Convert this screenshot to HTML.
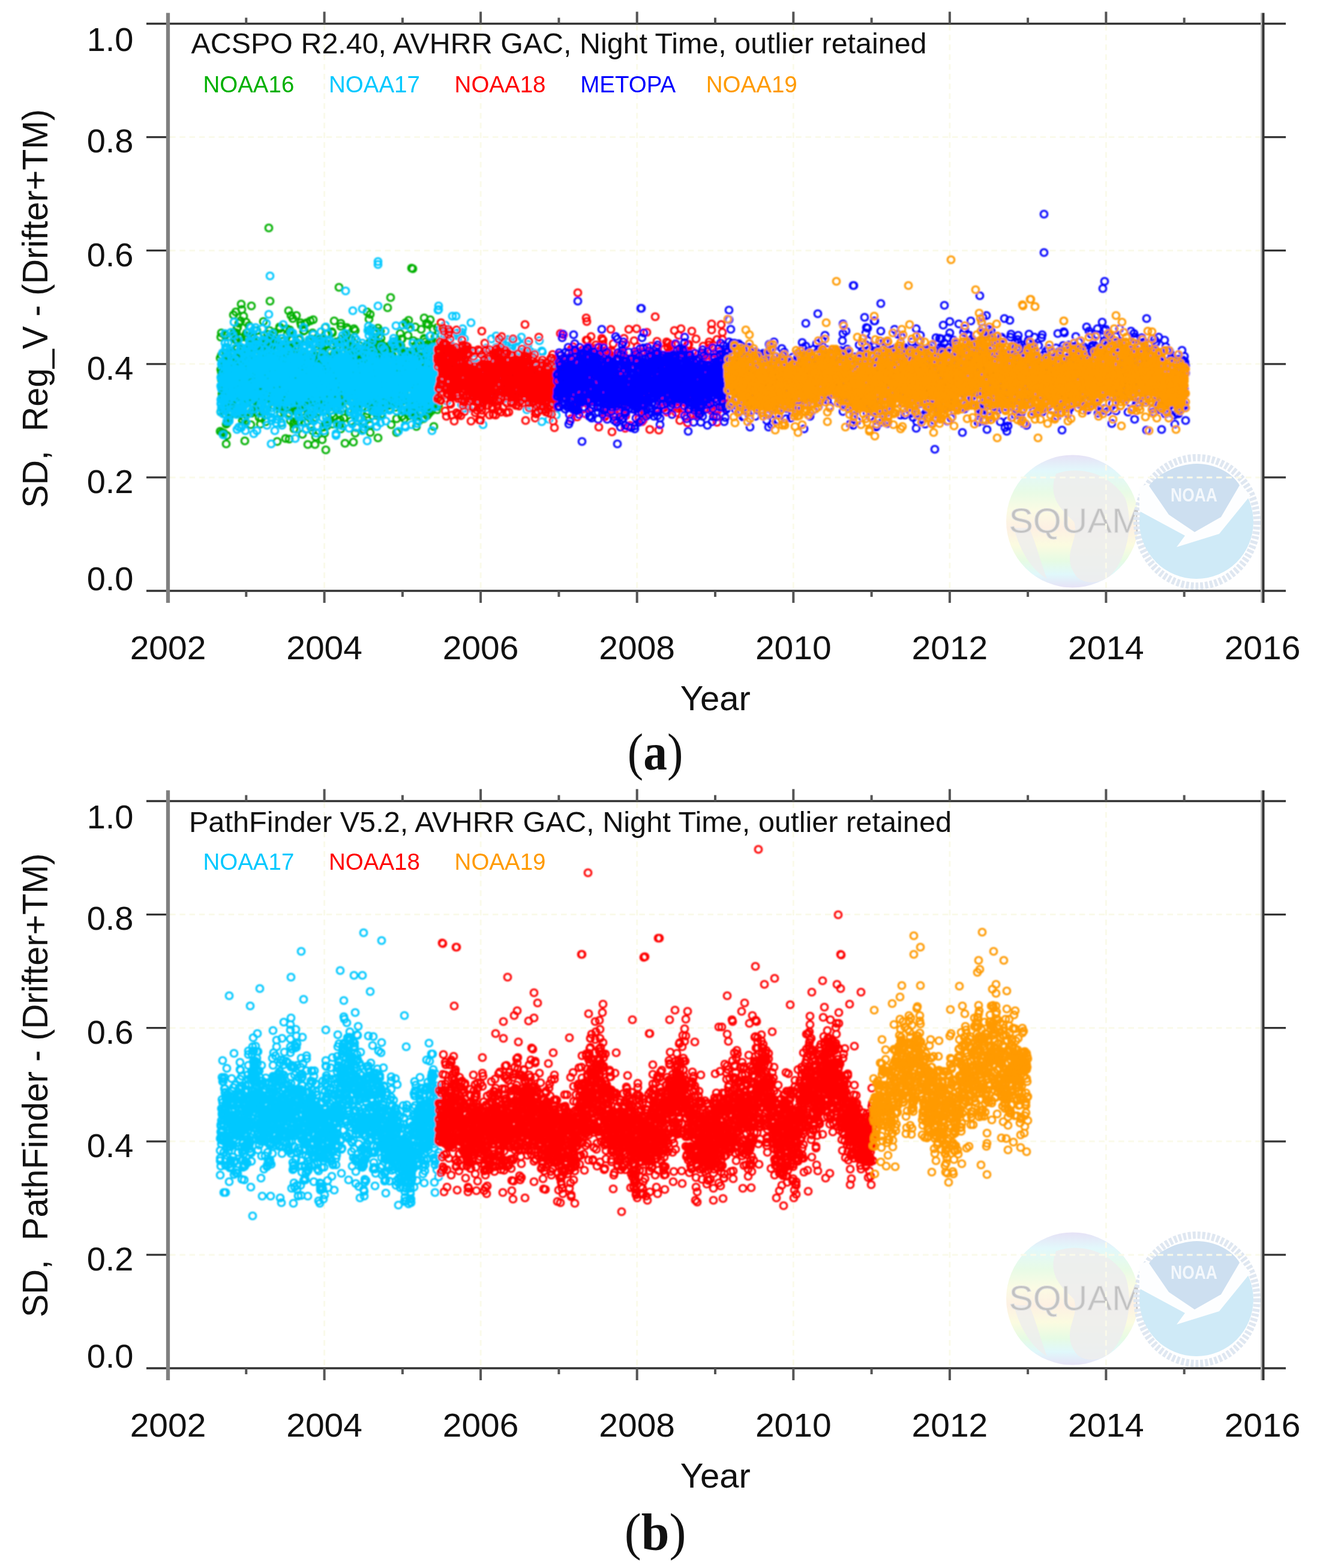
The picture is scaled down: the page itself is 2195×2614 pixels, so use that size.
<!DOCTYPE html>
<html><head><meta charset="utf-8"><style>
html,body{margin:0;padding:0;background:#fff;}
svg{display:block;}
</style></head><body>
<svg width="2195" height="2614" viewBox="0 0 2195 2614" font-family='"Liberation Sans", Arial, Helvetica, sans-serif' fill="#111">
<defs><filter id="gb" x="0" y="0" width="100%" height="100%" filterUnits="userSpaceOnUse"><feGaussianBlur stdDeviation="0"/></filter></defs>
<rect width="2195" height="2614" fill="#fff"/>
<g>
<defs><linearGradient id="globe" x1="0" y1="0" x2="0" y2="1"><stop offset="0" stop-color="#e6e2f6"/><stop offset="0.12" stop-color="#e2f8fb"/><stop offset="0.28" stop-color="#e8fbe6"/><stop offset="0.42" stop-color="#fbfbe4"/><stop offset="0.55" stop-color="#fdf0e3"/><stop offset="0.68" stop-color="#fbfbe0"/><stop offset="0.8" stop-color="#e6fbe4"/><stop offset="0.9" stop-color="#e0f8fb"/><stop offset="1" stop-color="#e6e2f6"/></linearGradient></defs>
<g transform="translate(0 0)">
<circle cx="1787.5" cy="869" r="110.5" fill="url(#globe)"/>
<path d="M1760 790 C1800 775 1850 790 1875 830 C1890 870 1880 930 1850 960 C1830 975 1800 975 1790 955 C1770 920 1800 900 1790 870 C1770 850 1745 830 1760 790Z" fill="#ededed" opacity="0.9"/>
<path d="M1690 880 C1700 920 1720 950 1745 965 C1735 940 1725 900 1715 880Z" fill="#ededed" opacity="0.8"/>
<text x="1681.4" y="887.5" font-size="58" fill="#c2c2c2" stroke="#e2e2e2" stroke-width="1.2" textLength="222" lengthAdjust="spacingAndGlyphs">SQUAM</text>
<ellipse cx="1995" cy="870" rx="100" ry="107" fill="#fff" stroke="#dfe7f1" stroke-width="12" stroke-dasharray="5 3"/>
<circle cx="1994" cy="870" r="95" fill="#cfeaf7"/>
<path d="M1899 812 L1915 806 L1991 884 L2066 805 L2084 826 L2032 890 L1961 912 L1975 893 L1899 852Z" fill="#fdfeff"/>
<path d="M1915 810 C1930 790 1960 774 1995 773 C2030 774 2055 790 2066 809 L2035 862 L1991 887 L1948 858Z" fill="#cddff0"/>
<text x="1990" y="836" text-anchor="middle" font-size="32" font-weight="bold" fill="#f4f8fc" textLength="78" lengthAdjust="spacingAndGlyphs">NOAA</text>
</g>
<g transform="translate(0 1296)">
<circle cx="1787.5" cy="869" r="110.5" fill="url(#globe)"/>
<path d="M1760 790 C1800 775 1850 790 1875 830 C1890 870 1880 930 1850 960 C1830 975 1800 975 1790 955 C1770 920 1800 900 1790 870 C1770 850 1745 830 1760 790Z" fill="#ededed" opacity="0.9"/>
<path d="M1690 880 C1700 920 1720 950 1745 965 C1735 940 1725 900 1715 880Z" fill="#ededed" opacity="0.8"/>
<text x="1681.4" y="887.5" font-size="58" fill="#c2c2c2" stroke="#e2e2e2" stroke-width="1.2" textLength="222" lengthAdjust="spacingAndGlyphs">SQUAM</text>
<ellipse cx="1995" cy="870" rx="100" ry="107" fill="#fff" stroke="#dfe7f1" stroke-width="12" stroke-dasharray="5 3"/>
<circle cx="1994" cy="870" r="95" fill="#cfeaf7"/>
<path d="M1899 812 L1915 806 L1991 884 L2066 805 L2084 826 L2032 890 L1961 912 L1975 893 L1899 852Z" fill="#fdfeff"/>
<path d="M1915 810 C1930 790 1960 774 1995 773 C2030 774 2055 790 2066 809 L2035 862 L1991 887 L1948 858Z" fill="#cddff0"/>
<text x="1990" y="836" text-anchor="middle" font-size="32" font-weight="bold" fill="#f4f8fc" textLength="78" lengthAdjust="spacingAndGlyphs">NOAA</text>
</g>
<path d="M540.6 41.5V983.0M801.1 41.5V983.0M1061.7 41.5V983.0M1322.3 41.5V983.0M1582.9 41.5V983.0M1843.4 41.5V983.0M283.0 795.9H2101.0M283.0 606.8H2101.0M283.0 417.7H2101.0M283.0 228.6H2101.0" stroke="#fafaea" stroke-width="3" stroke-dasharray="9.5 6.8" fill="none"/>
<path d="M244 39.5H2143M244 985.0H2143" stroke="#333" stroke-width="3.3" fill="none"/>
<path d="M244 795.9H280.0M2104.0 795.9H2143M244 606.8H280.0M2104.0 606.8H2143M244 417.7H280.0M2104.0 417.7H2143M244 228.6H280.0M2104.0 228.6H2143" stroke="#333" stroke-width="3.2" fill="none"/>
<path d="M410.3 29.5V39.5M410.3 985.0V995.0M540.6 19.5V39.5M540.6 985.0V1005.0M670.9 29.5V39.5M670.9 985.0V995.0M801.1 19.5V39.5M801.1 985.0V1005.0M931.4 29.5V39.5M931.4 985.0V995.0M1061.7 19.5V39.5M1061.7 985.0V1005.0M1192.0 29.5V39.5M1192.0 985.0V995.0M1322.3 19.5V39.5M1322.3 985.0V1005.0M1452.6 29.5V39.5M1452.6 985.0V995.0M1582.9 19.5V39.5M1582.9 985.0V1005.0M1713.1 29.5V39.5M1713.1 985.0V995.0M1843.4 19.5V39.5M1843.4 985.0V1005.0M1973.7 29.5V39.5M1973.7 985.0V995.0" stroke="#555" stroke-width="4" fill="none"/>
<path d="M280.0 21.5V1005.0" stroke="#808080" stroke-width="6.3" fill="none"/>
<path d="M2102.5 21.5V1005.0" stroke="#bbb" stroke-width="3" fill="none"/>
<path d="M2105.5 21.5V1005.0" stroke="#333" stroke-width="4" fill="none"/>
<path d="M540.6 1337.5V2279.0M801.1 1337.5V2279.0M1061.7 1337.5V2279.0M1322.3 1337.5V2279.0M1582.9 1337.5V2279.0M1843.4 1337.5V2279.0M283.0 2091.9H2101.0M283.0 1902.8H2101.0M283.0 1713.7H2101.0M283.0 1524.6H2101.0" stroke="#fafaea" stroke-width="3" stroke-dasharray="9.5 6.8" fill="none"/>
<path d="M244 1335.5H2143M244 2281.0H2143" stroke="#333" stroke-width="3.3" fill="none"/>
<path d="M244 2091.9H280.0M2104.0 2091.9H2143M244 1902.8H280.0M2104.0 1902.8H2143M244 1713.7H280.0M2104.0 1713.7H2143M244 1524.6H280.0M2104.0 1524.6H2143" stroke="#333" stroke-width="3.2" fill="none"/>
<path d="M410.3 1325.5V1335.5M410.3 2281.0V2291.0M540.6 1315.5V1335.5M540.6 2281.0V2301.0M670.9 1325.5V1335.5M670.9 2281.0V2291.0M801.1 1315.5V1335.5M801.1 2281.0V2301.0M931.4 1325.5V1335.5M931.4 2281.0V2291.0M1061.7 1315.5V1335.5M1061.7 2281.0V2301.0M1192.0 1325.5V1335.5M1192.0 2281.0V2291.0M1322.3 1315.5V1335.5M1322.3 2281.0V2301.0M1452.6 1325.5V1335.5M1452.6 2281.0V2291.0M1582.9 1315.5V1335.5M1582.9 2281.0V2301.0M1713.1 1325.5V1335.5M1713.1 2281.0V2291.0M1843.4 1315.5V1335.5M1843.4 2281.0V2301.0M1973.7 1325.5V1335.5M1973.7 2281.0V2291.0" stroke="#555" stroke-width="4" fill="none"/>
<path d="M280.0 1317.5V2301.0" stroke="#808080" stroke-width="6.3" fill="none"/>
<path d="M2102.5 1317.5V2301.0" stroke="#bbb" stroke-width="3" fill="none"/>
<path d="M2105.5 1317.5V2301.0" stroke="#333" stroke-width="4" fill="none"/>
<defs><filter id="bl" x="-2%" y="-2%" width="104%" height="104%"><feGaussianBlur stdDeviation="0.9"/></filter><marker id="mg" markerWidth="20" markerHeight="20" refX="10" refY="10" markerUnits="userSpaceOnUse"><circle cx="10" cy="10" r="5.8" fill="none" stroke="#00b000" stroke-width="3.1"/></marker><marker id="mc" markerWidth="20" markerHeight="20" refX="10" refY="10" markerUnits="userSpaceOnUse"><circle cx="10" cy="10" r="5.8" fill="none" stroke="#00c8ff" stroke-width="3.1"/></marker><marker id="mr" markerWidth="20" markerHeight="20" refX="10" refY="10" markerUnits="userSpaceOnUse"><circle cx="10" cy="10" r="5.8" fill="none" stroke="#ff0000" stroke-width="3.1"/></marker><marker id="mb" markerWidth="20" markerHeight="20" refX="10" refY="10" markerUnits="userSpaceOnUse"><circle cx="10" cy="10" r="5.8" fill="none" stroke="#0000ff" stroke-width="3.1"/></marker><marker id="mo" markerWidth="20" markerHeight="20" refX="10" refY="10" markerUnits="userSpaceOnUse"><circle cx="10" cy="10" r="5.8" fill="none" stroke="#ff9a00" stroke-width="3.1"/></marker></defs>
<g filter="url(#bl)">
<polyline points="367,597 368,687 368,686 368,616 368,562 369,621 369,592 369,633 369,555 370,661 370,721 370,656 370,641 371,628 371,661 371,631 371,663 372,624 372,685 372,651 372,619 373,647 373,654 373,722 373,647 374,661 374,604 374,670 374,627 375,559 375,690 375,649 375,675 376,612 376,667 376,601 376,663 377,740 377,607 377,588 377,707 378,649 378,579 378,645 378,726 378,660 379,593 379,705 379,681 380,635 380,593 380,667 380,667 381,625 381,669 381,668 381,626 382,604 382,607 382,697 382,596 382,679 383,561 383,622 383,655 383,654 384,652 384,632 384,662 385,618 385,660 385,600 385,589 385,656 386,624 386,635 386,632 387,651 387,655 387,635 387,656 388,630 388,659 388,643 388,659 389,525 389,605 389,654 389,654 389,611 390,554 390,609 390,588 391,554 391,666 391,629 391,646 391,665 392,643 392,656 392,566 392,689 393,682 393,520 393,612 394,566 394,673 394,555 394,596 394,628 395,582 395,547 395,689 395,671 396,646 396,546 396,608 396,639 397,609 397,621 397,607 397,658 398,663 398,588 398,634 398,539 399,656 399,616 399,563 399,620 400,616 400,632 400,642 400,614 401,625 401,643 401,535 401,641 402,643 402,621 402,507 402,616 403,658 403,613 403,516 403,644 404,709 404,701 404,640 404,651 405,623 405,606 405,680 405,604 406,651 406,601 406,573 406,695 407,675 407,638 407,592 407,619 408,608 408,616 408,610 408,669 408,697 409,623 409,589 409,559 410,631 410,604 410,646 410,537 411,586 411,615 411,555 411,666 412,603 412,582 412,638 412,650 413,603 413,671 413,662 413,609 413,562 414,612 414,585 414,606 414,626 415,543 415,645 415,641 416,682 416,621 416,625 416,652 416,614 417,578 417,591 417,638 417,575 418,599 418,612 418,708 419,597 419,654 419,689 419,667 420,644 420,632 420,685 420,650 421,628 421,658 421,622 421,632 422,643 422,644 422,573 422,564 422,634 423,663 423,676 423,569 423,630 424,601 424,578 424,581 424,629 425,589 425,603 425,578 425,682 426,669 426,652 426,628 426,650 427,687 427,666 427,633 427,657 428,637 428,612 428,639 428,551 429,635 429,674 429,620 429,651 430,579 430,653 430,608 430,639 431,663 431,618 431,616 431,562 432,672 432,696 432,600 432,584 433,622 433,657 433,627 433,657 434,600 434,628 434,707 434,620 435,678 435,667 435,587 435,603 436,697 436,649 436,642 436,582 436,655 437,665 437,614 437,620 438,662 438,570 438,612 438,670 439,582 439,596 439,536 439,594 440,662 440,620 440,643 440,605 441,648 441,642 441,628 441,632 442,593 442,612 442,627 442,636 443,579 443,597 443,565 443,703 444,587 444,622 444,569 444,627 445,656 445,632 445,682 445,657 445,591 446,568 446,601 446,557 447,606 447,648 447,644 447,626 447,637 448,638 448,603 448,672 448,608 449,646 449,573 449,551 450,600 450,660 450,585 450,571 450,667 451,598 451,619 451,636 451,606 452,612 452,627 452,590 452,613 453,565 453,611 453,588 453,670 454,565 454,633 454,572 454,643 455,667 455,640 455,645 456,608 456,655 456,676 456,622 457,653 457,554 457,661 457,561 457,583 458,611 458,624 458,595 458,594 459,575 459,616 459,614 459,618 460,631 460,604 460,603 460,650 461,657 461,636 461,573 461,638 462,736 462,587 462,639 462,671 463,630 463,602 463,595 463,604 463,602 464,677 464,646 464,597 465,647 465,629 465,632 465,612 466,548 466,672 466,545 466,665 466,676 467,633 467,644 467,688 468,650 468,657 468,649 468,630 469,705 469,658 469,627 469,638 470,627 470,606 470,641 470,628 471,640 471,644 471,677 471,569 471,584 472,659 472,678 472,598 473,606 473,686 473,626 473,599 474,671 474,629 474,610 474,676 475,650 475,619 475,605 475,625 476,628 476,731 476,672 476,641 477,586 477,637 477,641 477,581 477,602 478,629 478,630 478,677 478,548 479,659 479,557 479,661 479,615 480,663 480,648 480,588 480,632 481,622 481,592 481,667 482,628 482,578 482,689 482,598 482,732 483,620 483,554 483,550 483,627 484,580 484,638 484,701 484,575 485,627 485,526 485,661 485,678 486,597 486,634 486,581 486,612 487,685 487,642 487,655 487,567 488,574 488,604 488,641 488,531 489,707 489,586 489,657 489,650 490,587 490,677 490,703 490,668 491,637 491,622 491,594 491,608 492,607 492,578 492,639 492,654 493,609 493,618 493,589 493,646 494,642 494,640 494,629 494,672 495,685 495,663 495,625 495,627 496,609 496,683 496,650 496,703 497,661 497,592 497,622 497,617 498,566 498,666 498,656 498,607 499,603 499,611 499,622 499,640 499,597 500,600 500,595 500,624 500,566 501,670 501,538 501,676 502,687 502,677 502,592 502,673 502,647 503,661 503,665 503,614 503,602 504,627 504,595 504,643 504,616 505,676 505,641 505,631 505,636 506,577 506,552 506,611 507,551 507,609 507,643 507,646 507,619 508,664 508,690 508,540 508,654 509,705 509,659 509,662 510,652 510,638 510,636 510,628 510,629 511,596 511,590 511,538 511,637 512,614 512,655 512,663 512,642 513,597 513,645 513,702 513,741 514,664 514,612 514,687 514,605 515,570 515,607 515,657 515,665 516,619 516,629 516,615 516,650 517,683 517,535 517,673 517,617 518,632 518,654 518,712 518,669 519,642 519,614 519,600 519,565 520,634 520,605 520,621 520,631 521,636 521,718 521,555 521,626 522,648 522,660 522,533 522,669 523,671 523,632 523,639 523,691 524,659 524,636 524,654 524,660 525,741 525,614 525,595 525,638 526,728 526,696 526,672 526,638 527,609 527,593 527,613 527,664 528,589 528,688 528,641 528,610 529,637 529,584 529,630 529,602 530,615 530,588 530,668 530,643 531,566 531,596 531,675 531,588 531,645 532,633 532,643 532,571 532,614 533,654 533,647 533,633 533,662 534,622 534,680 534,674 534,612 535,660 535,642 535,643 536,628 536,601 536,576 536,664 536,609 537,639 537,608 537,628 538,662 538,596 538,667 538,675 538,563 539,712 539,631 539,610 539,670 540,644 540,606 540,673 541,577 541,594 541,722 541,592 541,677 542,631 542,546 542,707 542,591 543,652 543,575 543,557 543,750 544,628 544,556 544,630 544,696 545,573 545,710 545,655 545,657 546,645 546,608 546,653 546,620 547,668 547,644 547,636 547,597 548,647 548,661 548,667 548,601 549,662 549,603 549,626 549,608 550,640 550,700 550,630 550,634 550,633 551,613 551,654 551,675 551,650 552,597 552,638 552,630 553,656 553,690 553,617 553,553 553,636 554,555 554,660 554,668 554,576 555,625 555,707 555,666 556,694 556,619 556,606 556,603 556,603 557,590 557,633 557,607 557,535 558,595 558,619 558,623 559,641 559,651 559,629 559,652 560,596 560,600 560,570 560,664 560,605 561,581 561,591 561,680 561,599 562,678 562,595 562,599 563,668 563,683 563,616 563,666 564,611 564,674 564,632 564,626 565,591 565,703 565,602 565,652 566,708 566,655 566,596 566,623 567,629 567,626 567,617 567,606 567,700 568,539 568,544 568,659 568,715 569,565 569,638 569,674 569,625 570,665 570,601 570,601 571,612 571,664 571,660 571,618 572,602 572,622 572,625 572,681 572,622 573,697 573,649 573,664 573,654 574,624 574,617 574,668 574,621 575,623 575,739 575,621 575,605 576,564 576,560 576,609 576,623 577,618 577,621 577,618 577,622 578,636 578,576 578,603 578,546 579,655 579,613 579,601 579,573 580,586 580,549 580,608 580,638 581,593 581,615 581,687 581,600 581,605 582,563 582,614 582,649 583,650 583,611 583,612 583,591 584,653 584,670 584,651 584,612 585,580 585,653 585,601 585,702 586,566 586,653 586,649 586,594 586,609 587,609 587,631 587,647 588,615 588,614 588,641 588,645 588,671 589,605 589,593 589,676 589,737 590,651 590,689 590,548 591,584 591,680 591,638 591,611 591,634 592,574 592,626 592,551 592,636 593,618 593,610 593,627 593,611 594,642 594,713 594,634 595,669 595,639 595,675 595,621 595,605 596,617 596,623 596,606 596,664 597,587 597,580 597,600 597,697 598,664 598,595 598,626 598,594 599,617 599,598 599,615 599,576 600,631 600,671 600,625 600,674 601,697 601,647 601,600 601,647 602,587 602,639 602,640 603,623 603,594 603,679 603,656 603,655 604,599 604,603 604,659 604,602 605,636 605,632 605,642 605,659 606,716 606,638 606,631 606,632 607,655 607,642 607,704 607,649 608,660 608,646 608,613 608,582 609,646 609,637 609,631 609,578 610,610 610,611 610,632 610,644 611,610 611,650 611,585 611,654 612,639 612,690 612,670 612,520 612,627 613,668 613,685 613,615 614,671 614,635 614,649 614,614 615,593 615,595 615,532 615,574 615,667 616,603 616,571 616,550 616,596 617,709 617,603 617,721 618,614 618,607 618,590 618,635 618,677 619,580 619,642 619,623 620,591 620,622 620,625 620,646 620,604 621,693 621,611 621,658 621,573 622,673 622,618 622,662 623,567 623,674 623,680 623,676 623,622 624,627 624,605 624,631 625,565 625,676 625,551 625,680 625,665 626,613 626,658 626,651 626,687 627,553 627,689 627,618 627,655 628,677 628,592 628,626 628,648 629,693 629,645 629,607 629,600 630,663 630,730 630,577 630,547 631,595 631,597 631,666 631,573 632,608 632,604 632,676 633,631 633,679 633,642 633,580 633,570 634,677 634,624 634,609 634,552 635,564 635,613 635,606 635,691 636,584 636,594 636,663 636,676 637,667 637,580 637,655 637,639 638,576 638,623 638,642 638,636 639,591 639,629 639,594 639,675 640,621 640,679 640,647 640,672 641,615 641,654 641,626 641,624 642,639 642,629 642,591 642,635 643,592 643,604 643,659 643,666 644,671 644,636 644,585 644,610 645,615 645,620 645,639 645,643 646,626 646,598 646,663 646,643 647,638 647,579 647,597 647,630 648,658 648,635 648,676 648,616 649,663 649,681 649,649 649,674 650,634 650,617 650,576 650,672 651,618 651,673 651,496 651,631 651,639 652,708 652,584 652,636 653,592 653,613 653,575 653,642 653,648 654,674 654,593 654,646 654,675 655,658 655,621 655,621 655,624 656,649 656,600 656,611 656,630 657,609 657,611 657,651 657,651 658,647 658,620 658,650 658,672 659,679 659,649 659,602 660,622 660,653 660,607 660,651 660,664 661,721 661,658 661,698 661,651 662,571 662,577 662,666 662,568 663,615 663,580 663,576 663,639 664,664 664,626 664,581 664,657 665,665 665,663 665,640 665,609 666,634 666,665 666,661 666,650 667,643 667,623 667,647 667,556 667,654 668,576 668,660 668,641 669,565 669,581 669,619 669,587 670,635 670,565 670,616 670,663 670,694 671,633 671,619 671,638 672,599 672,587 672,683 672,609 673,646 673,664 673,668 673,613 674,655 674,698 674,619 674,627 674,607 675,605 675,590 675,650 676,649 676,604 676,622 676,637 677,605 677,618 677,664 677,623 678,586 678,542 678,623 678,619 678,604 679,605 679,643 679,623 680,627 680,615 680,625 680,627 680,559 681,588 681,655 681,534 681,613 682,693 682,618 682,625 682,624 683,592 683,607 683,634 683,603 684,670 684,637 684,663 685,624 685,618 685,627 685,685 686,586 686,594 686,690 686,605 686,603 687,607 687,623 687,623 687,633 688,671 688,635 688,640 689,628 689,568 689,623 689,662 689,649 690,686 690,654 690,665 690,688 691,669 691,623 691,686 691,662 692,695 692,545 692,641 692,640 693,625 693,642 693,576 693,608 694,622 694,711 694,590 694,662 695,622 695,694 695,650 695,679 696,694 696,571 696,615 696,627 697,618 697,574 697,668 697,674 698,679 698,620 698,702 698,659 698,600 699,622 699,631 699,634 700,598 700,635 700,588 700,623 701,625 701,594 701,675 701,640 702,614 702,549 702,689 702,603 703,663 703,606 703,616 703,635 704,609 704,597 704,669 704,630 705,628 705,657 705,598 705,660 706,698 706,648 706,578 706,622 707,566 707,530 707,564 707,622 707,644 708,614 708,662 708,678 708,684 709,618 709,570 709,580 710,639 710,618 710,649 710,598 711,653 711,617 711,539 711,649 712,582 712,635 712,640 712,693 712,603 713,636 713,642 713,686 714,604 714,600 714,614 714,624 714,595 715,648 715,576 715,689 715,674 716,666 716,649 716,623 716,637 717,572 717,640 717,533 717,640 718,616 718,632 718,657 718,641 719,676 719,577 719,685 719,679 720,658 720,615 720,680 720,612 721,663 721,678 721,601 722,549 722,619 722,625 722,660 722,570 723,655 723,618 723,646 723,711 724,675 724,621 724,662 724,614 725,610 725,562 725,666 725,657 726,665 726,671 726,591 726,600 727,585 727,627 727,622 727,622 728,643 728,625 728,637 728,619 729,622 729,683 729,594 729,546 730,678 730,602 730,588 730,596 731,569 731,612 731,677 731,569 688,448 565,479 450,502 419,510 406,527 481,518 494,526 502,542 617,524 646,513 676,538 714,541 408,735 537,733 592,722 504,724 367,719 490,715 448,380 686,447" fill="none" stroke="none" marker-start="url(#mg)" marker-mid="url(#mg)" marker-end="url(#mg)"/>
<polyline points="368,629 368,643 368,644 368,687 368,673 368,666 369,680 369,607 369,673 369,648 370,603 370,632 370,607 370,664 370,609 371,634 371,588 371,638 372,622 372,690 372,630 372,668 372,607 373,589 373,675 373,644 373,621 374,664 374,679 374,626 374,660 374,634 375,599 375,572 375,667 375,556 375,685 376,641 376,625 376,596 376,579 377,607 377,615 377,583 377,639 378,611 378,702 378,645 378,609 378,660 378,649 379,619 379,628 379,637 379,637 380,572 380,647 380,666 380,629 381,627 381,635 381,651 381,690 382,616 382,632 382,702 382,627 382,584 382,700 383,612 383,666 383,608 384,637 384,587 384,651 384,640 384,626 385,621 385,554 385,642 385,658 386,625 386,617 386,685 386,637 386,634 387,591 387,598 387,623 387,610 387,662 388,626 388,559 388,682 388,678 389,636 389,654 389,636 389,660 390,601 390,657 390,537 390,639 390,647 391,635 391,637 391,655 391,630 391,639 392,599 392,631 392,654 392,688 393,618 393,621 393,622 393,580 393,645 394,622 394,686 394,691 394,615 395,716 395,619 395,616 395,656 396,633 396,594 396,686 396,664 396,611 397,631 397,567 397,593 397,610 397,609 398,646 398,664 398,712 398,652 399,685 399,636 399,683 399,617 400,621 400,674 400,584 400,621 400,670 401,632 401,580 401,651 401,658 402,579 402,615 402,649 402,677 402,713 403,683 403,617 403,627 403,635 404,689 404,676 404,605 404,684 405,649 405,641 405,657 405,653 405,652 406,624 406,588 406,628 406,627 406,669 407,633 407,587 407,628 407,650 408,672 408,599 408,614 408,613 408,630 409,623 409,657 409,595 409,607 410,650 410,704 410,647 410,645 411,580 411,681 411,586 411,661 411,600 412,649 412,650 412,624 412,599 412,613 413,659 413,593 413,609 413,647 414,554 414,679 414,690 414,625 415,604 415,666 415,577 415,651 415,654 416,568 416,683 416,571 416,645 417,572 417,650 417,665 417,664 417,586 418,546 418,608 418,641 418,594 418,620 419,581 419,667 419,620 419,558 420,639 420,642 420,610 420,615 420,650 421,613 421,623 421,577 421,624 422,638 422,682 422,599 422,607 423,652 423,723 423,550 423,648 423,647 424,663 424,649 424,604 424,659 425,609 425,621 425,576 425,646 425,647 426,566 426,638 426,608 426,546 427,574 427,604 427,641 427,598 427,593 428,568 428,657 428,611 428,639 428,613 429,614 429,618 429,591 430,579 430,657 430,616 430,611 430,616 431,592 431,657 431,609 431,662 431,640 432,600 432,627 432,630 432,632 433,609 433,581 433,627 433,679 433,616 434,689 434,602 434,619 434,646 435,631 435,593 435,648 435,600 435,673 436,657 436,640 436,674 436,610 437,635 437,548 437,658 437,632 438,606 438,567 438,660 438,612 438,625 439,601 439,669 439,615 439,679 439,666 440,663 440,685 440,606 440,560 440,608 441,641 441,626 441,568 441,681 442,592 442,610 442,609 442,582 443,606 443,686 443,622 443,651 444,539 444,644 444,692 444,649 444,628 445,634 445,641 445,709 445,589 446,642 446,608 446,619 446,639 446,574 447,607 447,592 447,601 447,672 448,652 448,587 448,619 448,644 448,587 449,611 449,631 449,644 449,658 449,647 450,659 450,668 450,561 450,619 451,658 451,602 451,695 451,596 452,622 452,687 452,740 452,589 452,607 453,680 453,598 453,701 453,676 454,648 454,556 454,610 454,697 455,592 455,598 455,626 455,624 455,637 455,579 456,662 456,634 456,662 456,611 457,665 457,646 457,570 457,647 457,643 458,638 458,654 458,718 458,629 459,592 459,632 459,605 459,609 459,671 460,581 460,705 460,639 461,653 461,608 461,660 461,666 461,638 462,665 462,610 462,678 462,699 462,656 463,656 463,666 463,601 463,669 464,585 464,655 464,672 464,570 464,635 465,661 465,645 465,591 465,661 466,595 466,621 466,660 466,596 466,616 467,656 467,692 467,587 467,622 468,630 468,602 468,621 468,564 469,643 469,623 469,585 469,610 469,669 470,638 470,592 470,577 470,709 470,611 471,681 471,626 471,564 471,613 472,602 472,621 472,611 472,605 473,670 473,618 473,580 473,627 473,653 474,628 474,635 474,665 474,648 475,604 475,577 475,619 475,634 475,577 476,603 476,633 476,623 476,646 477,622 477,628 477,622 477,617 477,611 478,615 478,677 478,624 478,635 478,625 479,671 479,587 479,645 480,634 480,654 480,583 480,626 480,631 481,650 481,649 481,666 481,692 481,693 482,606 482,650 482,645 482,590 483,565 483,590 483,628 483,601 483,664 484,618 484,671 484,565 484,598 485,554 485,645 485,662 485,627 485,605 486,576 486,598 486,657 486,672 487,647 487,595 487,645 487,623 487,666 488,605 488,661 488,642 488,555 489,652 489,622 489,619 489,596 490,630 490,631 490,630 490,640 490,614 491,633 491,607 491,645 491,599 492,622 492,731 492,644 492,589 492,638 492,620 493,603 493,657 493,671 494,632 494,620 494,570 494,716 494,595 495,616 495,645 495,606 495,600 496,621 496,573 496,598 496,658 497,641 497,692 497,689 497,661 497,637 497,606 498,693 498,588 498,622 498,604 499,656 499,663 499,695 499,564 500,624 500,640 500,627 500,599 500,642 501,659 501,624 501,667 501,639 502,636 502,666 502,680 502,593 502,659 503,609 503,631 503,624 503,704 503,633 504,626 504,619 504,642 504,652 505,662 505,588 505,664 505,637 505,607 506,658 506,678 506,546 506,632 507,643 507,581 507,592 507,588 507,655 508,632 508,578 508,600 508,648 509,575 509,604 509,625 509,659 510,672 510,716 510,715 510,598 510,608 511,646 511,646 511,653 511,630 512,654 512,663 512,640 512,615 512,634 513,631 513,611 513,614 513,632 514,657 514,620 514,622 514,692 515,693 515,598 515,566 515,585 515,607 516,640 516,574 516,652 516,580 517,630 517,633 517,595 517,638 517,584 518,710 518,568 518,602 518,620 518,649 519,596 519,690 519,684 519,683 520,623 520,566 520,651 520,659 520,684 521,610 521,589 521,679 521,626 522,643 522,648 522,624 522,558 523,702 523,625 523,653 523,634 523,662 524,685 524,611 524,642 524,644 525,612 525,648 525,666 525,634 525,698 526,656 526,611 526,634 526,612 527,644 527,722 527,629 527,670 527,611 528,628 528,649 528,624 528,616 528,652 529,640 529,625 529,681 529,710 530,578 530,611 530,624 530,638 531,646 531,654 531,648 531,682 531,631 532,661 532,620 532,640 532,572 533,652 533,670 533,568 533,634 533,604 534,652 534,615 534,655 534,635 534,628 535,617 535,553 535,682 535,573 536,648 536,660 536,636 536,594 537,638 537,590 537,669 537,647 537,592 538,636 538,629 538,686 538,697 539,614 539,631 539,640 539,683 539,686 540,569 540,630 540,599 540,718 541,654 541,618 541,637 541,600 541,631 542,636 542,624 542,677 542,599 542,662 543,648 543,624 543,545 544,642 544,644 544,626 544,694 544,645 545,603 545,702 545,602 545,658 546,569 546,706 546,633 546,604 546,640 547,641 547,602 547,638 547,605 547,556 548,662 548,638 548,628 548,604 549,671 549,675 549,640 549,630 550,603 550,568 550,636 550,614 550,653 551,678 551,649 551,679 551,588 552,642 552,615 552,679 552,651 552,646 553,684 553,642 553,615 553,647 554,650 554,603 554,612 554,653 554,648 555,671 555,572 555,623 555,648 556,663 556,606 556,622 556,621 556,599 557,611 557,674 557,660 557,642 557,642 558,660 558,629 558,670 559,589 559,623 559,619 559,652 559,612 559,608 560,723 560,726 560,615 560,634 561,648 561,671 561,663 561,628 562,598 562,611 562,677 562,708 562,607 563,669 563,629 563,682 563,678 564,604 564,587 564,572 564,597 564,620 565,615 565,601 565,646 565,620 566,619 566,617 566,623 566,623 566,636 567,684 567,579 567,617 567,605 568,631 568,662 568,636 568,570 568,617 569,673 569,624 569,663 569,599 570,605 570,710 570,608 570,598 570,662 571,615 571,650 571,559 571,623 572,626 572,622 572,622 572,602 573,644 573,639 573,644 573,590 574,613 574,609 574,647 574,637 574,618 574,595 575,570 575,626 575,577 575,597 576,556 576,604 576,642 576,594 577,611 577,648 577,652 577,602 577,595 578,615 578,608 578,595 578,623 579,601 579,601 579,605 579,635 579,631 580,617 580,610 580,661 580,591 580,646 581,593 581,677 581,612 581,626 582,636 582,629 582,640 582,714 583,656 583,660 583,648 583,574 583,610 584,641 584,633 584,649 584,687 585,670 585,659 585,604 585,659 585,590 586,599 586,620 586,684 586,613 587,707 587,659 587,628 587,659 587,608 588,598 588,648 588,518 588,668 589,612 589,607 589,675 589,643 589,637 590,647 590,666 590,677 590,658 591,563 591,579 591,690 591,677 592,688 592,695 592,653 592,622 592,681 593,651 593,637 593,631 593,631 593,579 594,712 594,606 594,615 594,567 595,651 595,644 595,585 595,665 596,620 596,629 596,636 596,629 596,686 597,582 597,633 597,687 597,633 598,680 598,697 598,614 598,609 598,668 599,609 599,660 599,621 599,596 600,648 600,655 600,654 600,624 600,623 601,698 601,662 601,659 601,605 602,659 602,666 602,654 602,641 602,659 603,667 603,619 603,653 603,643 604,661 604,718 604,572 604,705 604,645 605,654 605,605 605,669 605,646 605,612 606,617 606,646 606,641 606,662 607,661 607,712 607,661 607,612 608,613 608,680 608,626 608,591 608,667 609,626 609,616 609,612 609,576 609,627 610,672 610,673 610,584 610,630 611,650 611,642 611,632 611,604 612,646 612,645 612,735 612,593 612,627 613,670 613,592 613,551 613,632 614,652 614,544 614,617 614,618 614,612 615,559 615,634 615,643 615,617 616,706 616,649 616,655 616,629 616,631 617,650 617,593 617,640 617,614 618,606 618,636 618,659 618,660 619,600 619,649 619,582 619,595 619,547 620,569 620,641 620,648 620,684 620,656 621,564 621,647 621,663 621,598 622,658 622,587 622,644 622,649 622,615 623,650 623,617 623,607 623,653 624,619 624,666 624,686 624,649 624,594 625,649 625,635 625,597 625,613 626,669 626,636 626,554 626,702 626,684 627,631 627,645 627,638 627,628 628,672 628,687 628,711 628,649 629,633 629,611 629,658 629,643 629,642 630,679 630,661 630,608 630,608 631,560 631,616 631,651 631,596 631,687 632,636 632,683 632,605 632,660 633,683 633,622 633,631 633,658 634,646 634,638 634,705 634,623 634,613 634,634 635,633 635,618 635,645 636,675 636,578 636,623 636,676 636,658 637,663 637,605 637,612 637,673 637,693 638,657 638,619 638,685 638,658 638,676 639,627 639,657 639,637 639,649 640,632 640,668 640,598 640,582 641,612 641,585 641,631 641,674 641,633 642,552 642,650 642,606 642,599 643,702 643,639 643,622 643,630 643,655 644,617 644,650 644,638 644,594 645,658 645,635 645,632 645,612 646,653 646,614 646,600 646,656 646,653 647,606 647,626 647,655 647,651 647,604 648,620 648,640 648,635 648,596 649,633 649,661 649,634 649,684 649,633 650,620 650,626 650,647 650,683 651,650 651,595 651,613 651,682 651,681 652,644 652,646 652,639 652,645 653,648 653,608 653,664 653,647 653,650 654,666 654,571 654,626 654,651 655,634 655,638 655,636 655,661 656,645 656,569 656,648 656,632 656,564 657,653 657,657 657,674 657,574 658,641 658,647 658,655 658,607 658,647 659,580 659,591 659,620 659,636 660,543 660,608 660,615 660,647 660,627 661,604 661,685 661,670 661,604 662,638 662,661 662,599 662,634 662,669 663,620 663,636 663,646 663,638 664,638 664,608 664,653 664,642 664,719 665,619 665,647 665,676 665,676 665,641 666,575 666,629 666,636 666,629 667,604 667,665 667,631 667,644 668,626 668,608 668,634 668,610 668,600 669,636 669,652 669,602 669,637 670,647 670,685 670,606 670,645 671,635 671,542 671,644 671,629 671,648 672,632 672,585 672,659 672,677 673,601 673,602 673,665 673,602 673,647 674,649 674,599 674,643 674,619 674,643 675,683 675,639 675,674 675,710 676,636 676,644 676,594 676,664 677,628 677,602 677,618 677,648 677,628 678,614 678,631 678,626 678,668 679,684 679,647 679,616 679,644 679,662 680,633 680,602 680,617 680,654 680,610 681,637 681,623 681,640 681,631 682,637 682,589 682,639 682,632 682,610 683,613 683,621 683,615 684,637 684,628 684,630 684,546 684,613 685,623 685,669 685,604 685,586 685,604 686,664 686,708 686,673 686,669 686,674 687,645 687,662 687,627 687,690 688,572 688,611 688,634 688,661 689,693 689,622 689,650 689,675 689,682 690,680 690,657 690,622 690,627 690,632 691,657 691,599 691,625 691,602 692,630 692,616 692,605 692,652 693,607 693,623 693,640 693,659 694,583 694,654 694,656 694,654 694,654 694,633 695,706 695,612 695,617 695,628 696,619 696,597 696,645 696,677 697,700 697,614 697,648 697,663 697,626 698,650 698,689 698,671 698,656 699,601 699,621 699,628 699,643 699,663 700,621 700,573 700,658 700,620 701,676 701,680 701,658 701,634 702,633 702,631 702,581 702,655 702,647 703,686 703,645 703,619 703,663 703,646 704,631 704,620 704,627 704,653 705,652 705,669 705,636 705,606 706,637 706,641 706,662 706,646 706,681 707,640 707,650 707,607 707,649 707,599 708,631 708,649 708,636 708,645 709,581 709,637 709,649 709,652 710,652 710,666 710,624 710,662 711,657 711,663 711,672 711,635 711,587 711,620 712,662 712,622 712,585 712,645 713,639 713,610 713,675 713,673 713,629 714,681 714,631 714,619 714,596 715,582 715,621 715,671 715,625 716,650 716,618 716,622 716,624 716,603 717,670 717,659 717,654 717,560 718,639 718,622 718,602 718,612 719,631 719,598 719,617 719,598 719,602 720,639 720,634 720,656 720,718 720,645 721,663 721,632 721,664 721,668 722,659 722,627 722,579 722,579 722,616 723,638 723,624 723,614 723,581 724,621 724,640 724,652 724,607 724,631 725,637 725,678 725,619 725,634 726,620 726,632 726,618 726,594 726,604 727,677 727,651 727,636 727,640 728,608 728,646 728,607 728,578 729,611 729,622 729,634 730,615 730,603 731,605 731,598 731,510 732,649 732,601 733,583 733,634 734,561 734,587 734,548 735,595 735,573 736,640 736,597 737,638 737,593 737,597 738,646 738,590 739,628 739,588 740,569 740,633 741,561 741,609 742,542 742,621 743,593 743,550 743,551 744,583 744,597 745,636 745,599 745,669 746,559 746,593 747,570 748,612 748,570 748,588 749,643 749,584 749,589 750,628 751,633 751,584 751,641 752,631 752,642 753,610 753,636 754,527 754,577 755,607 755,642 755,639 756,656 756,600 757,610 757,617 758,587 758,616 759,623 759,583 759,633 760,626 760,570 761,604 761,601 762,555 762,657 762,592 763,642 763,560 764,598 764,587 765,634 765,605 766,591 766,558 766,623 767,556 768,623 768,599 769,617 769,585 769,674 770,576 770,554 771,637 771,548 771,637 772,593 772,655 773,628 773,599 774,630 774,565 775,641 775,681 776,623 776,621 776,632 777,579 777,583 778,634 778,600 779,645 779,610 780,589 780,605 781,681 781,584 782,621 782,625 782,602 783,668 783,616 783,615 784,615 785,618 785,634 785,635 786,604 786,636 787,614 787,663 788,640 788,617 789,607 789,659 789,599 790,647 790,609 791,638 791,653 792,632 792,638 792,588 793,668 794,624 794,648 794,615 795,664 795,650 796,666 796,631 796,630 797,618 797,626 798,627 798,624 799,606 799,664 800,674 800,653 801,674 801,632 802,620 802,633 802,619 803,648 803,666 804,662 804,650 805,611 805,708 805,628 806,603 806,589 807,662 807,631 808,619 808,616 809,659 809,630 809,629 810,606 810,621 811,580 811,635 812,656 812,628 812,604 813,639 813,612 814,622 815,642 815,653 815,645 816,657 816,636 817,665 817,594 818,621 818,601 819,565 819,639 819,624 820,603 820,603 821,637 821,667 821,599 822,609 822,644 823,623 823,625 824,643 824,619 825,652 825,596 825,629 826,634 827,560 827,579 828,620 828,647 828,613 829,644 829,639 829,655 830,650 831,582 831,603 831,581 832,586 832,649 833,604 833,600 834,662 834,635 834,616 835,610 836,668 836,634 836,666 837,580 837,620 838,570 838,651 839,599 839,612 839,632 840,582 840,587 841,609 841,592 842,621 842,659 843,608 843,587 843,620 844,570 845,566 845,664 845,655 846,640 846,637 847,566 847,620 848,622 848,654 848,618 849,627 849,621 850,654 850,607 851,586 851,581 851,633 852,603 852,596 853,630 853,581 854,576 854,629 855,665 855,566 856,643 856,632 856,617 857,613 857,601 858,648 858,625 859,666 859,607 859,579 860,645 860,657 861,625 861,604 862,567 862,610 863,598 863,613 863,611 864,627 864,616 865,656 865,591 866,622 866,612 867,588 867,597 868,625 868,603 869,624 869,562 870,623 870,593 870,635 871,636 871,576 871,624 872,601 872,607 873,654 873,671 874,672 875,611 875,594 875,614 876,599 876,607 876,640 877,604 878,599 878,579 878,683 879,643 879,616 880,574 880,601 881,584 881,648 881,603 882,593 882,620 883,608 883,614 884,586 884,664 885,629 885,651 885,681 886,588 886,619 887,621 887,614 888,624 888,610 889,628 889,655 890,640 890,623 890,661 891,589 891,609 892,615 892,636 892,650 893,629 894,659 894,665 894,654 895,649 895,671 896,658 896,672 896,624 897,642 898,632 898,665 898,616 899,681 899,568 900,618 900,625 901,641 901,683 902,606 902,646 903,585 903,668 903,703 904,587 904,619 905,640 905,642 906,606 906,634 906,653 907,636 907,674 908,642 908,610 909,631 909,671 910,618 910,650 910,663 911,628 911,623 912,650 912,627 913,653 913,622 914,634 914,631 914,628 915,699 916,621 916,620 916,631 917,639 917,628 917,641 918,618 919,635 919,628 920,658 920,681 920,609 921,605 921,620 922,661 922,601 923,631 923,669 924,628 924,654 924,649 925,620 925,602 926,653 926,623 927,692 927,617 927,659 928,638 731,516 760,527 785,538 450,460 576,485 630,441 604,515 630,510 730,517 448,524 472,541 617,553 469,704 676,712 708,696 409,718 428,718 372,725 630,436" fill="none" stroke="none" marker-start="url(#mc)" marker-mid="url(#mc)" marker-end="url(#mc)"/>
<polyline points="729,595 729,600 729,665 730,582 730,611 730,584 730,602 731,605 731,600 731,662 731,647 731,648 732,585 732,597 732,603 732,589 733,594 733,642 733,667 733,641 733,648 734,598 734,633 734,570 734,632 735,632 735,668 735,538 735,605 735,579 736,617 736,640 736,608 736,611 737,631 737,630 737,624 737,614 738,573 738,629 738,634 738,547 738,580 739,630 739,605 739,588 739,592 739,622 740,593 740,574 740,552 740,571 740,607 741,613 741,611 741,610 741,602 742,616 742,685 742,572 742,622 743,612 743,576 743,650 743,617 743,595 744,605 744,627 744,694 744,650 745,644 745,657 745,600 745,605 746,593 746,628 746,648 746,656 746,625 747,637 747,549 747,583 747,558 747,600 748,622 748,625 748,659 748,636 749,553 749,616 749,579 749,583 750,672 750,635 750,646 750,565 750,624 750,618 751,674 751,614 751,649 751,581 752,590 752,663 752,655 752,584 753,692 753,612 753,661 753,659 753,587 754,657 754,610 754,596 754,613 755,635 755,599 755,592 755,582 755,644 756,651 756,628 756,600 756,609 757,610 757,702 757,639 757,635 758,599 758,633 758,643 758,640 758,647 759,588 759,587 759,579 759,646 759,593 760,596 760,604 760,635 760,641 761,550 761,612 761,595 761,688 762,658 762,620 762,607 762,624 762,622 763,661 763,594 763,634 763,628 763,645 764,690 764,691 764,665 764,590 765,603 765,620 765,643 765,640 766,616 766,613 766,587 766,641 766,623 767,602 767,619 767,639 767,606 768,628 768,693 768,644 768,616 768,612 769,616 769,616 769,589 769,652 770,567 770,641 770,640 770,667 770,593 771,579 771,596 771,575 771,648 772,676 772,631 772,622 772,610 772,630 773,617 773,644 773,630 773,644 774,643 774,686 774,597 774,669 774,671 775,668 775,599 775,649 775,630 776,576 776,599 776,651 776,585 777,663 777,640 777,662 777,636 777,621 778,663 778,639 778,589 778,611 779,578 779,583 779,582 779,630 779,590 780,626 780,616 780,613 780,623 780,650 781,607 781,626 781,618 781,648 782,640 782,657 782,590 782,669 783,661 783,615 783,646 783,646 783,635 784,614 784,633 784,644 784,621 785,625 785,613 785,652 785,702 785,616 786,629 786,644 786,666 786,649 786,627 787,647 787,634 787,650 787,645 788,619 788,680 788,586 788,585 789,652 789,594 789,621 789,632 789,646 790,664 790,634 790,640 790,678 790,630 791,626 791,628 791,611 791,652 792,688 792,624 792,640 792,622 793,670 793,620 793,634 793,625 793,622 794,650 794,635 794,641 794,662 795,684 795,656 795,653 795,641 795,669 796,661 796,635 796,651 796,644 797,614 797,628 797,619 797,583 797,653 798,668 798,646 798,629 798,612 799,700 799,681 799,645 799,643 800,585 800,609 800,658 800,644 800,627 801,652 801,663 801,701 801,640 801,638 802,633 802,647 802,691 802,611 803,591 803,652 803,552 803,684 803,646 804,606 804,663 804,669 804,677 805,650 805,629 805,628 805,649 806,619 806,644 806,645 806,633 806,671 807,666 807,601 807,636 807,599 808,656 808,664 808,613 808,572 808,607 809,645 809,646 809,615 809,659 809,634 810,658 810,585 810,627 810,650 811,633 811,635 811,655 811,664 811,608 812,641 812,638 812,658 812,627 813,630 813,676 813,616 813,649 814,613 814,665 814,599 814,607 814,646 815,611 815,620 815,637 815,620 816,631 816,692 816,612 816,652 816,583 817,661 817,641 817,662 817,668 818,651 818,637 818,626 818,643 818,651 819,614 819,651 819,624 819,644 819,648 820,678 820,635 820,617 820,640 821,668 821,625 821,682 821,633 822,658 822,618 822,691 822,633 822,592 823,629 823,626 823,634 823,623 824,601 824,587 824,632 824,621 824,638 825,671 825,594 825,615 825,613 826,583 826,657 826,628 826,647 826,692 827,615 827,616 827,654 827,592 828,625 828,610 828,581 828,607 829,605 829,668 829,677 829,608 829,620 830,617 830,685 830,640 830,630 830,590 831,659 831,609 831,585 831,653 832,565 832,658 832,669 832,641 832,604 833,653 833,603 833,615 833,639 834,579 834,616 834,664 834,602 835,629 835,687 835,627 835,603 836,561 836,628 836,654 836,634 836,660 836,618 837,607 837,653 837,622 837,628 838,679 838,600 838,604 838,602 839,645 839,608 839,617 839,642 839,640 840,642 840,619 840,643 840,620 841,636 841,610 841,591 841,621 842,612 842,584 842,632 842,584 842,589 843,616 843,644 843,609 843,609 844,608 844,641 844,688 844,626 844,641 844,652 845,651 845,653 845,672 846,638 846,588 846,655 846,613 846,616 847,627 847,621 847,661 847,603 847,655 848,642 848,687 848,640 848,613 848,650 849,647 849,640 849,634 849,618 850,637 850,657 850,633 850,610 851,654 851,635 851,592 851,659 852,670 852,649 852,663 852,672 852,637 853,647 853,646 853,622 853,593 854,602 854,638 854,663 854,629 854,592 855,657 855,630 855,565 855,643 855,627 856,612 856,606 856,600 856,613 857,642 857,607 857,656 857,638 858,641 858,626 858,619 858,639 858,661 859,664 859,610 859,635 859,637 859,638 860,646 860,632 860,657 860,676 861,603 861,675 861,636 861,599 862,622 862,611 862,621 862,637 862,616 863,627 863,607 863,590 863,642 864,623 864,590 864,630 864,624 865,625 865,613 865,677 865,632 865,634 866,671 866,643 866,661 866,627 866,656 867,639 867,644 867,612 867,631 868,647 868,649 868,612 868,627 869,604 869,619 869,613 869,621 869,636 869,643 870,634 870,599 870,582 870,624 871,647 871,672 871,645 871,602 872,612 872,607 872,647 872,663 873,613 873,608 873,641 873,615 873,598 874,656 874,626 874,621 874,646 874,606 875,597 875,646 875,646 875,665 876,651 876,593 876,701 876,621 876,616 877,597 877,597 877,629 877,648 878,637 878,585 878,612 878,649 879,624 879,620 879,633 879,606 879,636 880,623 880,655 880,659 880,640 880,597 881,622 881,569 881,608 881,643 882,638 882,680 882,656 882,672 883,656 883,639 883,630 883,611 883,634 884,625 884,635 884,616 884,636 885,652 885,628 885,629 885,638 885,653 886,628 886,658 886,662 886,647 887,620 887,641 887,651 887,669 887,631 888,596 888,653 888,637 888,643 889,656 889,638 889,653 889,653 889,662 890,619 890,660 890,658 890,670 891,636 891,618 891,622 891,645 891,591 892,697 892,689 892,634 892,605 893,648 893,608 893,646 893,665 894,690 894,654 894,666 894,610 894,652 895,622 895,628 895,650 895,662 896,677 896,648 896,641 896,657 896,615 897,643 897,630 897,686 897,638 898,651 898,631 898,672 898,668 898,562 899,639 899,639 899,631 899,644 900,649 900,625 900,668 900,657 900,677 901,643 901,619 901,667 901,662 902,654 902,667 902,641 902,646 902,639 903,631 903,660 903,639 903,605 904,636 904,678 904,623 904,600 904,667 905,642 905,645 905,675 905,660 906,608 906,648 906,665 906,625 906,663 907,638 907,630 907,643 907,647 907,648 908,643 908,630 908,648 908,621 909,656 909,667 909,638 909,647 909,623 910,635 910,687 910,606 910,683 911,634 911,659 911,644 911,626 911,672 912,645 912,658 912,669 912,636 913,628 913,617 913,681 913,610 914,659 914,625 914,643 914,689 914,663 915,622 915,613 915,649 915,649 916,645 916,635 916,637 916,630 916,652 917,637 917,655 917,636 917,676 918,597 918,661 918,642 918,634 918,639 919,654 919,621 919,690 919,665 920,619 920,638 920,664 920,597 921,591 921,652 921,673 921,650 921,638 922,664 922,672 922,651 922,621 922,702 923,651 923,639 923,645 923,658 924,713 924,600 924,636 924,634 925,653 925,657 925,657 925,620 925,652 926,658 926,613 926,628 926,663 926,641 927,668 927,630 927,650 927,629 928,641 928,662 928,672 928,636 929,679 929,628 929,636 930,666 930,678 931,632 931,600 931,628 932,611 932,607 932,592 933,631 933,631 933,616 934,556 934,599 935,640 935,592 936,647 936,640 936,606 936,610 937,622 937,643 938,655 938,656 938,628 939,558 939,604 940,628 940,636 940,635 940,633 941,613 941,637 942,606 942,641 943,629 943,645 943,626 944,638 944,653 945,597 945,598 945,648 945,626 946,621 946,614 946,632 947,661 947,638 948,616 948,661 948,625 949,635 949,598 950,595 950,628 950,645 951,617 951,652 952,582 952,698 952,636 952,666 953,613 953,608 954,657 954,657 954,639 955,578 955,619 956,683 956,630 956,661 957,684 957,627 957,589 958,646 958,654 959,638 959,613 959,673 960,663 960,672 960,596 961,684 961,594 961,641 962,592 962,695 963,641 963,681 963,672 964,654 964,623 965,675 965,612 965,601 965,648 966,672 966,628 967,619 967,621 967,610 968,662 968,598 968,628 969,630 969,643 970,620 970,584 970,618 971,652 971,591 972,682 972,598 972,600 973,593 973,582 973,637 974,611 974,627 975,597 975,590 975,649 976,617 976,690 977,567 977,633 977,530 977,668 978,536 978,644 979,623 979,642 979,567 980,653 980,631 981,625 981,598 981,638 982,579 982,671 982,660 983,638 983,583 983,663 984,632 984,633 984,630 985,561 985,662 986,619 986,662 987,653 987,656 987,680 987,583 988,620 988,638 989,653 989,615 990,602 990,596 990,637 991,610 991,605 991,618 992,632 992,635 993,575 993,629 993,619 994,580 994,610 994,608 994,657 995,652 995,614 996,626 996,588 997,614 997,606 997,603 998,712 998,626 998,637 999,650 999,595 1000,655 1000,657 1000,640 1001,616 1001,614 1001,610 1002,584 1002,640 1002,646 1003,628 1003,564 1003,631 1004,642 1004,585 1005,567 1005,567 1005,574 1006,605 1006,599 1006,658 1007,595 1007,594 1008,587 1008,695 1008,609 1009,685 1009,660 1009,613 1010,631 1010,692 1010,629 1011,600 1011,665 1012,620 1012,624 1012,688 1013,591 1013,640 1014,617 1014,645 1015,635 1015,589 1015,656 1015,621 1016,642 1016,661 1016,685 1017,613 1017,633 1018,606 1018,642 1018,648 1019,584 1019,634 1020,587 1020,720 1020,599 1021,631 1021,671 1021,597 1022,640 1022,573 1023,607 1023,614 1023,630 1024,614 1024,629 1024,630 1025,636 1025,672 1026,640 1026,645 1026,624 1027,693 1027,677 1027,676 1028,649 1028,677 1029,677 1029,699 1029,620 1029,645 1030,626 1030,646 1031,623 1031,609 1031,622 1032,592 1032,620 1032,647 1033,608 1033,661 1034,589 1034,672 1034,686 1035,620 1035,684 1036,648 1036,665 1036,632 1037,631 1037,652 1037,664 1038,647 1038,643 1038,681 1039,589 1039,636 1040,606 1040,597 1041,637 1041,607 1041,618 1042,714 1042,615 1042,670 1043,574 1043,693 1044,621 1044,598 1044,649 1045,650 1045,636 1045,674 1046,658 1046,635 1046,615 1047,675 1047,599 1047,640 1048,549 1048,665 1048,663 1049,650 1049,641 1050,655 1050,709 1051,663 1051,598 1051,632 1051,671 1052,659 1052,652 1053,614 1053,636 1053,650 1054,672 1054,596 1055,664 1055,631 1055,670 1056,667 1056,644 1056,667 1057,606 1057,667 1057,568 1058,590 1058,615 1059,599 1059,670 1059,657 1060,654 1060,633 1061,548 1061,605 1061,638 1062,578 1062,682 1062,598 1063,605 1063,688 1063,587 1064,643 1064,590 1064,677 1065,681 1065,697 1066,664 1066,669 1066,619 1067,646 1067,610 1068,633 1068,629 1068,654 1069,650 1069,669 1070,679 1070,703 1070,629 1070,606 1071,677 1071,658 1072,700 1072,628 1072,616 1073,648 1073,646 1074,609 1074,694 1074,586 1075,648 1075,624 1075,626 1076,685 1076,620 1076,669 1077,608 1077,660 1078,651 1078,554 1078,651 1079,637 1079,659 1079,664 1080,589 1080,640 1081,594 1081,654 1081,642 1082,639 1082,631 1082,635 1083,639 1083,716 1084,617 1084,617 1084,634 1085,577 1085,627 1085,629 1086,595 1086,609 1087,622 1087,642 1087,627 1088,643 1088,663 1088,623 1089,662 1089,656 1089,664 1090,625 1090,661 1091,602 1091,645 1091,615 1092,640 1092,528 1092,647 1093,634 1093,593 1094,615 1094,615 1094,680 1095,582 1095,569 1096,622 1096,613 1096,611 1097,609 1097,625 1097,628 1098,660 1098,717 1099,639 1099,593 1099,599 1100,670 1100,622 1100,651 1101,638 1101,604 1102,601 1102,623 1102,660 1103,625 1103,638 1103,649 1104,609 1104,670 1105,613 1105,674 1105,636 1106,601 1106,629 1106,598 1107,611 1107,680 1107,582 1108,619 1108,641 1109,646 1109,635 1109,603 1110,612 1110,629 1110,602 1111,631 1111,570 1111,643 1112,643 1112,687 1112,602 1113,579 1113,611 1114,572 1114,611 1115,587 1115,617 1115,659 1115,654 1116,618 1116,620 1117,596 1117,613 1118,629 1118,638 1118,589 1118,591 1119,575 1119,626 1120,644 1120,623 1120,607 1121,634 1121,598 1122,611 1122,619 1122,612 1123,665 1123,614 1123,631 1124,591 1124,670 1125,643 1125,613 1125,649 1126,668 1126,575 1126,677 1127,688 1127,634 1128,614 1128,636 1128,632 1129,660 1129,665 1129,634 1130,615 1130,681 1130,593 1131,595 1131,559 1132,642 1132,628 1132,588 1133,621 1133,701 1134,633 1134,585 1134,596 1135,548 1135,581 1135,634 1136,589 1136,619 1137,592 1137,676 1137,681 1138,646 1138,632 1138,662 1139,622 1139,655 1140,629 1140,681 1140,619 1140,615 1141,583 1141,613 1142,630 1142,671 1143,615 1143,634 1143,644 1143,636 1144,622 1144,627 1145,659 1145,694 1146,626 1146,663 1146,575 1146,705 1147,586 1147,628 1147,682 1148,654 1148,574 1149,606 1149,671 1150,681 1150,633 1150,611 1150,600 1151,623 1151,691 1152,647 1152,629 1153,618 1153,650 1153,665 1153,602 1154,586 1154,629 1155,665 1155,633 1156,661 1156,602 1156,636 1156,642 1157,626 1157,624 1158,606 1158,611 1159,668 1159,627 1159,628 1160,674 1160,645 1160,689 1160,565 1161,692 1161,640 1162,621 1162,632 1162,630 1163,636 1163,661 1164,597 1164,660 1164,661 1165,624 1165,628 1166,677 1166,628 1166,691 1167,669 1167,612 1167,640 1168,663 1168,633 1169,590 1169,686 1169,645 1169,654 1170,650 1170,617 1171,633 1171,598 1172,632 1172,663 1172,577 1172,624 1173,633 1173,683 1174,627 1174,660 1174,655 1175,681 1175,614 1175,629 1176,643 1176,652 1176,665 1177,653 1178,619 1178,648 1178,593 1179,597 1179,612 1179,599 1180,623 1180,619 1180,613 1181,641 1181,650 1181,652 1182,570 1182,669 1182,575 1183,620 1183,589 1184,614 1184,650 1184,624 1185,637 1185,635 1186,578 1186,685 1186,632 1187,651 1187,662 1187,609 1188,607 1188,655 1189,600 1189,673 1189,613 1190,627 1190,691 1190,645 1191,645 1191,645 1191,624 1192,684 1192,631 1193,618 1193,642 1193,638 1194,637 1194,613 1195,695 1195,566 1195,704 1196,631 1196,658 1196,684 1197,592 1197,649 1198,648 1198,629 1198,619 1199,625 1199,593 1199,586 1200,656 1200,640 1201,638 1201,650 1201,627 1201,613 1202,541 1202,634 1203,625 1203,602 1203,629 1204,554 1204,566 1205,601 1205,670 1205,628 1206,616 1206,631 1206,627 1207,599 1207,664 1208,653 1208,637 1208,605 1209,622 1209,608 1209,616 1210,682 1210,622 1211,639 1211,601 1211,595 1212,667 1212,589 963,488 875,541 1018,549 1040,564 1124,551 1153,552 1186,540 1186,550" fill="none" stroke="none" marker-start="url(#mr)" marker-mid="url(#mr)" marker-end="url(#mr)"/>
<polyline points="928,625 928,661 929,651 929,659 929,635 929,655 930,662 930,622 930,677 930,651 931,655 931,679 931,623 931,678 931,625 932,604 932,650 932,645 932,588 933,658 933,650 933,678 933,658 933,610 934,593 934,609 934,647 934,654 935,625 935,623 935,592 935,632 935,607 936,656 936,646 936,627 936,673 937,616 937,633 937,563 937,614 938,653 938,665 938,638 938,598 938,613 939,632 939,651 939,656 939,648 939,617 940,644 940,651 940,649 940,619 941,615 941,652 941,600 941,661 941,610 942,682 942,632 942,606 942,634 942,633 943,648 943,587 943,655 943,600 944,647 944,623 944,664 944,645 945,624 945,612 945,605 945,653 946,659 946,639 946,649 946,679 946,676 947,675 947,623 947,579 947,656 948,656 948,628 948,612 948,707 948,588 949,608 949,691 949,609 949,619 949,671 950,623 950,612 950,629 950,702 951,596 951,614 951,667 951,628 951,642 952,636 952,638 952,620 952,632 953,616 953,650 953,627 953,679 954,657 954,648 954,611 954,600 954,636 955,666 955,675 955,619 955,638 955,628 956,632 956,638 956,648 956,683 957,648 957,614 957,646 957,624 958,648 958,573 958,583 958,635 958,678 959,642 959,605 959,626 959,684 960,637 960,585 960,646 960,677 960,641 961,639 961,629 961,637 961,685 961,614 962,624 962,634 962,602 962,615 963,651 963,626 963,666 963,655 964,636 964,619 964,684 964,617 965,621 965,667 965,691 965,624 965,621 966,664 966,596 966,579 966,645 966,614 967,616 967,656 967,597 967,613 968,608 968,618 968,614 968,664 968,627 969,667 969,611 969,666 969,629 969,643 970,671 970,661 970,598 971,602 971,588 971,638 971,605 971,591 971,615 972,593 972,646 972,628 972,619 973,669 973,679 973,679 973,626 974,636 974,608 974,622 974,641 975,641 975,622 975,646 975,636 975,627 976,604 976,610 976,585 976,639 976,595 977,597 977,609 977,656 977,652 978,598 978,581 978,636 978,653 978,667 979,669 979,629 979,608 979,628 980,582 980,611 980,619 980,579 980,608 981,650 981,609 981,639 981,658 982,593 982,667 982,651 982,684 982,694 983,616 983,649 983,639 983,596 984,694 984,648 984,645 984,651 985,615 985,621 985,618 985,606 985,641 986,600 986,640 986,681 986,639 986,697 987,593 987,618 987,620 987,675 988,586 988,595 988,660 988,608 988,623 989,615 989,625 989,603 989,659 990,655 990,624 990,613 990,617 990,614 991,657 991,666 991,588 991,659 992,646 992,639 992,657 992,604 993,654 993,612 993,606 993,651 993,663 994,652 994,611 994,598 994,649 995,603 995,601 995,662 995,671 996,679 996,651 996,610 996,596 996,616 997,659 997,669 997,699 997,687 997,629 998,664 998,652 998,625 998,579 998,629 999,591 999,627 999,603 999,649 1000,628 1000,629 1000,661 1000,621 1001,634 1001,680 1001,620 1001,672 1001,599 1002,642 1002,641 1002,642 1002,626 1003,631 1003,604 1003,549 1003,664 1004,634 1004,632 1004,690 1004,662 1004,644 1004,609 1005,615 1005,673 1005,617 1006,671 1006,638 1006,580 1006,682 1006,646 1007,662 1007,607 1007,632 1007,685 1008,617 1008,644 1008,669 1008,643 1008,622 1009,662 1009,674 1009,628 1009,639 1009,618 1010,638 1010,635 1010,647 1010,623 1011,620 1011,646 1011,587 1011,602 1012,617 1012,699 1012,671 1012,637 1013,629 1013,656 1013,619 1013,639 1013,670 1014,599 1014,624 1014,663 1014,644 1014,656 1015,621 1015,602 1015,601 1015,637 1015,648 1016,663 1016,643 1016,661 1016,602 1017,659 1017,654 1017,611 1017,654 1017,668 1018,643 1018,631 1018,634 1018,662 1019,685 1019,679 1019,686 1019,606 1020,672 1020,657 1020,654 1020,666 1021,679 1021,623 1021,618 1021,610 1021,671 1021,631 1022,671 1022,653 1022,604 1022,623 1023,627 1023,613 1023,646 1023,659 1024,662 1024,695 1024,674 1024,701 1025,646 1025,645 1025,654 1025,606 1025,639 1025,612 1026,561 1026,622 1026,650 1026,672 1027,678 1027,637 1027,640 1027,601 1028,704 1028,668 1028,664 1028,597 1028,670 1029,630 1029,740 1029,565 1029,663 1030,644 1030,642 1030,588 1030,642 1030,647 1031,663 1031,665 1031,599 1031,674 1032,635 1032,642 1032,612 1032,598 1033,637 1033,695 1033,623 1033,646 1033,666 1034,646 1034,626 1034,635 1034,664 1034,712 1035,660 1035,634 1035,658 1035,590 1036,700 1036,653 1036,675 1036,646 1036,662 1037,610 1037,575 1037,584 1037,639 1038,636 1038,645 1038,640 1038,645 1039,697 1039,635 1039,570 1039,636 1039,630 1040,639 1040,636 1040,609 1040,604 1041,648 1041,689 1041,685 1041,615 1041,674 1042,663 1042,687 1042,654 1042,709 1043,603 1043,679 1043,608 1043,689 1043,656 1044,648 1044,601 1044,602 1044,669 1045,650 1045,639 1045,649 1045,609 1045,602 1046,665 1046,667 1046,649 1046,623 1047,711 1047,667 1047,649 1047,617 1047,611 1048,668 1048,645 1048,639 1048,587 1049,640 1049,660 1049,658 1049,629 1049,672 1050,664 1050,624 1050,629 1050,642 1051,652 1051,660 1051,631 1051,661 1052,613 1052,598 1052,713 1052,600 1052,631 1053,665 1053,664 1053,674 1053,614 1054,661 1054,610 1054,623 1054,682 1054,626 1055,659 1055,644 1055,676 1055,638 1056,621 1056,666 1056,634 1056,611 1056,665 1056,676 1057,621 1057,645 1057,659 1058,710 1058,655 1058,586 1058,683 1058,715 1059,656 1059,642 1059,672 1059,679 1060,599 1060,658 1060,591 1060,661 1060,642 1060,697 1061,647 1061,639 1061,649 1062,602 1062,630 1062,610 1062,667 1062,677 1063,603 1063,636 1063,681 1063,620 1064,673 1064,617 1064,633 1064,635 1064,651 1065,651 1065,636 1065,594 1065,704 1066,657 1066,662 1066,641 1066,648 1066,669 1067,627 1067,610 1067,581 1067,634 1067,624 1068,666 1068,675 1068,635 1068,629 1069,650 1069,651 1069,668 1069,701 1070,667 1070,641 1070,563 1070,637 1070,687 1071,614 1071,677 1071,603 1071,599 1071,648 1072,615 1072,608 1072,639 1072,580 1073,656 1073,555 1073,677 1073,643 1073,672 1074,642 1074,645 1074,647 1075,615 1075,605 1075,624 1075,668 1075,613 1075,627 1076,598 1076,597 1076,613 1076,631 1077,623 1077,646 1077,694 1077,621 1077,635 1078,684 1078,607 1078,649 1079,648 1079,655 1079,616 1079,652 1079,579 1079,628 1080,666 1080,631 1080,654 1080,664 1081,610 1081,670 1081,615 1081,653 1081,594 1082,585 1082,621 1082,677 1082,691 1083,643 1083,648 1083,656 1083,681 1084,592 1084,653 1084,634 1084,635 1084,630 1085,607 1085,611 1085,612 1085,666 1086,592 1086,639 1086,636 1086,617 1086,672 1087,644 1087,664 1087,627 1087,630 1088,613 1088,647 1088,627 1088,624 1088,671 1089,650 1089,664 1089,641 1089,615 1090,609 1090,660 1090,643 1090,599 1090,694 1091,649 1091,602 1091,656 1091,657 1092,644 1092,589 1092,673 1092,651 1093,651 1093,613 1093,597 1093,632 1093,640 1094,579 1094,620 1094,684 1094,597 1095,655 1095,588 1095,602 1095,614 1095,632 1096,591 1096,687 1096,660 1096,693 1096,575 1097,602 1097,623 1097,685 1097,589 1098,605 1098,645 1098,612 1098,653 1099,657 1099,601 1099,636 1099,641 1099,617 1100,644 1100,600 1100,697 1100,630 1101,635 1101,664 1101,636 1101,639 1102,632 1102,630 1102,655 1102,676 1102,643 1102,636 1103,661 1103,603 1103,606 1103,636 1104,629 1104,627 1104,645 1104,604 1104,592 1105,663 1105,621 1105,596 1105,650 1106,592 1106,602 1106,675 1106,648 1107,633 1107,637 1107,640 1107,630 1107,599 1108,615 1108,646 1108,621 1108,639 1108,611 1109,644 1109,608 1109,650 1109,684 1110,621 1110,622 1110,644 1110,627 1111,623 1111,645 1111,596 1111,657 1111,672 1112,651 1112,628 1112,622 1112,619 1113,657 1113,648 1113,617 1113,660 1114,632 1114,597 1114,594 1114,601 1114,593 1115,609 1115,666 1115,656 1115,607 1115,598 1116,627 1116,670 1116,665 1116,627 1117,633 1117,626 1117,622 1117,610 1117,593 1118,641 1118,677 1118,632 1118,640 1119,629 1119,622 1119,609 1119,642 1120,608 1120,640 1120,610 1120,691 1120,673 1121,652 1121,643 1121,654 1121,596 1121,656 1122,607 1122,591 1122,604 1122,630 1123,622 1123,640 1123,646 1123,596 1123,647 1124,636 1124,635 1124,616 1124,629 1125,609 1125,622 1125,660 1125,646 1126,573 1126,614 1126,593 1126,640 1126,661 1127,658 1127,630 1127,619 1127,605 1128,630 1128,627 1128,609 1128,674 1128,664 1129,651 1129,610 1129,648 1129,583 1130,625 1130,627 1130,616 1130,618 1130,640 1131,654 1131,615 1131,663 1131,666 1132,621 1132,600 1132,614 1132,645 1133,623 1133,581 1133,639 1133,645 1133,654 1134,662 1134,605 1134,616 1134,620 1134,658 1135,650 1135,650 1135,609 1135,609 1136,590 1136,620 1136,648 1136,650 1136,628 1137,595 1137,627 1137,639 1137,627 1138,585 1138,661 1138,623 1138,591 1138,582 1139,586 1139,648 1139,660 1139,665 1140,654 1140,635 1140,604 1140,648 1141,656 1141,571 1141,562 1141,693 1141,677 1141,663 1142,641 1142,642 1142,644 1142,663 1143,613 1143,659 1143,620 1143,609 1144,645 1144,698 1144,626 1144,606 1145,608 1145,652 1145,658 1145,611 1145,637 1146,670 1146,622 1146,611 1146,614 1147,619 1147,682 1147,664 1147,622 1147,605 1148,631 1148,614 1148,629 1148,650 1148,671 1149,623 1149,618 1149,638 1149,683 1150,591 1150,637 1150,633 1150,647 1150,647 1151,676 1151,593 1151,647 1151,599 1152,609 1152,633 1152,613 1152,612 1153,635 1153,670 1153,618 1153,612 1153,649 1154,648 1154,631 1154,662 1154,624 1154,616 1155,632 1155,629 1155,631 1155,623 1156,704 1156,601 1156,668 1156,644 1157,684 1157,680 1157,653 1157,649 1157,658 1158,650 1158,659 1158,615 1158,589 1158,640 1159,657 1159,606 1159,676 1160,612 1160,622 1160,653 1160,634 1160,599 1160,641 1161,618 1161,624 1161,672 1161,653 1162,614 1162,661 1162,643 1162,664 1162,640 1163,632 1163,625 1163,602 1164,665 1164,691 1164,684 1164,665 1164,666 1165,641 1165,653 1165,624 1165,671 1165,597 1166,656 1166,643 1166,675 1166,657 1167,678 1167,618 1167,690 1167,658 1167,625 1168,641 1168,704 1168,645 1168,609 1169,637 1169,606 1169,677 1169,675 1170,678 1170,626 1170,588 1170,652 1170,641 1171,583 1171,694 1171,638 1171,635 1172,628 1172,653 1172,653 1172,648 1172,644 1173,663 1173,641 1173,646 1173,607 1174,642 1174,592 1174,658 1174,619 1174,668 1175,617 1175,611 1175,622 1175,665 1175,645 1176,635 1176,667 1176,665 1176,647 1177,634 1177,653 1177,630 1177,624 1178,658 1178,639 1178,645 1178,682 1178,609 1179,667 1179,675 1179,709 1179,586 1180,660 1180,648 1180,611 1180,645 1180,630 1181,628 1181,646 1181,660 1181,608 1182,652 1182,656 1182,646 1182,630 1182,630 1183,623 1183,637 1183,657 1183,643 1183,673 1184,655 1184,632 1184,674 1184,648 1185,633 1185,647 1185,661 1185,620 1185,627 1186,661 1186,648 1186,633 1187,623 1187,641 1187,659 1187,629 1187,627 1188,660 1188,580 1188,611 1188,681 1189,615 1189,695 1189,615 1189,627 1189,636 1190,619 1190,633 1190,604 1190,595 1190,636 1191,649 1191,618 1191,597 1191,646 1192,651 1192,623 1192,620 1192,664 1192,616 1193,620 1193,642 1193,610 1193,627 1194,670 1194,602 1194,620 1194,603 1194,695 1195,628 1195,625 1195,635 1195,653 1196,659 1196,631 1196,658 1196,667 1196,651 1197,654 1197,609 1197,614 1197,655 1198,630 1198,581 1198,639 1198,632 1198,625 1199,660 1199,619 1199,635 1199,634 1200,648 1200,590 1200,617 1200,679 1201,615 1201,572 1201,593 1201,615 1201,638 1202,611 1202,629 1202,642 1202,624 1203,631 1203,660 1203,667 1203,661 1203,598 1204,602 1204,615 1204,627 1204,679 1204,638 1205,652 1205,643 1205,591 1205,650 1206,642 1206,576 1206,626 1206,607 1206,640 1207,595 1207,703 1207,643 1207,607 1208,647 1208,607 1208,614 1208,677 1209,620 1209,633 1209,654 1209,607 1209,696 1210,629 1210,683 1210,638 1210,641 1211,582 1211,645 1211,606 1211,613 1211,638 1212,612 1212,680 1212,645 1212,596 1212,588 1213,624 1213,612 1213,627 1213,615 1214,612 1214,630 1214,587 1215,630 1215,570 1215,604 1215,603 1216,604 1216,651 1216,637 1216,611 1216,616 1217,640 1217,610 1217,634 1218,576 1218,648 1218,634 1218,637 1218,549 1219,619 1219,635 1219,642 1220,659 1220,636 1220,583 1220,669 1221,607 1221,626 1221,629 1221,572 1221,623 1222,624 1222,626 1222,614 1223,615 1223,621 1223,595 1223,653 1224,611 1224,608 1224,638 1224,572 1224,666 1225,620 1225,603 1225,622 1225,620 1226,683 1226,649 1226,652 1226,650 1227,613 1227,676 1227,633 1227,616 1228,606 1228,616 1228,623 1228,623 1229,627 1229,619 1229,611 1229,607 1230,586 1230,587 1230,635 1230,623 1231,629 1231,573 1231,592 1231,634 1232,592 1232,619 1232,631 1232,644 1233,620 1233,658 1233,616 1234,576 1234,607 1234,672 1234,650 1234,628 1235,629 1235,604 1235,685 1235,604 1236,638 1236,611 1236,615 1236,589 1237,665 1237,620 1237,657 1237,676 1238,643 1238,623 1238,603 1238,695 1239,585 1239,640 1239,592 1239,578 1240,591 1240,694 1240,640 1240,631 1241,646 1241,653 1241,591 1241,663 1242,632 1242,607 1242,639 1242,620 1243,662 1243,618 1243,599 1243,643 1244,598 1244,624 1244,622 1244,643 1245,650 1245,636 1245,625 1245,640 1245,636 1246,581 1246,624 1246,688 1247,661 1247,629 1247,659 1247,635 1248,581 1248,674 1248,579 1248,647 1248,638 1249,625 1249,652 1249,671 1249,637 1250,668 1250,610 1250,633 1250,712 1251,622 1251,659 1251,615 1251,647 1252,589 1252,634 1252,627 1253,639 1253,630 1253,617 1253,632 1253,626 1254,651 1254,586 1254,657 1254,598 1255,647 1255,590 1255,615 1255,594 1256,645 1256,624 1256,638 1256,649 1257,601 1257,607 1257,606 1257,626 1258,623 1258,646 1258,587 1258,619 1259,608 1259,586 1259,626 1259,694 1260,621 1260,660 1260,618 1260,673 1261,633 1261,610 1261,669 1261,636 1262,624 1262,632 1262,652 1262,601 1263,678 1263,630 1263,609 1263,652 1264,624 1264,651 1264,638 1264,633 1265,631 1265,650 1265,632 1265,633 1266,620 1266,609 1266,629 1266,677 1267,641 1267,612 1267,651 1267,606 1268,597 1268,603 1268,683 1268,627 1269,647 1269,607 1269,676 1269,600 1270,659 1270,618 1270,630 1270,615 1271,663 1271,647 1271,662 1271,634 1272,666 1272,592 1272,615 1272,638 1272,589 1273,602 1273,638 1273,653 1274,677 1274,620 1274,626 1274,646 1274,600 1275,639 1275,593 1275,642 1276,602 1276,591 1276,595 1276,629 1277,636 1277,605 1277,640 1277,617 1278,641 1278,701 1278,645 1278,691 1279,638 1279,609 1279,653 1279,664 1279,633 1280,648 1280,615 1280,635 1280,687 1281,648 1281,692 1281,712 1282,574 1282,655 1282,626 1282,624 1283,654 1283,639 1283,604 1283,582 1284,651 1284,581 1284,668 1284,595 1284,623 1285,649 1285,653 1285,615 1285,614 1286,641 1286,708 1286,647 1286,604 1287,627 1287,621 1287,626 1288,580 1288,625 1288,623 1288,620 1288,626 1289,604 1289,665 1289,662 1289,641 1290,649 1290,570 1290,672 1290,675 1291,637 1291,611 1291,607 1291,680 1292,651 1292,690 1292,612 1293,637 1293,595 1293,692 1293,620 1293,612 1294,644 1294,674 1294,645 1294,640 1295,606 1295,656 1295,638 1295,602 1296,610 1296,625 1296,632 1296,604 1297,700 1297,623 1297,657 1297,635 1298,644 1298,659 1298,650 1298,662 1299,622 1299,647 1299,672 1299,620 1300,640 1300,668 1300,656 1300,596 1301,637 1301,659 1301,631 1301,622 1302,625 1302,643 1302,625 1302,640 1302,680 1303,605 1303,581 1303,639 1303,600 1304,654 1304,655 1304,621 1304,618 1305,638 1305,592 1305,593 1306,618 1306,679 1306,661 1306,634 1306,672 1307,598 1307,622 1307,676 1307,587 1308,616 1308,620 1308,651 1309,652 1309,650 1309,638 1309,635 1310,676 1310,681 1310,698 1310,628 1310,637 1311,611 1311,619 1311,597 1312,632 1312,670 1312,665 1312,605 1312,637 1313,655 1313,657 1313,644 1314,618 1314,638 1314,675 1314,637 1314,666 1315,620 1315,616 1315,666 1316,645 1316,607 1316,631 1316,619 1316,613 1317,658 1317,608 1317,638 1318,679 1318,697 1318,617 1318,678 1318,640 1319,625 1319,684 1319,664 1320,654 1320,631 1320,611 1320,617 1320,645 1321,627 1321,664 1321,656 1321,653 1322,604 1322,624 1322,595 1322,616 1323,621 1323,623 1323,628 1323,640 1324,615 1324,657 1324,645 1324,612 1325,636 1325,634 1325,632 1325,624 1326,658 1326,632 1326,631 1326,625 1327,640 1327,649 1327,635 1327,623 1328,640 1328,617 1328,638 1328,605 1328,639 1329,677 1329,597 1329,609 1330,595 1330,605 1330,674 1330,659 1331,615 1331,633 1331,590 1331,675 1331,650 1332,606 1332,608 1332,643 1333,606 1333,649 1333,657 1333,656 1333,654 1334,627 1334,662 1334,621 1335,623 1335,663 1335,620 1335,593 1336,609 1336,601 1336,621 1336,595 1337,590 1337,624 1337,648 1337,571 1337,648 1338,622 1338,636 1338,598 1338,580 1339,610 1339,604 1339,634 1339,596 1340,624 1340,615 1340,616 1341,641 1341,671 1341,638 1341,667 1342,643 1342,588 1342,632 1342,638 1343,539 1343,627 1343,662 1343,577 1343,613 1344,590 1344,633 1344,621 1344,629 1345,662 1345,614 1345,623 1345,586 1346,638 1346,618 1346,663 1346,649 1347,644 1347,626 1347,621 1347,618 1348,622 1348,658 1348,652 1348,658 1349,693 1349,604 1349,621 1349,633 1350,627 1350,618 1350,694 1350,650 1351,655 1351,649 1351,616 1351,605 1352,589 1352,660 1352,601 1352,667 1353,647 1353,621 1353,602 1353,621 1354,601 1354,664 1354,673 1354,607 1355,673 1355,684 1355,605 1355,624 1356,582 1356,642 1356,636 1356,608 1357,641 1357,665 1357,603 1357,663 1358,632 1358,662 1358,634 1358,634 1359,613 1359,623 1359,621 1359,620 1360,654 1360,657 1360,648 1360,639 1361,617 1361,632 1361,613 1361,630 1361,573 1362,613 1362,607 1362,659 1362,587 1363,598 1363,630 1363,622 1364,630 1364,650 1364,678 1364,626 1364,649 1365,609 1365,634 1365,656 1366,582 1366,597 1366,610 1366,580 1366,655 1367,622 1367,648 1367,623 1367,603 1368,631 1368,636 1368,623 1368,614 1369,663 1369,640 1369,602 1370,576 1370,595 1370,628 1370,567 1370,609 1371,636 1371,622 1371,666 1371,630 1372,610 1372,624 1372,639 1373,635 1373,629 1373,621 1373,606 1374,614 1374,635 1374,637 1374,595 1374,597 1375,559 1375,611 1375,625 1376,611 1376,662 1376,630 1376,631 1376,598 1377,617 1377,657 1377,622 1377,642 1378,637 1378,651 1378,608 1378,617 1379,583 1379,637 1379,667 1379,642 1380,616 1380,659 1380,601 1380,622 1381,596 1381,652 1381,602 1381,645 1382,656 1382,615 1382,622 1382,610 1383,677 1383,648 1383,635 1383,650 1384,655 1384,606 1384,626 1384,620 1385,633 1385,603 1385,614 1385,642 1386,609 1386,622 1386,604 1386,637 1387,623 1387,618 1387,609 1387,638 1388,640 1388,600 1388,625 1388,610 1389,644 1389,590 1389,590 1389,623 1390,599 1390,620 1390,619 1390,620 1391,601 1391,643 1391,647 1391,616 1392,628 1392,619 1392,634 1392,618 1393,622 1393,622 1393,611 1393,618 1393,644 1394,619 1394,637 1394,615 1395,658 1395,614 1395,637 1395,624 1396,650 1396,625 1396,605 1396,597 1396,613 1397,655 1397,623 1397,608 1398,648 1398,611 1398,645 1398,592 1399,607 1399,654 1399,649 1399,594 1400,628 1400,584 1400,616 1400,609 1400,644 1401,623 1401,643 1401,672 1401,642 1402,652 1402,607 1402,587 1403,632 1403,635 1403,605 1403,624 1404,634 1404,635 1404,629 1404,603 1404,568 1405,612 1405,686 1405,657 1405,658 1406,617 1406,587 1406,613 1406,617 1407,592 1407,649 1407,619 1407,664 1408,650 1408,616 1408,619 1408,632 1409,589 1409,592 1409,633 1409,627 1410,552 1410,660 1410,595 1410,603 1411,626 1411,629 1411,617 1411,632 1412,582 1412,624 1412,627 1412,622 1413,602 1413,669 1413,640 1413,665 1414,587 1414,644 1414,665 1414,678 1415,637 1415,653 1415,609 1415,626 1416,644 1416,652 1416,662 1416,670 1417,622 1417,707 1417,642 1417,630 1418,628 1418,663 1418,622 1418,675 1419,621 1419,660 1419,602 1419,674 1419,646 1420,614 1420,638 1420,649 1421,619 1421,671 1421,628 1421,684 1422,612 1422,625 1422,643 1422,709 1423,657 1423,671 1423,642 1423,693 1423,625 1424,688 1424,595 1424,677 1425,657 1425,651 1425,650 1425,667 1426,657 1426,643 1426,650 1426,631 1427,619 1427,609 1427,633 1427,639 1428,677 1428,637 1428,702 1428,609 1429,618 1429,644 1429,634 1429,628 1430,617 1430,662 1430,603 1430,623 1430,617 1431,644 1431,597 1431,650 1431,598 1432,575 1432,616 1432,632 1433,592 1433,668 1433,647 1433,677 1433,607 1434,598 1434,648 1434,600 1434,646 1435,616 1435,626 1435,618 1436,590 1436,633 1436,618 1436,646 1437,624 1437,647 1437,586 1437,662 1437,667 1438,590 1438,624 1438,621 1438,653 1439,643 1439,652 1439,628 1440,647 1440,622 1440,625 1440,646 1440,602 1441,666 1441,643 1441,615 1441,529 1442,644 1442,655 1442,574 1442,662 1443,555 1443,648 1443,624 1443,658 1444,642 1444,630 1444,598 1444,632 1445,688 1445,601 1445,616 1445,626 1446,596 1446,656 1446,649 1446,680 1447,610 1447,669 1447,585 1447,568 1448,631 1448,640 1448,617 1448,622 1449,611 1449,672 1449,642 1449,650 1450,695 1450,645 1450,668 1450,582 1451,694 1451,676 1451,645 1451,634 1451,617 1452,634 1452,644 1452,635 1453,631 1453,687 1453,644 1453,639 1453,647 1454,663 1454,637 1454,609 1455,604 1455,685 1455,660 1455,607 1456,649 1456,669 1456,642 1456,649 1456,616 1457,578 1457,643 1457,630 1458,645 1458,614 1458,646 1458,663 1458,606 1459,643 1459,636 1459,623 1460,712 1460,585 1460,681 1460,641 1460,587 1461,595 1461,657 1461,710 1461,603 1462,646 1462,649 1462,662 1462,638 1463,625 1463,622 1463,658 1463,620 1464,696 1464,654 1464,648 1465,653 1465,679 1465,649 1465,634 1465,612 1466,639 1466,638 1466,632 1466,593 1467,607 1467,637 1467,573 1467,607 1468,661 1468,611 1468,621 1468,552 1469,650 1469,608 1469,598 1469,683 1470,636 1470,689 1470,652 1470,704 1471,577 1471,632 1471,592 1471,643 1472,602 1472,665 1472,683 1472,619 1473,663 1473,643 1473,610 1473,663 1474,638 1474,615 1474,570 1474,594 1475,589 1475,702 1475,628 1475,634 1476,704 1476,630 1476,592 1476,632 1477,655 1477,612 1477,585 1477,646 1478,654 1478,608 1478,570 1478,688 1479,706 1479,706 1479,622 1479,648 1480,612 1480,664 1480,652 1480,685 1481,646 1481,621 1481,650 1481,630 1482,653 1482,647 1482,598 1482,621 1483,630 1483,632 1483,669 1483,653 1484,652 1484,637 1484,587 1484,629 1484,599 1485,584 1485,610 1485,594 1486,624 1486,639 1486,650 1486,583 1486,629 1487,613 1487,648 1487,600 1487,595 1488,654 1488,644 1488,643 1489,610 1489,649 1489,641 1489,587 1490,605 1490,634 1490,622 1490,600 1490,620 1491,649 1491,594 1491,549 1492,597 1492,601 1492,611 1492,620 1492,626 1493,606 1493,580 1493,616 1493,630 1494,640 1494,602 1494,601 1495,610 1495,601 1495,605 1495,631 1495,621 1496,591 1496,630 1496,557 1496,624 1497,581 1497,598 1497,598 1497,621 1498,657 1498,637 1498,595 1498,608 1499,648 1499,654 1499,637 1499,599 1500,614 1500,630 1500,651 1501,614 1501,692 1501,626 1501,617 1501,645 1502,597 1502,624 1502,561 1502,618 1503,609 1503,626 1503,633 1503,615 1504,597 1504,642 1504,580 1504,672 1505,646 1505,636 1505,652 1505,619 1506,651 1506,632 1506,630 1506,618 1507,646 1507,579 1507,597 1507,610 1508,647 1508,692 1508,588 1508,600 1509,665 1509,634 1509,657 1509,583 1509,582 1510,614 1510,647 1510,650 1511,655 1511,645 1511,596 1511,588 1512,583 1512,621 1512,583 1512,640 1513,601 1513,652 1513,635 1513,622 1514,644 1514,680 1514,610 1514,632 1514,594 1515,629 1515,603 1515,602 1516,605 1516,619 1516,614 1516,625 1517,639 1517,640 1517,632 1517,610 1517,587 1518,655 1518,663 1518,626 1518,601 1519,616 1519,689 1519,668 1520,675 1520,613 1520,688 1520,602 1520,570 1521,657 1521,637 1521,586 1522,617 1522,647 1522,696 1522,647 1522,628 1523,584 1523,604 1523,614 1523,631 1524,609 1524,580 1524,593 1524,674 1525,650 1525,662 1525,674 1526,611 1526,615 1526,606 1526,642 1526,612 1527,714 1527,609 1527,548 1527,643 1528,585 1528,612 1528,703 1528,665 1529,640 1529,603 1529,613 1529,586 1530,648 1530,658 1530,672 1530,639 1531,603 1531,570 1531,616 1531,651 1532,632 1532,595 1532,646 1532,639 1533,604 1533,617 1533,606 1533,663 1534,559 1534,568 1534,618 1534,661 1535,684 1535,654 1535,611 1535,625 1536,652 1536,646 1536,693 1536,603 1537,699 1537,661 1537,634 1537,663 1538,626 1538,648 1538,585 1538,650 1539,601 1539,610 1539,591 1539,656 1540,692 1540,614 1540,619 1540,632 1541,659 1541,643 1541,594 1541,583 1542,607 1542,707 1542,613 1542,604 1543,615 1543,630 1543,663 1543,612 1544,686 1544,595 1544,646 1544,615 1545,616 1545,630 1545,663 1545,650 1545,661 1546,649 1546,626 1546,636 1547,639 1547,610 1547,671 1547,652 1548,596 1548,627 1548,629 1548,681 1548,647 1549,580 1549,647 1549,661 1550,681 1550,639 1550,646 1550,630 1550,600 1551,639 1551,634 1551,607 1551,612 1552,662 1552,643 1552,618 1552,655 1553,589 1553,676 1553,576 1553,619 1554,599 1554,632 1554,670 1554,705 1555,630 1555,618 1555,634 1556,631 1556,606 1556,607 1556,672 1557,595 1557,647 1557,616 1557,658 1557,701 1558,652 1558,630 1558,609 1558,677 1559,609 1559,645 1559,631 1559,680 1560,635 1560,563 1560,630 1561,594 1561,621 1561,620 1561,625 1561,586 1562,604 1562,670 1562,657 1562,661 1563,589 1563,630 1563,690 1563,600 1564,640 1564,619 1564,641 1564,666 1565,680 1565,627 1565,581 1565,627 1566,626 1566,602 1566,564 1566,611 1567,586 1567,579 1567,623 1567,679 1568,633 1568,661 1568,626 1568,634 1569,645 1569,625 1569,641 1569,565 1570,671 1570,633 1570,607 1570,617 1571,580 1571,610 1571,633 1571,589 1572,682 1572,620 1572,656 1572,617 1573,644 1573,672 1573,619 1573,609 1574,652 1574,604 1574,572 1574,615 1575,628 1575,615 1575,641 1575,607 1575,588 1576,586 1576,656 1576,607 1577,625 1577,593 1577,621 1577,625 1578,626 1578,618 1578,641 1578,648 1579,621 1579,632 1579,668 1579,702 1579,627 1580,563 1580,643 1580,618 1580,606 1581,662 1581,630 1581,579 1582,625 1582,676 1582,643 1582,635 1582,660 1583,596 1583,633 1583,555 1583,536 1584,605 1584,639 1584,626 1584,606 1585,612 1585,697 1585,648 1585,585 1586,625 1586,627 1586,670 1587,629 1587,663 1587,665 1587,657 1587,601 1588,646 1588,585 1588,645 1589,642 1589,633 1589,664 1589,579 1589,567 1590,684 1590,635 1590,609 1590,657 1591,573 1591,665 1591,595 1591,677 1592,624 1592,609 1592,660 1592,629 1593,574 1593,625 1593,607 1593,676 1594,650 1594,594 1594,640 1594,596 1595,633 1595,628 1595,627 1595,594 1596,584 1596,597 1596,674 1596,596 1597,588 1597,613 1597,631 1597,590 1598,641 1598,596 1598,591 1598,540 1599,636 1599,647 1599,650 1599,594 1600,621 1600,628 1600,682 1600,606 1601,594 1601,643 1601,599 1601,664 1602,573 1602,608 1602,618 1602,637 1602,614 1603,634 1603,630 1603,625 1604,631 1604,619 1604,721 1604,679 1605,602 1605,596 1605,594 1605,622 1605,622 1606,554 1606,629 1606,615 1607,599 1607,682 1607,580 1607,606 1608,664 1608,617 1608,596 1608,548 1608,636 1609,581 1609,632 1609,595 1609,635 1610,679 1610,586 1610,634 1610,664 1611,600 1611,578 1611,599 1612,676 1612,642 1612,632 1612,645 1613,572 1613,558 1613,569 1613,585 1613,634 1614,642 1614,612 1614,609 1614,604 1615,644 1615,638 1615,578 1616,649 1616,559 1616,584 1616,623 1616,635 1617,638 1617,674 1617,606 1617,569 1618,575 1618,535 1618,621 1618,653 1619,570 1619,585 1619,596 1619,633 1620,622 1620,565 1620,661 1621,571 1621,609 1621,569 1621,636 1621,644 1622,610 1622,611 1622,648 1622,581 1623,592 1623,627 1623,616 1623,630 1624,634 1624,656 1624,580 1624,588 1625,630 1625,639 1625,616 1625,587 1626,590 1626,640 1626,614 1626,635 1627,600 1627,600 1627,599 1627,614 1628,623 1628,606 1628,665 1628,619 1629,640 1629,654 1629,591 1629,577 1630,594 1630,607 1630,676 1630,704 1630,680 1631,643 1631,682 1631,700 1631,599 1632,651 1632,599 1632,625 1632,675 1633,604 1633,600 1633,493 1634,639 1634,684 1634,619 1634,636 1635,638 1635,616 1635,636 1635,569 1636,537 1636,573 1636,567 1636,622 1637,691 1637,684 1637,592 1637,649 1638,529 1638,547 1638,555 1638,606 1638,643 1639,617 1639,577 1639,630 1640,657 1640,657 1640,702 1640,574 1641,592 1641,680 1641,661 1641,627 1641,620 1642,666 1642,596 1642,613 1643,586 1643,625 1643,605 1643,673 1644,601 1644,626 1644,631 1644,634 1644,526 1645,581 1645,655 1645,716 1645,621 1646,595 1646,555 1646,598 1647,621 1647,611 1647,649 1647,694 1647,646 1648,549 1648,657 1648,651 1649,651 1649,650 1649,668 1649,659 1649,696 1650,609 1650,624 1650,661 1650,637 1651,631 1651,685 1651,561 1652,552 1652,665 1652,648 1652,623 1652,677 1653,635 1653,577 1653,663 1653,677 1654,565 1654,636 1654,597 1654,581 1655,635 1655,606 1655,591 1655,571 1656,594 1656,613 1656,600 1656,629 1657,613 1657,593 1657,626 1657,587 1658,626 1658,599 1658,596 1658,669 1659,588 1659,573 1659,653 1659,678 1660,585 1660,646 1660,628 1660,561 1661,656 1661,638 1661,624 1661,610 1662,641 1662,658 1662,643 1662,575 1663,647 1663,684 1663,626 1663,658 1664,639 1664,606 1664,679 1664,632 1664,632 1665,614 1665,593 1665,668 1666,651 1666,638 1666,614 1666,643 1667,703 1667,626 1667,603 1667,673 1667,642 1668,679 1668,581 1668,606 1668,620 1669,601 1669,562 1669,636 1670,565 1670,596 1670,640 1670,640 1670,669 1671,611 1671,618 1671,642 1672,644 1672,599 1672,620 1672,650 1673,635 1673,629 1673,664 1673,628 1674,634 1674,674 1674,649 1674,641 1675,597 1675,713 1675,590 1675,609 1675,650 1676,678 1676,614 1676,594 1676,631 1677,670 1677,634 1677,650 1677,657 1678,719 1678,578 1678,655 1678,626 1679,622 1679,647 1679,648 1679,702 1680,710 1680,613 1680,598 1680,644 1681,624 1681,621 1681,668 1682,617 1682,668 1682,593 1682,599 1682,629 1683,621 1683,534 1683,663 1683,678 1684,585 1684,604 1684,627 1684,562 1685,625 1685,557 1685,609 1685,651 1686,584 1686,645 1686,648 1686,642 1687,618 1687,617 1687,592 1687,640 1687,667 1688,592 1688,616 1688,636 1689,656 1689,649 1689,626 1689,606 1690,620 1690,679 1690,591 1690,631 1690,640 1691,627 1691,640 1691,608 1692,641 1692,682 1692,692 1692,571 1692,624 1693,636 1693,652 1693,647 1694,631 1694,628 1694,631 1694,612 1695,666 1695,625 1695,643 1695,638 1695,596 1696,566 1696,619 1696,594 1696,595 1697,559 1697,571 1697,584 1698,599 1698,603 1698,610 1698,602 1699,593 1699,615 1699,627 1699,659 1699,650 1700,662 1700,656 1700,607 1701,693 1701,581 1701,618 1701,613 1702,641 1702,634 1702,650 1702,634 1702,615 1703,669 1703,687 1703,575 1703,629 1704,633 1704,624 1704,603 1705,641 1705,585 1705,663 1705,615 1705,652 1706,706 1706,646 1706,650 1707,659 1707,587 1707,652 1707,622 1708,603 1708,631 1708,579 1708,672 1708,610 1709,628 1709,651 1709,636 1709,648 1710,654 1710,660 1710,637 1710,653 1711,599 1711,626 1711,709 1711,625 1712,626 1712,647 1712,668 1712,603 1713,570 1713,589 1713,572 1713,617 1714,614 1714,672 1714,604 1714,567 1715,667 1715,652 1715,557 1715,579 1716,648 1716,638 1716,619 1716,642 1717,632 1717,645 1717,654 1717,601 1718,622 1718,653 1718,626 1718,609 1719,658 1719,597 1719,587 1719,615 1720,597 1720,623 1720,632 1720,642 1721,619 1721,610 1721,603 1721,617 1722,640 1722,633 1722,686 1722,653 1723,574 1723,583 1723,601 1723,577 1723,636 1724,562 1724,600 1724,615 1724,644 1725,654 1725,649 1725,628 1726,636 1726,631 1726,651 1726,635 1727,640 1727,644 1727,634 1727,689 1728,621 1728,611 1728,612 1728,620 1728,618 1729,615 1729,603 1729,642 1729,610 1730,637 1730,598 1730,642 1731,619 1731,576 1731,651 1731,625 1731,653 1732,616 1732,643 1732,618 1732,649 1733,645 1733,635 1733,646 1733,615 1734,635 1734,684 1734,661 1734,612 1735,598 1735,599 1735,659 1736,640 1736,563 1736,620 1736,638 1736,650 1737,558 1737,687 1737,642 1737,646 1738,633 1738,676 1738,658 1739,628 1739,621 1739,613 1739,592 1739,655 1740,606 1740,634 1740,672 1740,631 1741,636 1741,643 1741,672 1742,628 1742,653 1742,625 1742,604 1742,627 1743,586 1743,631 1743,647 1743,633 1744,625 1744,643 1744,627 1744,656 1745,645 1745,618 1745,604 1745,618 1746,610 1746,612 1746,668 1746,615 1747,637 1747,635 1747,581 1747,606 1748,659 1748,677 1748,643 1748,615 1749,632 1749,630 1749,611 1749,619 1750,631 1750,618 1750,612 1750,661 1751,617 1751,618 1751,624 1751,640 1752,654 1752,651 1752,605 1752,641 1752,636 1753,667 1753,603 1753,629 1754,645 1754,646 1754,682 1754,598 1755,610 1755,620 1755,598 1755,632 1756,611 1756,634 1756,640 1756,643 1757,594 1757,617 1757,644 1757,634 1757,616 1758,612 1758,672 1758,642 1759,610 1759,642 1759,641 1759,595 1760,580 1760,628 1760,619 1760,662 1761,599 1761,624 1761,626 1761,634 1761,591 1762,677 1762,626 1762,694 1763,612 1763,608 1763,614 1763,556 1764,614 1764,671 1764,625 1764,633 1764,681 1765,643 1765,625 1765,644 1765,586 1766,618 1766,626 1766,624 1767,618 1767,640 1767,621 1767,617 1767,618 1768,607 1768,651 1768,640 1768,602 1769,620 1769,619 1769,623 1769,656 1770,717 1770,616 1770,640 1770,617 1771,621 1771,605 1771,636 1771,634 1772,576 1772,673 1772,622 1772,652 1773,648 1773,610 1773,607 1773,647 1774,631 1774,653 1774,586 1774,634 1775,632 1775,590 1775,607 1775,605 1776,662 1776,586 1776,588 1776,579 1777,636 1777,638 1777,656 1777,623 1778,617 1778,645 1778,610 1778,615 1779,629 1779,619 1779,620 1779,600 1780,606 1780,637 1780,690 1780,618 1781,604 1781,656 1781,613 1781,660 1782,599 1782,658 1782,677 1782,575 1782,623 1783,633 1783,635 1783,659 1784,607 1784,675 1784,631 1784,680 1785,598 1785,630 1785,611 1785,637 1785,631 1786,647 1786,636 1786,642 1787,676 1787,647 1787,674 1787,643 1787,611 1788,637 1788,578 1788,665 1789,594 1789,643 1789,618 1789,656 1789,632 1790,598 1790,625 1790,626 1791,627 1791,648 1791,609 1791,592 1791,667 1792,651 1792,633 1792,649 1793,561 1793,604 1793,580 1793,605 1793,667 1794,617 1794,625 1794,648 1794,661 1795,605 1795,624 1795,615 1795,645 1796,627 1796,594 1796,632 1796,614 1797,590 1797,586 1797,606 1797,645 1798,602 1798,640 1798,616 1798,570 1799,624 1799,671 1799,674 1799,637 1800,591 1800,611 1800,631 1800,616 1801,664 1801,591 1801,639 1801,579 1802,584 1802,641 1802,596 1802,604 1803,643 1803,648 1803,652 1803,666 1804,659 1804,647 1804,608 1804,630 1805,600 1805,628 1805,632 1805,620 1806,641 1806,630 1806,578 1806,590 1807,638 1807,597 1807,640 1807,607 1808,648 1808,625 1808,666 1808,611 1808,620 1809,635 1809,636 1809,660 1810,654 1810,594 1810,629 1810,616 1811,545 1811,617 1811,608 1811,626 1812,636 1812,593 1812,618 1812,684 1813,606 1813,682 1813,581 1813,640 1813,631 1814,626 1814,627 1814,628 1815,625 1815,644 1815,659 1815,552 1816,643 1816,636 1816,598 1816,610 1817,675 1817,634 1817,648 1817,637 1818,635 1818,634 1818,557 1818,623 1819,641 1819,590 1819,645 1819,579 1819,596 1820,578 1820,584 1820,625 1821,575 1821,671 1821,621 1821,628 1822,595 1822,591 1822,623 1822,621 1823,656 1823,590 1823,633 1823,595 1823,587 1824,670 1824,635 1824,638 1825,606 1825,635 1825,620 1825,589 1825,615 1826,625 1826,649 1826,586 1826,580 1827,649 1827,622 1827,673 1827,613 1828,610 1828,558 1828,616 1828,663 1829,634 1829,616 1829,641 1829,666 1830,587 1830,689 1830,636 1830,655 1831,599 1831,595 1831,646 1831,593 1832,588 1832,568 1832,604 1832,622 1833,648 1833,595 1833,616 1833,605 1834,686 1834,648 1834,580 1834,633 1835,633 1835,644 1835,598 1835,624 1836,582 1836,617 1836,578 1836,581 1837,537 1837,660 1837,610 1837,619 1838,634 1838,584 1838,587 1838,642 1838,614 1839,602 1839,598 1839,629 1840,653 1840,551 1840,569 1840,596 1840,620 1841,643 1841,658 1841,681 1842,650 1842,649 1842,646 1842,628 1843,608 1843,606 1843,614 1843,636 1844,647 1844,631 1844,590 1844,608 1845,616 1845,564 1845,648 1845,615 1846,612 1846,576 1846,686 1846,621 1846,608 1847,614 1847,638 1847,644 1848,599 1848,628 1848,648 1848,562 1848,615 1849,611 1849,630 1849,633 1849,646 1850,620 1850,627 1850,654 1851,659 1851,602 1851,598 1851,619 1851,581 1852,596 1852,624 1852,576 1852,631 1853,648 1853,706 1853,643 1853,653 1854,620 1854,673 1854,618 1855,606 1855,650 1855,588 1855,587 1855,610 1856,621 1856,600 1856,602 1856,624 1857,646 1857,625 1857,642 1857,606 1858,619 1858,630 1858,632 1858,598 1859,600 1859,593 1859,612 1860,646 1860,561 1860,685 1860,660 1861,637 1861,627 1861,634 1861,595 1861,615 1862,596 1862,656 1862,598 1862,627 1863,570 1863,640 1863,621 1863,635 1864,602 1864,605 1864,648 1864,644 1865,610 1865,617 1865,664 1865,609 1866,658 1866,626 1866,639 1866,548 1867,604 1867,569 1867,629 1867,579 1868,587 1868,633 1868,602 1868,575 1869,650 1869,639 1869,606 1869,605 1870,599 1870,644 1870,571 1870,601 1871,574 1871,594 1871,634 1871,618 1872,612 1872,591 1872,615 1872,633 1872,651 1873,634 1873,650 1873,581 1873,663 1874,638 1874,628 1874,639 1875,645 1875,612 1875,595 1875,606 1876,624 1876,605 1876,632 1876,571 1877,606 1877,612 1877,646 1877,630 1878,604 1878,599 1878,644 1878,601 1879,604 1879,605 1879,617 1879,605 1879,616 1880,644 1880,604 1880,687 1880,623 1881,640 1881,615 1881,599 1881,632 1882,635 1882,624 1882,624 1883,607 1883,627 1883,596 1883,671 1883,584 1884,596 1884,584 1884,632 1885,606 1885,604 1885,638 1885,604 1885,552 1886,646 1886,616 1886,641 1886,648 1887,593 1887,589 1887,630 1887,586 1888,627 1888,626 1888,652 1888,627 1889,612 1889,589 1889,616 1889,642 1890,600 1890,652 1890,556 1891,604 1891,623 1891,566 1891,622 1892,618 1892,597 1892,654 1892,601 1892,562 1893,623 1893,609 1893,606 1893,607 1894,565 1894,646 1894,663 1894,600 1895,601 1895,659 1895,587 1895,634 1896,591 1896,584 1896,636 1896,613 1897,620 1897,671 1897,634 1897,606 1898,641 1898,593 1898,617 1898,665 1899,612 1899,593 1899,647 1899,599 1900,652 1900,613 1900,623 1900,645 1900,625 1901,578 1901,637 1901,628 1901,612 1902,640 1902,652 1902,643 1903,634 1903,563 1903,607 1903,648 1904,614 1904,607 1904,607 1904,603 1905,608 1905,604 1905,656 1905,614 1906,617 1906,624 1906,571 1906,608 1907,610 1907,570 1907,615 1907,582 1907,631 1908,619 1908,599 1908,590 1908,589 1909,671 1909,602 1909,610 1909,621 1910,596 1910,610 1910,667 1910,595 1911,620 1911,603 1911,717 1911,620 1912,652 1912,626 1912,612 1912,651 1913,611 1913,640 1913,620 1914,658 1914,599 1914,642 1914,633 1915,598 1915,609 1915,582 1915,620 1916,638 1916,620 1916,626 1916,643 1916,627 1917,629 1917,645 1917,639 1917,636 1918,574 1918,619 1918,638 1918,618 1919,627 1919,612 1919,598 1919,599 1920,600 1920,648 1920,604 1921,643 1921,587 1921,624 1921,649 1921,681 1922,607 1922,624 1922,649 1922,687 1923,595 1923,654 1923,637 1923,605 1924,638 1924,566 1924,601 1924,628 1925,632 1925,632 1925,626 1925,616 1926,621 1926,592 1926,586 1926,624 1926,572 1927,570 1927,587 1927,619 1927,637 1928,667 1928,652 1928,616 1929,600 1929,635 1929,607 1929,618 1930,660 1930,662 1930,631 1930,680 1931,598 1931,562 1931,683 1931,614 1931,665 1932,660 1932,671 1932,618 1933,643 1933,619 1933,601 1933,637 1934,642 1934,634 1934,638 1934,653 1935,613 1935,634 1935,671 1935,649 1936,633 1936,617 1936,716 1936,629 1937,587 1937,604 1937,681 1937,656 1937,629 1938,604 1938,676 1938,613 1938,604 1939,621 1939,624 1939,620 1940,653 1940,637 1940,607 1940,637 1941,631 1941,567 1941,634 1941,622 1942,633 1942,654 1942,635 1942,690 1943,578 1943,632 1943,640 1943,646 1944,667 1944,655 1944,641 1944,645 1945,669 1945,684 1945,670 1945,664 1945,584 1946,657 1946,602 1946,668 1947,688 1947,679 1947,627 1947,671 1947,669 1948,627 1948,646 1948,669 1949,585 1949,629 1949,672 1949,634 1949,630 1950,664 1950,635 1950,613 1950,674 1951,648 1951,611 1951,661 1951,639 1952,632 1952,617 1952,614 1952,630 1953,592 1953,648 1953,614 1953,637 1954,610 1954,626 1954,648 1954,632 1955,648 1955,646 1955,597 1955,642 1956,649 1956,655 1956,624 1956,650 1957,650 1957,599 1957,692 1957,653 1958,707 1958,669 1958,675 1958,651 1959,672 1959,634 1959,635 1959,640 1960,599 1960,623 1960,633 1960,655 1961,647 1961,667 1961,689 1961,669 1962,638 1962,610 1962,634 1962,652 1963,634 1963,640 1963,626 1963,644 1964,690 1964,654 1964,632 1964,628 1965,649 1965,644 1965,612 1965,605 1965,599 1966,654 1966,609 1966,671 1967,634 1967,671 1967,659 1967,600 1967,653 1968,671 1968,641 1968,621 1968,608 1969,676 1969,644 1969,649 1970,642 1970,629 1970,680 1970,630 1970,666 1971,600 1971,638 1971,648 1971,638 1972,605 1972,644 1972,637 1972,630 1973,673 1973,642 1973,650 1973,646 1974,602 1974,648 1974,594 1974,676 1975,604 1975,680 1975,657 1975,617 1976,622 1976,701 1976,610 963,502 1069,514 970,736 938,557 956,558 1068,514 1215,517 1215,533 1363,523 1405,540 1405,556 1446,547 1458,535 1100,708 1147,719 1187,703 1340,715 1422,476 1423,476 1468,506 1574,509 1572,542 1457,535 1444,546 1674,531 1773,553 1558,749 1841,469 1838,481 1911,531 1774,555 1970,584 1829,548 1843,549 1891,699 1740,357 1740,421" fill="none" stroke="none" marker-start="url(#mb)" marker-mid="url(#mb)" marker-end="url(#mb)"/>
<polyline points="1212,611 1213,627 1213,622 1213,532 1213,650 1213,617 1214,619 1214,634 1214,627 1214,599 1215,610 1215,612 1215,642 1215,641 1215,635 1216,652 1216,637 1216,632 1216,641 1217,624 1217,632 1217,676 1217,616 1217,635 1218,640 1218,661 1218,642 1218,626 1219,635 1219,626 1219,631 1219,643 1219,637 1220,610 1220,600 1220,672 1220,608 1221,595 1221,624 1221,648 1221,635 1221,614 1222,650 1222,612 1222,630 1222,616 1222,651 1223,630 1223,645 1223,695 1223,611 1224,608 1224,666 1224,575 1224,615 1224,578 1225,623 1225,705 1225,601 1225,633 1226,657 1226,628 1226,652 1226,642 1227,634 1227,668 1227,640 1227,615 1227,597 1228,603 1228,605 1228,625 1228,587 1229,638 1229,623 1229,611 1229,631 1230,632 1230,632 1230,688 1230,639 1230,599 1231,583 1231,648 1231,586 1231,642 1232,622 1232,607 1232,638 1232,610 1232,654 1233,685 1233,649 1233,645 1233,679 1233,639 1234,632 1234,651 1234,621 1234,649 1235,651 1235,631 1235,674 1235,580 1236,631 1236,584 1236,661 1236,598 1236,656 1237,668 1237,628 1237,645 1237,607 1238,616 1238,621 1238,637 1238,645 1238,650 1239,608 1239,661 1239,615 1239,670 1239,639 1240,608 1240,601 1240,605 1240,633 1241,606 1241,617 1241,621 1241,632 1241,645 1242,637 1242,681 1242,601 1242,661 1243,550 1243,668 1243,645 1243,609 1244,582 1244,613 1244,686 1244,602 1245,598 1245,652 1245,667 1245,596 1245,646 1245,660 1246,703 1246,633 1246,638 1246,616 1247,617 1247,667 1247,609 1247,628 1248,645 1248,668 1248,619 1248,626 1248,607 1249,640 1249,558 1249,573 1249,677 1250,698 1250,652 1250,659 1250,650 1250,616 1251,661 1251,608 1251,648 1251,688 1251,632 1252,610 1252,647 1252,599 1253,637 1253,670 1253,648 1253,585 1253,673 1254,635 1254,637 1254,660 1254,661 1254,631 1255,629 1255,622 1255,624 1255,678 1256,637 1256,581 1256,595 1256,626 1256,593 1257,642 1257,638 1257,639 1257,619 1258,658 1258,624 1258,638 1258,595 1259,640 1259,650 1259,630 1259,599 1259,648 1260,648 1260,653 1260,627 1260,635 1261,633 1261,611 1261,672 1261,642 1261,651 1262,675 1262,666 1262,681 1262,642 1263,659 1263,655 1263,611 1263,593 1264,666 1264,659 1264,657 1264,649 1264,647 1264,643 1265,672 1265,657 1265,646 1266,625 1266,623 1266,614 1266,650 1266,677 1267,604 1267,663 1267,656 1267,621 1267,641 1268,662 1268,657 1268,670 1268,656 1269,644 1269,606 1269,617 1269,628 1269,654 1270,637 1270,687 1270,689 1270,682 1271,630 1271,659 1271,674 1271,662 1271,622 1272,632 1272,628 1272,658 1272,694 1273,604 1273,650 1273,614 1273,600 1273,678 1274,646 1274,611 1274,657 1274,677 1274,624 1275,661 1275,670 1275,629 1275,632 1276,677 1276,657 1276,616 1276,635 1277,671 1277,655 1277,646 1277,629 1277,651 1278,645 1278,620 1278,620 1278,653 1279,673 1279,652 1279,664 1279,629 1279,615 1280,669 1280,691 1280,587 1280,640 1281,631 1281,670 1281,621 1281,649 1282,687 1282,671 1282,633 1282,629 1282,662 1283,623 1283,669 1283,630 1283,667 1284,575 1284,615 1284,622 1284,678 1284,623 1285,607 1285,632 1285,634 1285,645 1286,631 1286,634 1286,608 1286,672 1286,582 1287,608 1287,662 1287,643 1287,638 1287,631 1288,650 1288,574 1288,684 1288,645 1289,599 1289,649 1289,644 1289,638 1290,677 1290,649 1290,610 1290,603 1290,656 1291,680 1291,648 1291,604 1291,622 1292,647 1292,717 1292,623 1292,617 1292,666 1293,703 1293,655 1293,655 1293,594 1293,676 1294,662 1294,670 1294,670 1294,648 1295,655 1295,655 1295,625 1295,666 1295,622 1296,655 1296,607 1296,625 1296,665 1297,660 1297,630 1297,669 1297,619 1298,632 1298,678 1298,660 1298,631 1298,692 1299,644 1299,646 1299,617 1299,611 1300,685 1300,649 1300,684 1300,655 1300,664 1301,635 1301,652 1301,648 1301,653 1302,663 1302,645 1302,683 1302,665 1302,629 1303,631 1303,596 1303,657 1303,653 1304,654 1304,709 1304,617 1304,666 1304,616 1305,659 1305,634 1305,662 1305,610 1306,639 1306,600 1306,619 1306,643 1306,642 1307,632 1307,667 1307,664 1307,591 1307,705 1308,644 1308,636 1308,674 1308,609 1309,628 1309,637 1309,670 1309,631 1310,633 1310,648 1310,675 1310,625 1310,670 1311,641 1311,661 1311,626 1311,643 1311,652 1312,679 1312,662 1312,655 1312,653 1313,617 1313,627 1313,626 1313,661 1314,633 1314,621 1314,616 1314,617 1314,640 1315,630 1315,600 1315,612 1315,629 1316,615 1316,680 1316,675 1316,673 1316,668 1317,658 1317,623 1317,613 1317,628 1318,625 1318,654 1318,612 1318,641 1319,619 1319,618 1319,642 1319,665 1319,643 1320,638 1320,634 1320,624 1320,669 1320,658 1321,633 1321,630 1321,654 1321,607 1322,650 1322,664 1322,628 1322,620 1323,632 1323,635 1323,640 1323,635 1323,663 1324,694 1324,646 1324,638 1324,648 1325,618 1325,643 1325,615 1325,711 1325,626 1326,659 1326,609 1326,659 1326,690 1326,652 1327,616 1327,584 1327,628 1327,623 1328,623 1328,647 1328,630 1328,649 1329,642 1329,680 1329,644 1329,632 1329,694 1330,661 1330,721 1330,664 1330,588 1331,619 1331,664 1331,644 1331,656 1331,633 1332,627 1332,655 1332,693 1332,652 1333,638 1333,611 1333,647 1333,649 1333,610 1334,642 1334,629 1334,680 1334,585 1335,603 1335,596 1335,653 1335,626 1335,639 1336,652 1336,646 1336,602 1336,655 1336,642 1337,631 1337,656 1337,708 1337,643 1338,655 1338,619 1338,614 1338,621 1339,592 1339,617 1339,639 1339,662 1339,648 1340,631 1340,637 1340,602 1340,656 1341,675 1341,685 1341,659 1341,638 1341,631 1342,592 1342,600 1342,615 1342,608 1343,619 1343,634 1343,615 1343,687 1344,612 1344,631 1344,658 1344,614 1344,660 1345,624 1345,664 1345,683 1345,635 1346,674 1346,623 1346,655 1346,594 1346,606 1347,622 1347,692 1347,653 1347,668 1347,622 1348,636 1348,634 1348,605 1348,626 1349,613 1349,589 1349,623 1349,616 1349,637 1350,639 1350,653 1350,588 1350,687 1351,649 1351,593 1351,673 1351,634 1351,637 1352,647 1352,629 1352,630 1352,640 1353,628 1353,595 1353,627 1353,610 1354,637 1354,629 1354,611 1354,626 1354,597 1355,656 1355,666 1355,646 1355,626 1355,637 1356,664 1356,596 1356,629 1357,674 1357,662 1357,627 1357,657 1357,644 1358,614 1358,614 1358,627 1358,666 1358,633 1359,621 1359,646 1359,682 1359,636 1360,610 1360,623 1360,605 1360,653 1360,644 1361,624 1361,635 1361,660 1361,636 1361,663 1362,615 1362,618 1362,612 1363,653 1363,591 1363,679 1363,612 1363,626 1364,613 1364,637 1364,632 1364,652 1364,568 1365,632 1365,647 1365,619 1365,630 1366,641 1366,648 1366,599 1366,671 1367,621 1367,609 1367,628 1367,637 1367,603 1368,608 1368,617 1368,641 1368,614 1368,589 1369,620 1369,660 1369,665 1369,614 1370,632 1370,584 1370,629 1370,622 1370,620 1371,597 1371,629 1371,598 1371,582 1372,603 1372,636 1372,651 1372,623 1372,632 1373,650 1373,585 1373,605 1373,610 1374,656 1374,623 1374,589 1374,626 1375,605 1375,670 1375,598 1375,565 1376,615 1376,653 1376,644 1376,649 1376,600 1377,622 1377,612 1377,624 1377,636 1377,614 1378,618 1378,623 1378,631 1378,632 1378,590 1379,636 1379,628 1379,687 1379,624 1380,621 1380,651 1380,625 1380,628 1381,611 1381,650 1381,630 1381,600 1381,603 1382,636 1382,652 1382,608 1382,651 1383,680 1383,594 1383,616 1383,626 1383,615 1384,643 1384,647 1384,609 1384,606 1384,617 1385,600 1385,595 1385,613 1385,611 1386,643 1386,622 1386,628 1386,599 1386,619 1387,644 1387,628 1387,582 1387,622 1388,606 1388,658 1388,648 1388,649 1389,608 1389,616 1389,582 1389,647 1389,610 1390,620 1390,642 1390,648 1390,635 1391,624 1391,653 1391,631 1391,586 1391,617 1392,629 1392,611 1392,632 1392,609 1393,616 1393,644 1393,582 1393,657 1393,600 1394,625 1394,618 1394,639 1394,617 1395,625 1395,629 1395,653 1395,633 1395,631 1396,644 1396,586 1396,631 1396,629 1397,672 1397,652 1397,609 1397,607 1398,606 1398,620 1398,594 1398,651 1398,665 1399,628 1399,622 1399,610 1399,610 1399,650 1400,619 1400,615 1400,649 1400,634 1401,617 1401,629 1401,616 1401,617 1401,668 1402,600 1402,620 1402,621 1402,632 1403,619 1403,608 1403,640 1403,646 1403,620 1404,591 1404,656 1404,655 1404,624 1405,590 1405,669 1405,627 1405,647 1406,678 1406,614 1406,543 1406,639 1406,651 1407,655 1407,630 1407,627 1407,612 1408,620 1408,603 1408,655 1408,641 1408,599 1409,654 1409,608 1409,608 1409,621 1410,669 1410,649 1410,657 1410,624 1410,647 1411,611 1411,655 1411,668 1411,623 1411,646 1412,604 1412,624 1412,666 1412,633 1413,625 1413,637 1413,616 1413,608 1413,656 1414,617 1414,651 1414,646 1414,622 1415,601 1415,585 1415,634 1415,682 1416,648 1416,691 1416,636 1416,635 1416,656 1417,645 1417,639 1417,599 1417,650 1418,636 1418,657 1418,662 1418,651 1419,645 1419,647 1419,665 1419,655 1419,596 1420,667 1420,653 1420,678 1420,671 1420,671 1421,663 1421,648 1421,638 1421,640 1422,649 1422,704 1422,630 1422,627 1423,695 1423,627 1423,657 1423,667 1423,636 1424,669 1424,642 1424,636 1424,605 1425,657 1425,677 1425,659 1425,631 1425,644 1426,642 1426,639 1426,677 1426,612 1426,651 1427,624 1427,649 1427,675 1427,633 1428,646 1428,679 1428,614 1428,608 1429,562 1429,656 1429,649 1429,639 1429,656 1430,646 1430,638 1430,622 1430,682 1431,674 1431,653 1431,655 1431,621 1431,602 1432,622 1432,595 1432,631 1432,652 1432,668 1433,662 1433,630 1433,593 1433,640 1434,674 1434,648 1434,618 1434,633 1434,638 1435,625 1435,674 1435,628 1435,646 1436,667 1436,679 1436,654 1436,677 1436,665 1437,673 1437,571 1437,618 1437,634 1438,680 1438,564 1438,651 1438,620 1439,690 1439,622 1439,645 1439,664 1440,671 1440,636 1440,610 1440,626 1440,638 1441,606 1441,621 1441,612 1441,630 1441,640 1442,646 1442,617 1442,603 1442,656 1443,698 1443,592 1443,653 1443,661 1443,605 1444,579 1444,681 1444,665 1444,648 1445,704 1445,663 1445,654 1445,618 1446,679 1446,661 1446,663 1446,591 1446,610 1446,666 1447,614 1447,626 1447,651 1447,639 1448,628 1448,645 1448,650 1448,652 1448,658 1449,716 1449,625 1449,719 1449,610 1450,622 1450,661 1450,643 1450,618 1451,624 1451,652 1451,683 1451,651 1452,617 1452,632 1452,680 1452,592 1452,663 1453,640 1453,595 1453,660 1453,697 1454,664 1454,628 1454,652 1454,669 1454,618 1455,667 1455,677 1455,659 1455,634 1455,676 1456,608 1456,634 1456,626 1456,640 1457,678 1457,649 1457,527 1457,639 1457,623 1458,688 1458,652 1458,627 1458,727 1459,681 1459,566 1459,659 1459,618 1460,657 1460,631 1460,600 1460,645 1460,611 1461,707 1461,662 1461,621 1461,636 1462,641 1462,620 1462,619 1462,631 1463,587 1463,673 1463,649 1463,666 1463,617 1464,684 1464,590 1464,648 1464,701 1464,657 1465,640 1465,673 1465,625 1465,647 1466,646 1466,633 1466,644 1466,647 1466,568 1467,686 1467,627 1467,642 1467,624 1468,648 1468,604 1468,592 1468,638 1469,610 1469,650 1469,601 1469,677 1469,673 1470,607 1470,654 1470,604 1470,649 1470,619 1471,609 1471,635 1471,628 1471,656 1472,658 1472,666 1472,583 1472,653 1472,607 1473,692 1473,676 1473,603 1473,607 1474,630 1474,628 1474,662 1474,587 1475,597 1475,640 1475,586 1475,610 1475,593 1475,616 1476,622 1476,705 1476,613 1476,612 1477,603 1477,663 1477,630 1477,653 1478,644 1478,616 1478,649 1478,605 1478,665 1479,694 1479,644 1479,568 1479,646 1480,696 1480,703 1480,632 1480,587 1480,570 1481,588 1481,625 1481,608 1481,660 1481,621 1482,680 1482,630 1482,649 1482,593 1483,629 1483,604 1483,627 1483,671 1484,599 1484,667 1484,632 1484,636 1484,672 1485,633 1485,682 1485,656 1485,597 1486,656 1486,604 1486,671 1486,654 1486,665 1487,674 1487,597 1487,602 1487,631 1488,668 1488,620 1488,639 1488,555 1488,663 1489,687 1489,690 1489,586 1489,708 1490,612 1490,615 1490,657 1490,642 1490,665 1491,612 1491,653 1491,625 1491,638 1492,626 1492,647 1492,624 1492,595 1493,671 1493,673 1493,644 1493,615 1493,689 1494,660 1494,651 1494,639 1494,684 1495,591 1495,632 1495,631 1495,627 1496,634 1496,628 1496,634 1496,657 1496,637 1497,629 1497,632 1497,658 1497,577 1497,664 1498,622 1498,629 1498,617 1498,597 1499,631 1499,611 1499,653 1499,628 1499,582 1500,664 1500,591 1500,609 1500,576 1501,628 1501,715 1501,571 1501,637 1501,617 1502,643 1502,659 1502,599 1502,666 1503,549 1503,614 1503,643 1503,597 1503,657 1504,598 1504,622 1504,586 1504,628 1505,610 1505,666 1505,558 1505,647 1506,639 1506,644 1506,667 1506,627 1506,634 1507,673 1507,661 1507,672 1507,602 1507,681 1508,595 1508,637 1508,615 1508,615 1509,688 1509,645 1509,610 1509,624 1509,667 1510,665 1510,632 1510,646 1510,614 1511,618 1511,629 1511,628 1511,622 1512,608 1512,674 1512,632 1512,649 1512,660 1513,637 1513,650 1513,666 1513,647 1513,651 1514,663 1514,610 1514,623 1514,632 1515,619 1515,627 1515,623 1515,673 1516,541 1516,588 1516,652 1516,623 1516,675 1517,629 1517,650 1517,624 1517,653 1518,639 1518,616 1518,584 1518,648 1518,636 1519,640 1519,615 1519,651 1519,588 1520,565 1520,668 1520,647 1520,675 1520,608 1521,606 1521,617 1521,625 1521,639 1521,676 1522,610 1522,623 1522,651 1523,613 1523,660 1523,668 1523,622 1523,643 1524,588 1524,632 1524,615 1524,678 1524,601 1525,686 1525,629 1525,619 1525,629 1525,614 1526,636 1526,648 1526,628 1527,642 1527,686 1527,660 1527,588 1527,561 1528,640 1528,602 1528,605 1528,663 1528,669 1529,692 1529,607 1529,657 1529,603 1530,589 1530,633 1530,627 1530,625 1530,630 1531,625 1531,625 1531,654 1531,672 1532,632 1532,603 1532,640 1532,659 1532,664 1533,609 1533,623 1533,584 1533,630 1533,616 1534,568 1534,583 1534,637 1535,622 1535,637 1535,620 1535,653 1535,585 1535,612 1536,606 1536,598 1536,704 1536,637 1537,661 1537,645 1537,625 1537,602 1538,606 1538,647 1538,605 1538,634 1538,654 1539,634 1539,597 1539,606 1539,672 1540,625 1540,644 1540,625 1540,639 1541,620 1541,634 1541,633 1541,659 1541,570 1542,625 1542,609 1542,602 1542,642 1543,588 1543,639 1543,638 1543,626 1543,626 1544,635 1544,670 1544,619 1544,678 1544,636 1545,632 1545,655 1545,697 1545,660 1546,652 1546,630 1546,595 1546,679 1547,590 1547,634 1547,602 1547,637 1547,659 1548,632 1548,617 1548,614 1548,627 1549,681 1549,696 1549,634 1549,634 1549,603 1550,596 1550,677 1550,623 1550,659 1551,693 1551,628 1551,586 1551,644 1551,618 1552,630 1552,706 1552,640 1552,651 1553,653 1553,626 1553,644 1553,638 1553,633 1554,707 1554,574 1554,690 1554,584 1555,659 1555,668 1555,661 1555,661 1555,653 1556,606 1556,618 1556,634 1556,594 1557,650 1557,613 1557,641 1557,628 1557,653 1558,612 1558,614 1558,655 1558,601 1559,603 1559,644 1559,627 1559,647 1559,641 1560,681 1560,633 1560,595 1560,612 1561,641 1561,619 1561,697 1561,649 1561,682 1562,637 1562,625 1562,674 1562,661 1563,636 1563,622 1563,684 1563,650 1563,688 1564,666 1564,652 1564,651 1564,657 1565,671 1565,669 1565,643 1565,652 1566,649 1566,645 1566,706 1566,651 1566,604 1567,619 1567,658 1567,699 1567,667 1568,641 1568,690 1568,643 1568,683 1568,631 1569,608 1569,662 1569,643 1569,675 1569,697 1570,614 1570,587 1570,673 1570,653 1571,647 1571,670 1571,611 1571,657 1572,614 1572,663 1572,693 1572,642 1572,595 1573,689 1573,644 1573,599 1573,623 1574,652 1574,655 1574,689 1574,666 1574,651 1575,631 1575,611 1575,624 1575,616 1575,595 1576,620 1576,592 1576,682 1576,658 1577,628 1577,593 1577,659 1577,613 1578,633 1578,599 1578,628 1578,678 1579,630 1579,626 1579,610 1579,634 1579,597 1580,625 1580,701 1580,654 1580,661 1580,678 1581,626 1581,658 1581,603 1581,656 1582,675 1582,627 1582,648 1582,585 1582,608 1583,680 1583,619 1583,636 1583,618 1584,675 1584,636 1584,664 1584,599 1584,620 1585,631 1585,641 1585,632 1585,631 1586,649 1586,657 1586,650 1586,674 1586,616 1587,676 1587,649 1587,695 1587,654 1588,653 1588,664 1588,627 1588,609 1588,645 1589,621 1589,655 1589,613 1589,606 1590,603 1590,615 1590,660 1590,667 1591,661 1591,650 1591,679 1591,644 1591,639 1592,602 1592,650 1592,628 1592,658 1593,589 1593,672 1593,570 1593,659 1593,646 1594,605 1594,657 1594,576 1594,677 1595,682 1595,583 1595,644 1595,648 1595,626 1596,624 1596,633 1596,684 1596,580 1597,640 1597,648 1597,680 1597,649 1597,632 1598,629 1598,666 1598,638 1598,630 1599,651 1599,619 1599,596 1599,579 1599,583 1600,662 1600,629 1600,625 1600,625 1601,640 1601,590 1601,606 1601,649 1601,593 1602,608 1602,661 1602,587 1602,652 1602,621 1603,651 1603,682 1603,632 1603,643 1604,641 1604,642 1604,613 1604,607 1605,635 1605,617 1605,623 1605,602 1605,608 1606,562 1606,569 1606,654 1606,641 1606,647 1607,674 1607,645 1607,600 1607,639 1608,586 1608,543 1608,671 1608,647 1609,606 1609,620 1609,644 1609,647 1609,617 1610,573 1610,627 1610,636 1610,609 1610,600 1611,569 1611,678 1611,644 1611,591 1612,698 1612,608 1612,628 1612,589 1613,623 1613,625 1613,646 1613,616 1613,591 1614,602 1614,577 1614,588 1614,651 1615,625 1615,676 1615,665 1615,654 1615,618 1616,608 1616,575 1616,634 1616,639 1616,617 1617,653 1617,641 1617,649 1617,593 1618,600 1618,613 1618,619 1618,642 1619,676 1619,612 1619,633 1619,610 1620,607 1620,613 1620,593 1620,648 1620,615 1621,696 1621,585 1621,637 1621,622 1621,654 1622,629 1622,615 1622,674 1622,610 1622,575 1623,632 1623,666 1623,630 1624,636 1624,635 1624,625 1624,676 1624,707 1625,624 1625,635 1625,606 1625,616 1625,635 1626,677 1626,573 1626,635 1626,593 1627,597 1627,600 1627,585 1627,640 1628,618 1628,637 1628,597 1628,616 1628,558 1629,633 1629,642 1629,601 1629,633 1629,635 1630,618 1630,588 1630,639 1630,614 1631,657 1631,615 1631,640 1631,605 1631,686 1632,594 1632,592 1632,573 1632,646 1633,573 1633,632 1633,646 1633,624 1634,531 1634,666 1634,623 1634,567 1635,572 1635,552 1635,637 1635,604 1635,591 1635,581 1636,570 1636,645 1636,656 1636,537 1637,599 1637,597 1637,573 1637,613 1638,622 1638,700 1638,625 1638,626 1638,627 1639,575 1639,608 1639,665 1639,605 1639,639 1640,668 1640,688 1640,587 1641,633 1641,581 1641,641 1641,592 1641,616 1642,556 1642,646 1642,649 1642,653 1643,649 1643,631 1643,640 1643,701 1643,570 1644,635 1644,633 1644,595 1644,593 1644,661 1645,598 1645,573 1645,593 1645,651 1646,651 1646,602 1646,588 1646,655 1647,677 1647,625 1647,665 1647,622 1647,624 1648,608 1648,609 1648,673 1648,666 1648,639 1649,545 1649,618 1649,663 1649,640 1649,643 1650,609 1650,568 1650,582 1651,611 1651,700 1651,646 1651,693 1651,589 1652,612 1652,645 1652,651 1652,675 1652,651 1653,619 1653,631 1653,614 1653,699 1654,620 1654,609 1654,621 1654,623 1655,624 1655,563 1655,572 1655,632 1655,675 1656,613 1656,670 1656,602 1656,605 1657,652 1657,681 1657,695 1657,630 1657,630 1658,651 1658,669 1658,644 1658,633 1658,658 1659,640 1659,638 1659,635 1659,614 1660,622 1660,693 1660,652 1660,649 1661,603 1661,540 1661,636 1661,636 1661,571 1662,617 1662,561 1662,560 1662,587 1662,730 1663,672 1663,657 1663,618 1663,629 1664,660 1664,668 1664,670 1664,612 1664,589 1665,625 1665,640 1665,578 1665,661 1666,619 1666,614 1666,656 1666,672 1666,605 1667,584 1667,673 1667,626 1667,652 1668,640 1668,639 1668,661 1668,578 1668,606 1669,621 1669,638 1669,638 1669,647 1670,670 1670,655 1670,632 1670,665 1671,571 1671,627 1671,600 1671,633 1671,589 1672,614 1672,570 1672,617 1672,674 1673,595 1673,610 1673,582 1673,615 1673,582 1674,592 1674,621 1674,682 1674,625 1674,609 1675,595 1675,669 1675,603 1676,660 1676,595 1676,652 1676,578 1676,685 1677,684 1677,648 1677,630 1677,646 1678,649 1678,614 1678,625 1678,638 1678,588 1679,675 1679,619 1679,622 1679,615 1679,663 1680,614 1680,643 1680,632 1680,635 1681,666 1681,635 1681,596 1681,651 1682,671 1682,620 1682,641 1682,641 1682,607 1683,633 1683,674 1683,596 1683,607 1683,662 1684,615 1684,620 1684,621 1684,670 1685,668 1685,639 1685,633 1685,604 1685,640 1686,649 1686,653 1686,577 1686,696 1687,696 1687,621 1687,599 1687,651 1688,631 1688,631 1688,652 1688,632 1688,624 1689,629 1689,623 1689,640 1689,650 1690,578 1690,658 1690,658 1690,623 1690,607 1691,607 1691,615 1691,646 1691,636 1691,654 1692,643 1692,625 1692,684 1692,603 1693,593 1693,619 1693,630 1693,661 1694,597 1694,631 1694,626 1694,631 1694,679 1695,600 1695,643 1695,638 1695,615 1696,581 1696,651 1696,680 1696,700 1696,610 1697,636 1697,636 1697,621 1697,617 1698,653 1698,665 1698,668 1698,651 1698,627 1699,600 1699,613 1699,651 1699,663 1699,632 1700,639 1700,667 1700,619 1700,635 1701,612 1701,636 1701,616 1701,637 1702,614 1702,622 1702,609 1702,703 1702,638 1703,657 1703,656 1703,675 1703,651 1704,676 1704,606 1704,684 1704,700 1704,627 1705,672 1705,635 1705,630 1705,663 1706,609 1706,681 1706,594 1706,605 1706,633 1707,636 1707,615 1707,655 1707,613 1708,630 1708,675 1708,624 1708,674 1708,602 1709,706 1709,669 1709,635 1709,624 1710,633 1710,617 1710,656 1710,621 1711,658 1711,625 1711,640 1711,641 1711,621 1712,635 1712,657 1712,585 1712,658 1712,628 1713,587 1713,582 1713,652 1713,634 1714,610 1714,615 1714,597 1714,636 1714,637 1715,658 1715,648 1715,651 1715,622 1716,632 1716,675 1716,661 1716,620 1716,636 1717,570 1717,600 1717,673 1717,605 1718,579 1718,653 1718,597 1718,637 1719,691 1719,600 1719,602 1719,643 1719,642 1720,650 1720,673 1720,666 1720,625 1721,636 1721,691 1721,622 1721,631 1721,606 1722,627 1722,647 1722,632 1722,619 1723,636 1723,578 1723,630 1723,618 1723,634 1724,619 1724,655 1724,672 1724,630 1725,646 1725,643 1725,699 1725,654 1726,613 1726,632 1726,621 1726,585 1726,592 1727,647 1727,672 1727,655 1727,649 1727,636 1728,668 1728,634 1728,671 1728,608 1728,687 1729,656 1729,629 1729,598 1729,594 1730,620 1730,639 1730,615 1730,730 1731,632 1731,632 1731,606 1731,611 1731,641 1732,639 1732,680 1732,685 1732,645 1733,654 1733,644 1733,635 1733,644 1734,611 1734,648 1734,646 1734,678 1734,699 1735,652 1735,620 1735,680 1735,674 1735,655 1736,672 1736,602 1736,655 1736,665 1737,613 1737,602 1737,634 1737,653 1738,638 1738,644 1738,624 1738,645 1738,627 1739,644 1739,627 1739,631 1739,682 1739,622 1740,650 1740,617 1740,646 1740,608 1741,633 1741,660 1741,630 1741,629 1742,636 1742,651 1742,626 1742,642 1742,650 1743,624 1743,669 1743,609 1743,628 1743,628 1744,599 1744,652 1744,614 1744,596 1745,670 1745,662 1745,605 1745,625 1745,666 1746,653 1746,640 1746,644 1746,706 1747,644 1747,639 1747,650 1747,630 1747,637 1748,603 1748,633 1748,656 1748,643 1749,628 1749,643 1749,642 1749,649 1749,575 1750,654 1750,674 1750,645 1750,643 1751,692 1751,659 1751,644 1751,600 1752,623 1752,625 1752,669 1752,584 1753,649 1753,629 1753,613 1753,684 1753,607 1754,629 1754,601 1754,632 1754,617 1755,636 1755,612 1755,628 1755,663 1755,619 1755,590 1756,608 1756,613 1756,672 1756,645 1757,639 1757,642 1757,637 1757,668 1758,699 1758,612 1758,638 1758,666 1759,661 1759,660 1759,618 1759,643 1759,696 1759,674 1760,635 1760,654 1760,660 1760,635 1761,664 1761,659 1761,636 1761,676 1762,614 1762,656 1762,604 1762,662 1763,679 1763,647 1763,640 1763,641 1763,646 1764,625 1764,617 1764,632 1764,621 1764,651 1765,661 1765,600 1765,622 1765,627 1766,641 1766,626 1766,591 1766,635 1767,660 1767,620 1767,586 1767,658 1767,604 1768,633 1768,613 1768,689 1768,639 1768,659 1769,647 1769,622 1769,609 1769,670 1770,671 1770,645 1770,616 1770,687 1771,598 1771,633 1771,645 1771,623 1771,627 1772,630 1772,679 1772,676 1772,626 1772,650 1773,627 1773,660 1773,633 1773,662 1774,628 1774,615 1774,653 1774,641 1774,634 1775,600 1775,626 1775,648 1776,646 1776,620 1776,654 1776,687 1776,682 1777,614 1777,625 1777,632 1777,630 1777,610 1778,666 1778,589 1778,577 1778,667 1779,637 1779,635 1779,626 1779,655 1779,627 1780,702 1780,634 1780,609 1780,616 1781,649 1781,582 1781,623 1781,660 1781,663 1782,610 1782,624 1782,663 1782,644 1782,612 1783,630 1783,630 1783,673 1783,675 1784,661 1784,625 1784,627 1784,643 1785,642 1785,615 1785,698 1785,630 1785,602 1786,597 1786,622 1786,648 1786,613 1787,641 1787,641 1787,587 1787,673 1788,646 1788,658 1788,643 1788,661 1788,600 1789,636 1789,582 1789,615 1789,603 1789,672 1790,585 1790,620 1790,658 1790,572 1791,644 1791,641 1791,622 1791,618 1791,611 1792,647 1792,654 1792,642 1792,603 1793,669 1793,624 1793,596 1793,614 1793,664 1794,640 1794,617 1794,661 1794,633 1795,630 1795,623 1795,660 1795,629 1796,622 1796,652 1796,602 1796,661 1796,672 1797,645 1797,589 1797,680 1797,580 1798,648 1798,605 1798,606 1798,644 1798,630 1799,648 1799,635 1799,621 1799,610 1800,589 1800,612 1800,625 1800,621 1800,639 1801,640 1801,599 1801,664 1801,621 1801,568 1802,608 1802,598 1802,658 1802,600 1803,583 1803,597 1803,599 1803,637 1804,615 1804,625 1804,672 1804,610 1804,689 1805,610 1805,629 1805,623 1805,643 1805,684 1806,621 1806,641 1806,591 1806,606 1807,632 1807,648 1807,675 1807,633 1808,605 1808,610 1808,614 1808,657 1809,644 1809,634 1809,612 1809,615 1809,633 1810,641 1810,652 1810,598 1810,638 1811,616 1811,647 1811,621 1811,599 1811,678 1811,616 1812,659 1812,627 1812,640 1812,627 1813,660 1813,629 1813,618 1813,666 1814,637 1814,615 1814,638 1814,609 1815,621 1815,604 1815,638 1815,562 1815,635 1816,630 1816,645 1816,662 1816,679 1817,652 1817,648 1817,641 1817,655 1817,619 1818,628 1818,670 1818,623 1818,657 1818,644 1819,604 1819,630 1819,635 1819,677 1820,675 1820,611 1820,639 1820,639 1820,658 1821,630 1821,604 1821,619 1821,656 1822,652 1822,613 1822,661 1822,604 1823,660 1823,654 1823,652 1823,634 1823,642 1824,653 1824,624 1824,586 1824,599 1824,627 1825,595 1825,627 1825,642 1825,620 1826,629 1826,656 1826,561 1826,614 1827,612 1827,610 1827,619 1827,593 1827,654 1828,597 1828,644 1828,608 1828,608 1828,665 1829,649 1829,668 1829,586 1829,634 1830,610 1830,637 1830,632 1830,645 1831,589 1831,694 1831,668 1831,624 1831,601 1832,645 1832,681 1832,628 1832,619 1833,594 1833,613 1833,591 1833,628 1833,580 1834,634 1834,616 1834,631 1834,610 1835,645 1835,640 1835,622 1835,624 1836,657 1836,581 1836,629 1836,615 1836,602 1837,627 1837,606 1837,638 1837,663 1837,644 1838,690 1838,593 1838,602 1838,587 1839,634 1839,638 1839,654 1839,651 1839,657 1840,631 1840,657 1840,589 1840,623 1841,620 1841,615 1841,613 1841,612 1841,653 1842,641 1842,572 1842,643 1842,622 1843,631 1843,682 1843,614 1843,611 1843,625 1844,623 1844,661 1844,648 1844,617 1845,611 1845,618 1845,607 1845,650 1845,608 1846,627 1846,606 1846,585 1846,598 1847,615 1847,647 1847,556 1847,593 1848,616 1848,636 1848,593 1848,600 1848,650 1849,672 1849,579 1849,600 1849,637 1849,595 1850,615 1850,654 1850,599 1850,640 1851,609 1851,560 1851,580 1851,634 1851,627 1852,604 1852,644 1852,644 1852,634 1853,632 1853,629 1853,599 1853,652 1854,646 1854,592 1854,620 1854,631 1855,578 1855,699 1855,575 1855,624 1855,617 1856,607 1856,640 1856,663 1856,638 1856,625 1857,681 1857,634 1857,548 1857,626 1858,592 1858,654 1858,617 1858,651 1858,629 1859,619 1859,632 1859,568 1859,641 1860,662 1860,617 1860,639 1860,607 1860,609 1861,633 1861,617 1861,651 1861,640 1861,628 1862,648 1862,585 1862,662 1862,640 1863,607 1863,574 1863,653 1863,582 1863,641 1864,595 1864,652 1864,634 1864,631 1865,659 1865,646 1865,629 1865,641 1865,626 1866,644 1866,631 1866,629 1866,663 1867,636 1867,612 1867,677 1867,616 1867,643 1868,676 1868,640 1868,670 1868,660 1869,710 1869,637 1869,620 1869,654 1870,611 1870,604 1870,571 1870,627 1870,537 1871,625 1871,597 1871,616 1871,588 1871,647 1872,574 1872,591 1872,599 1872,665 1873,584 1873,658 1873,554 1873,612 1874,647 1874,595 1874,655 1874,625 1875,590 1875,636 1875,584 1875,669 1875,581 1876,648 1876,581 1876,570 1876,588 1876,585 1877,615 1877,611 1877,571 1877,562 1878,619 1878,614 1878,608 1878,642 1878,619 1879,603 1879,587 1879,616 1879,595 1880,663 1880,631 1880,627 1880,608 1881,617 1881,616 1881,601 1881,609 1881,633 1882,633 1882,652 1882,654 1882,604 1883,633 1883,616 1883,596 1883,614 1883,641 1884,649 1884,608 1884,643 1884,614 1884,601 1885,659 1885,650 1885,627 1885,638 1886,634 1886,684 1886,640 1886,570 1886,614 1887,617 1887,625 1887,615 1887,586 1888,655 1888,621 1888,682 1888,626 1889,635 1889,595 1889,662 1889,629 1889,599 1890,657 1890,649 1890,615 1890,648 1890,648 1891,628 1891,616 1891,572 1891,641 1892,602 1892,633 1892,614 1892,616 1892,617 1893,586 1893,620 1893,623 1893,623 1894,685 1894,643 1894,596 1894,621 1894,643 1895,631 1895,643 1895,663 1896,654 1896,620 1896,649 1896,612 1896,624 1897,642 1897,611 1897,579 1897,652 1898,678 1898,648 1898,618 1898,620 1898,619 1899,601 1899,628 1899,619 1899,611 1899,617 1900,652 1900,644 1900,634 1900,683 1900,585 1901,594 1901,588 1901,633 1901,654 1902,625 1902,630 1902,621 1902,637 1903,637 1903,603 1903,613 1903,622 1904,584 1904,566 1904,640 1904,613 1904,667 1905,619 1905,632 1905,611 1905,660 1906,621 1906,612 1906,615 1906,610 1906,652 1907,649 1907,603 1907,621 1907,640 1908,592 1908,647 1908,578 1908,650 1908,576 1909,581 1909,627 1909,695 1909,639 1910,651 1910,651 1910,645 1910,594 1910,671 1911,617 1911,602 1911,643 1911,587 1911,598 1912,650 1912,601 1912,642 1912,605 1913,660 1913,612 1913,613 1913,634 1914,648 1914,594 1914,651 1914,575 1914,631 1915,616 1915,601 1915,718 1915,665 1916,654 1916,635 1916,618 1916,627 1916,645 1917,638 1917,669 1917,594 1917,641 1917,596 1918,610 1918,619 1918,624 1918,625 1919,669 1919,607 1919,592 1919,633 1920,565 1920,602 1920,639 1920,683 1920,654 1921,605 1921,650 1921,604 1921,625 1922,664 1922,652 1922,689 1922,638 1922,652 1923,613 1923,603 1923,635 1923,626 1923,587 1924,601 1924,617 1924,632 1924,619 1925,621 1925,582 1925,640 1925,642 1926,648 1926,614 1926,630 1926,633 1926,603 1927,648 1927,656 1927,673 1927,597 1928,619 1928,631 1928,697 1928,603 1928,616 1929,616 1929,606 1929,641 1929,626 1930,617 1930,590 1930,653 1930,653 1931,631 1931,617 1931,648 1931,587 1931,637 1932,629 1932,620 1932,651 1932,655 1932,610 1933,612 1933,621 1933,641 1933,647 1934,640 1934,634 1934,660 1934,626 1934,679 1935,675 1935,657 1935,675 1935,633 1936,629 1936,600 1936,609 1936,633 1937,598 1937,613 1937,682 1937,641 1937,658 1938,658 1938,673 1938,612 1938,633 1939,586 1939,657 1939,641 1939,647 1939,618 1940,642 1940,622 1940,659 1940,629 1941,674 1941,636 1941,584 1941,646 1941,634 1942,636 1942,627 1942,632 1942,661 1942,664 1943,610 1943,677 1943,685 1944,632 1944,658 1944,662 1944,632 1944,612 1944,644 1945,663 1945,688 1945,653 1945,620 1946,636 1946,667 1946,627 1946,629 1946,607 1947,643 1947,662 1947,649 1948,697 1948,630 1948,671 1948,646 1948,584 1949,666 1949,661 1949,643 1949,632 1949,627 1950,648 1950,611 1950,644 1950,671 1950,635 1951,602 1951,631 1951,670 1952,648 1952,631 1952,646 1952,642 1952,654 1952,645 1953,650 1953,630 1953,643 1953,670 1954,659 1954,626 1954,611 1954,615 1955,650 1955,603 1955,638 1955,670 1955,643 1956,626 1956,627 1956,635 1956,662 1956,652 1957,640 1957,668 1957,614 1958,671 1958,623 1958,651 1958,626 1958,650 1959,633 1959,641 1959,629 1959,622 1960,662 1960,649 1960,629 1960,641 1960,644 1961,642 1961,665 1961,624 1961,623 1961,606 1962,647 1962,676 1962,644 1962,634 1963,651 1963,616 1963,682 1963,658 1964,644 1964,665 1964,660 1964,638 1964,591 1965,630 1965,648 1965,653 1965,668 1965,650 1966,649 1966,648 1966,680 1966,673 1967,635 1967,685 1967,644 1967,605 1967,660 1968,629 1968,664 1968,661 1969,610 1969,647 1969,610 1969,673 1969,662 1969,645 1970,635 1970,665 1970,659 1970,669 1971,643 1971,613 1971,643 1971,640 1972,641 1972,658 1972,654 1972,661 1972,637 1973,632 1973,629 1973,641 1973,634 1973,628 1974,635 1974,643 1974,612 1974,631 1975,655 1975,654 1975,623 1975,621 1976,656 1976,680 1976,615 1976,670 1394,469 1377,538 1379,703 1409,712 1308,709 1514,476 1626,483 1632,522 1704,508 1717,499 1725,511 1773,535 1556,721 1590,710 1504,711 1435,708 1718,499 1705,510 1725,511 1773,535 1860,526 1913,552 1920,553 1960,716 1585,433" fill="none" stroke="none" marker-start="url(#mo)" marker-mid="url(#mo)" marker-end="url(#mo)"/>
<polyline points="367,1935 367,1918 367,1931 367,1898 367,1959 368,1887 368,1896 368,1887 368,1875 368,1877 368,1944 369,1907 369,1893 369,1868 369,1848 369,1901 370,1872 370,1884 370,1858 370,1896 370,1796 370,1856 370,1833 371,1887 371,1894 371,1838 371,1768 371,1803 371,1850 372,1799 372,1803 372,1858 372,1896 372,1858 373,1898 373,1878 373,1921 373,1988 373,1896 373,1867 373,1875 374,1796 374,1850 374,1855 374,1903 374,1868 374,1815 375,1821 375,1822 375,1844 375,1858 375,1815 376,1830 376,1845 376,1850 376,1943 376,1933 377,1827 377,1899 377,1900 377,1837 377,1832 377,1893 377,1906 378,1868 378,1831 378,1781 378,1926 378,1856 379,1835 379,1904 379,1824 379,1866 379,1913 379,1869 380,1942 380,1878 380,1868 380,1863 380,1830 380,1897 380,1906 381,1919 381,1894 381,1862 381,1863 381,1870 382,1970 382,1832 382,1859 382,1832 382,1911 382,1907 383,1874 383,1888 383,1947 383,1940 383,1907 383,1827 384,1945 384,1934 384,1906 384,1912 384,1841 384,1907 385,1876 385,1830 385,1842 385,1936 385,1869 386,1836 386,1798 386,1891 386,1850 386,1894 386,1875 387,1819 387,1873 387,1883 387,1908 387,1859 387,1878 388,1860 388,1929 388,1839 388,1867 388,1850 388,1890 389,1878 389,1827 389,1813 389,1840 389,1843 389,1909 390,1938 390,1958 390,1865 390,1756 390,1859 391,1864 391,1866 391,1876 391,1848 391,1897 391,1935 392,1876 392,1865 392,1890 392,1809 392,1879 392,1874 393,1834 393,1863 393,1955 393,1888 393,1880 393,1869 394,1951 394,1867 394,1881 394,1892 394,1892 394,1887 395,1888 395,1833 395,1838 395,1868 395,1885 395,1890 396,1858 396,1956 396,1911 396,1870 396,1869 396,1894 397,1868 397,1921 397,1921 397,1890 397,1840 397,1824 398,1878 398,1825 398,1825 398,1869 398,1815 398,1886 399,1837 399,1848 399,1830 399,1838 399,1814 400,1771 400,1799 400,1783 400,1816 400,1815 400,1824 401,1811 401,1877 401,1784 401,1879 401,1827 401,1873 401,1823 402,1852 402,1834 402,1873 402,1863 402,1935 403,1811 403,1881 403,1794 403,1966 403,1912 404,1886 404,1906 404,1920 404,1847 404,1848 404,1848 405,1881 405,1934 405,1946 405,1906 405,1902 405,1842 406,1856 406,1868 406,1844 406,1924 406,1839 406,1885 407,1917 407,1967 407,1945 407,1875 407,1862 407,1941 408,1819 408,1917 408,1874 408,1894 408,1889 408,1944 409,1936 409,1912 409,1909 409,1810 409,1849 409,1859 410,1852 410,1929 410,1848 410,1867 410,1834 410,1914 411,1830 411,1893 411,1895 411,1893 411,1895 411,1853 412,1899 412,1874 412,1899 412,1878 412,1939 412,1849 413,1903 413,1859 413,1792 413,1909 413,1817 414,1799 414,1829 414,1758 414,1834 414,1776 414,1752 415,1807 415,1831 415,1866 415,1853 415,1883 415,1907 416,1876 416,1900 416,1836 416,1841 416,1907 416,1915 417,1920 417,1904 417,1835 417,1826 417,1878 417,1845 418,1797 418,1862 418,1890 418,1851 418,1979 419,1922 419,1843 419,1840 419,1936 419,1786 419,1871 420,1794 420,1873 420,1758 420,1837 420,1901 420,1876 421,1752 421,1854 421,1848 421,1818 421,1745 421,1818 422,1824 422,1797 422,1786 422,1730 422,1770 422,1802 423,1768 423,1752 423,1832 423,1785 423,1804 423,1777 424,1887 424,1795 424,1785 424,1832 424,1792 424,1790 425,1879 425,1773 425,1788 425,1819 425,1845 425,1828 426,1881 426,1849 426,1744 426,1825 426,1769 427,1802 427,1795 427,1848 427,1823 427,1833 427,1832 428,1753 428,1805 428,1764 428,1875 428,1812 428,1786 429,1723 429,1836 429,1823 429,1772 429,1785 429,1890 430,1917 430,1805 430,1877 430,1753 430,1845 430,1866 431,1862 431,1877 431,1861 431,1851 431,1891 432,1858 432,1895 432,1909 432,1901 432,1850 432,1785 432,1829 433,1882 433,1796 433,1822 433,1895 433,1850 434,1849 434,1880 434,1898 434,1850 434,1852 434,1875 435,1809 435,1825 435,1903 435,1830 435,1849 435,1964 435,1846 436,1776 436,1847 436,1859 436,1927 436,1809 437,1863 437,1802 437,1873 437,1857 437,1899 438,1859 438,1834 438,1862 438,1852 438,1876 438,1865 439,1821 439,1897 439,1850 439,1817 439,1835 439,1875 440,1949 440,1832 440,1882 440,1863 440,1849 440,1867 440,1851 441,1903 441,1894 441,1815 441,1839 441,1854 441,1881 442,1927 442,1843 442,1832 442,1886 442,1879 443,1860 443,1833 443,1831 443,1805 443,1827 443,1797 444,1875 444,1840 444,1858 444,1897 444,1864 444,1890 445,1883 445,1944 445,1943 445,1945 445,1894 446,1921 446,1880 446,1852 446,1858 446,1904 446,1897 446,1896 447,1938 447,1895 447,1899 447,1935 447,1895 448,1884 448,1826 448,1855 448,1834 448,1863 448,1886 449,1908 449,1906 449,1804 449,1825 449,1897 449,1935 450,1887 450,1934 450,1847 450,1846 450,1938 450,1832 451,1909 451,1875 451,1862 451,1994 451,1864 451,1876 452,1941 452,1847 452,1872 452,1905 452,1862 453,1831 453,1868 453,1820 453,1816 453,1847 453,1872 453,1805 454,1764 454,1822 454,1827 454,1874 454,1923 455,1876 455,1813 455,1794 455,1776 455,1718 455,1852 456,1882 456,1894 456,1755 456,1848 456,1800 456,1796 457,1855 457,1802 457,1817 457,1863 457,1871 457,1834 458,1848 458,1838 458,1859 458,1797 458,1849 459,1803 459,1812 459,1844 459,1760 459,1893 459,1803 460,1893 460,1861 460,1900 460,1848 460,1910 460,1848 460,1903 461,1824 461,1898 461,1852 461,1734 461,1745 462,1836 462,1858 462,1884 462,1876 462,1850 462,1847 463,1880 463,1906 463,1883 463,1815 463,1829 463,1854 464,1803 464,1861 464,1789 464,1876 464,1847 464,1803 465,1911 465,1810 465,1837 465,1887 465,1843 465,1821 466,1791 466,1874 466,1870 466,1897 466,1786 466,1909 467,1863 467,1885 467,1848 467,1864 467,1887 467,1772 468,1832 468,1888 468,1767 468,1800 468,1874 469,1841 469,1843 469,1799 469,1846 469,1795 469,2005 469,1861 470,1731 470,1847 470,1883 470,1923 470,1791 471,1891 471,1833 471,1847 471,1869 471,1890 471,1801 472,1802 472,1863 472,1813 472,1858 472,1768 472,1819 473,1891 473,1832 473,1895 473,1775 473,1792 474,1904 474,1832 474,1754 474,1837 474,1846 474,1844 474,1857 475,1816 475,1831 475,1864 475,1877 475,1825 475,1857 476,1861 476,1860 476,1856 476,1825 476,1885 477,1892 477,1853 477,1913 477,1851 477,1769 477,1808 478,1906 478,1856 478,1906 478,1822 478,1842 478,1824 479,1863 479,1845 479,1869 479,1821 479,1808 479,1880 480,1772 480,1887 480,1916 480,1918 480,1869 481,1895 481,1832 481,1912 481,1833 481,1831 481,1854 482,1851 482,1889 482,1842 482,1903 482,1919 482,1863 483,1873 483,1863 483,1829 483,1816 483,1860 483,1849 484,1755 484,1745 484,1732 484,1837 484,1708 484,1717 485,1779 485,1840 485,1806 485,1795 485,1872 485,1923 486,1892 486,1981 486,1864 486,1827 486,1889 486,1903 487,1854 487,1776 487,1777 487,1844 487,1749 487,1866 488,1950 488,1938 488,1819 488,1870 488,1777 488,1857 489,1944 489,1849 489,2006 489,1889 489,1853 490,1911 490,1972 490,1942 490,1826 490,1884 490,1948 491,1979 491,1817 491,1894 491,1841 491,1779 491,1792 492,1747 492,1816 492,1892 492,1886 492,1743 492,1805 493,1933 493,1864 493,1819 493,1844 493,1889 493,1716 494,1727 494,1746 494,1833 494,1862 494,1869 494,1920 495,1740 495,1983 495,1776 495,1976 495,1831 495,1853 496,1834 496,1820 496,1882 496,1922 496,1873 497,1993 497,1832 497,1994 497,1914 497,1874 497,1879 497,1796 498,1816 498,1882 498,1828 498,1824 498,1884 499,1891 499,1890 499,1875 499,1870 499,1918 499,1886 500,1792 500,1885 500,1848 500,1826 500,1890 500,1843 501,1895 501,1816 501,1976 501,1869 501,1779 502,1764 502,1858 502,1895 502,1935 502,1847 502,1993 503,1954 503,1944 503,1895 503,1860 503,1797 503,1900 504,1795 504,1810 504,1729 504,1791 504,1809 504,1880 505,1881 505,1847 505,1838 505,1773 505,1902 505,1821 506,1968 506,1883 506,1842 506,1866 506,1851 506,1879 507,1873 507,1866 507,1840 507,1899 507,1866 507,1901 508,1904 508,1964 508,1946 508,1905 508,1915 508,1917 509,1942 509,1967 509,1903 509,1908 509,1856 510,1868 510,1926 510,1956 510,1860 510,1849 510,1835 511,1765 511,1847 511,1849 511,1760 511,1835 511,1785 512,1859 512,1871 512,1870 512,1887 512,1897 512,1894 513,1952 513,1994 513,1936 513,1822 513,1884 513,1862 514,1811 514,1820 514,1899 514,1950 514,1929 515,1946 515,1944 515,1888 515,1836 515,1842 515,1898 516,1919 516,1916 516,1914 516,1874 516,1830 516,1830 517,1914 517,1851 517,1859 517,1832 517,1878 517,1847 518,1839 518,1850 518,1802 518,1807 518,1877 518,1922 519,1871 519,1889 519,1847 519,1943 519,1834 519,1785 520,1825 520,1875 520,1817 520,1861 520,1786 520,1882 521,1847 521,1803 521,1828 521,1890 521,1845 521,1864 522,1850 522,1873 522,1909 522,1927 522,1867 522,1890 523,1970 523,1875 523,1927 523,1794 523,1929 524,1875 524,1941 524,1872 524,1856 524,1785 524,1856 525,1849 525,1871 525,1863 525,1891 525,1869 525,1842 526,1846 526,1878 526,1865 526,1807 526,1845 526,1930 527,1865 527,1844 527,1820 527,1837 527,1807 527,1862 528,1825 528,1902 528,1874 528,1884 528,1826 528,1897 529,1906 529,1907 529,1871 529,1868 529,1852 529,1949 530,1911 530,1928 530,1929 530,1896 530,1937 531,1952 531,1903 531,1877 531,1871 531,1919 531,1863 532,1847 532,1891 532,1892 532,1916 532,1895 532,1856 532,1913 533,1930 533,1872 533,2006 533,1883 533,1972 534,1862 534,1918 534,1981 534,1984 534,1978 535,1973 535,1876 535,1837 535,1921 535,1918 535,1973 535,1840 536,1905 536,1880 536,1870 536,1857 536,1888 536,1946 537,1856 537,1817 537,1907 537,1881 537,1864 538,1802 538,1982 538,1871 538,1928 538,1895 538,1873 539,1855 539,1872 539,1899 539,1935 539,1909 539,1999 540,1946 540,1911 540,1930 540,1866 540,1889 540,1884 541,1857 541,1895 541,1917 541,1864 541,1849 541,1931 542,1833 542,1865 542,1850 542,1885 542,1819 542,1806 543,1768 543,1800 543,1849 543,1777 543,1717 543,1833 544,1828 544,1914 544,1797 544,1877 544,1793 544,1778 545,1812 545,1904 545,1835 545,1869 545,1856 546,1895 546,1929 546,1968 546,1888 546,1906 546,1897 547,1980 547,1885 547,1905 547,1926 547,1884 547,1904 548,1921 548,1857 548,1853 548,1906 548,1925 548,1871 549,1888 549,1913 549,1880 549,1838 549,1925 550,1868 550,1859 550,1869 550,1866 550,1857 550,1817 550,1888 551,1932 551,1877 551,1780 551,1866 551,1813 552,1936 552,1882 552,1853 552,1917 552,1893 552,1823 552,1859 553,1881 553,1908 553,1961 553,1935 553,1835 554,1763 554,1857 554,1799 554,1904 554,1863 554,1940 555,1893 555,1864 555,1855 555,1882 555,1853 555,1942 556,1874 556,1919 556,1902 556,1824 556,1849 556,1898 557,1984 557,1890 557,1858 557,1825 557,1896 557,1875 558,1808 558,1799 558,1862 558,1889 558,1843 559,1873 559,1854 559,1827 559,1855 559,1850 559,1871 560,1844 560,1869 560,1900 560,1931 560,1942 560,1913 561,1908 561,1889 561,1926 561,1859 561,1873 561,1797 562,1889 562,1845 562,1882 562,1787 562,1761 562,1780 563,1725 563,1745 563,1805 563,1781 563,1890 564,1861 564,1776 564,1858 564,1830 564,1770 564,1821 564,1911 565,1740 565,1858 565,1864 565,1846 565,1861 566,1814 566,1847 566,1871 566,1767 566,1812 566,1855 567,1802 567,1869 567,1833 567,1902 567,1783 567,1841 568,1825 568,1800 568,1861 568,1862 568,1857 568,1790 569,1916 569,1899 569,1956 569,1816 569,1858 569,1791 570,1788 570,1914 570,1807 570,1757 570,1785 571,1780 571,1753 571,1833 571,1745 571,1787 571,1750 572,1752 572,1787 572,1884 572,1860 572,1741 572,1783 572,1827 573,1695 573,1668 573,1753 573,1748 573,1739 574,1782 574,1699 574,1803 574,1800 574,1798 574,1741 575,1796 575,1816 575,1821 575,1869 575,1860 575,1821 576,1835 576,1794 576,1815 576,1815 576,1772 576,1796 577,1764 577,1807 577,1813 577,1815 577,1895 577,1871 578,1893 578,1705 578,1823 578,1743 578,1810 579,1812 579,1775 579,1847 579,1798 579,1730 579,1787 579,1876 580,1858 580,1776 580,1842 580,1831 580,1851 581,1756 581,1967 581,1841 581,1898 581,1772 581,1758 582,1890 582,1781 582,1763 582,1834 582,1852 582,1729 583,1835 583,1735 583,1784 583,1782 583,1720 584,1767 584,1734 584,1741 584,1827 584,1731 584,1760 584,1764 585,1774 585,1879 585,1773 585,1866 585,1808 586,1903 586,1786 586,1769 586,1823 586,1920 586,1795 587,1905 587,1762 587,1871 587,1944 587,1843 587,1867 588,1792 588,1736 588,1835 588,1810 588,1762 588,1824 589,1746 589,1900 589,1803 589,1802 589,1871 589,1930 590,1834 590,1915 590,1875 590,1744 590,1785 590,1805 591,1745 591,1872 591,1774 591,1739 591,1816 592,1850 592,1793 592,1688 592,1862 592,1852 592,1932 593,1933 593,1936 593,1953 593,1973 593,1883 593,1885 593,1891 594,1796 594,1767 594,1807 594,1852 594,1770 595,1758 595,1865 595,1725 595,1780 595,1802 595,1795 596,1820 596,1766 596,1931 596,1823 596,1726 596,1861 597,1711 597,1799 597,1882 597,1882 597,1847 598,1834 598,1873 598,1862 598,1813 598,1978 598,1907 598,1824 599,1880 599,1872 599,1891 599,1803 599,1772 600,1997 600,1852 600,1804 600,1833 600,1790 600,1830 601,1819 601,1864 601,1881 601,1812 601,1754 601,1827 602,1813 602,1809 602,1943 602,1777 602,1800 602,1871 603,1919 603,1793 603,1929 603,1885 603,1824 604,1883 604,1914 604,1876 604,1876 604,1946 604,1880 604,1946 605,1884 605,1890 605,1808 605,1870 605,1940 606,1943 606,1983 606,1917 606,1938 606,1939 606,1860 607,1921 607,1881 607,1986 607,1994 607,1933 607,1871 608,1894 608,1912 608,1971 608,1872 608,1847 608,1966 609,1807 609,1831 609,1799 609,1854 609,1933 609,1895 610,1876 610,1893 610,1884 610,1869 610,1968 610,1828 611,1839 611,1863 611,1922 611,1926 611,1778 611,1908 612,1906 612,1821 612,1826 612,1858 612,1817 612,1865 613,1925 613,1811 613,1821 613,1825 613,1818 614,1872 614,1777 614,1847 614,1727 614,1782 614,1847 615,1901 615,1865 615,1801 615,1817 615,1878 615,1799 616,1788 616,1888 616,1826 616,1796 616,1845 616,1786 617,1821 617,1870 617,1888 617,1824 617,1891 617,1891 618,1833 618,1772 618,1869 618,1862 618,1884 619,1804 619,1872 619,1851 619,1806 619,1920 619,1864 619,1864 620,1795 620,1887 620,1793 620,1877 620,1833 620,1899 621,1922 621,1743 621,1866 621,1832 621,1825 622,1728 622,1845 622,1876 622,1874 622,1949 622,1911 623,1938 623,1847 623,1873 623,1911 623,1946 623,1789 624,1821 624,1842 624,1883 624,1922 624,1842 625,1919 625,1888 625,1879 625,1977 625,1949 625,1861 626,1869 626,1881 626,1850 626,1820 626,1861 626,1956 627,1847 627,1789 627,1848 627,1825 627,1847 627,1861 627,1806 628,1898 628,1893 628,1810 628,1912 628,1845 629,1782 629,1824 629,1801 629,1884 629,1862 629,1863 630,1833 630,1880 630,1884 630,1830 630,1870 630,1885 631,1794 631,1894 631,1813 631,1832 631,1807 631,1752 632,1861 632,1818 632,1810 632,1822 632,1854 632,1833 633,1823 633,1851 633,1793 633,1887 633,1797 633,1865 634,1819 634,1816 634,1865 634,1875 634,1946 635,1885 635,1910 635,1894 635,1872 635,1814 635,1755 636,1831 636,1824 636,1824 636,1738 636,1857 636,1930 637,1899 637,1858 637,1821 637,1943 637,1959 637,1907 638,1910 638,1870 638,1841 638,1890 638,1866 638,1847 639,1843 639,1916 639,1866 639,1911 639,1854 639,1780 640,1810 640,1914 640,1867 640,1812 640,1837 641,1969 641,1925 641,1913 641,1849 641,1860 641,1957 641,1931 642,1954 642,1968 642,1885 642,1909 642,1913 643,1906 643,1933 643,1967 643,1903 643,1901 643,1989 644,1882 644,1952 644,1933 644,1882 644,1826 644,1859 645,1821 645,1929 645,1888 645,1851 645,1902 646,1862 646,1931 646,1852 646,1882 646,1930 646,1930 646,1881 647,1859 647,1875 647,1945 647,1873 647,1916 648,1915 648,1880 648,1900 648,1880 648,1923 648,1878 649,1969 649,1894 649,1870 649,1899 649,1927 649,1911 650,1902 650,1895 650,1833 650,1905 650,1934 650,1866 651,1876 651,1882 651,1853 651,1853 651,1886 651,1917 652,1890 652,1829 652,1802 652,1795 652,1816 653,1896 653,1934 653,1845 653,1861 653,1926 653,1864 653,1951 654,1895 654,1842 654,1897 654,1919 654,1945 654,1873 655,1909 655,1855 655,1883 655,1858 655,1908 656,1859 656,1834 656,1871 656,1921 656,1939 656,1874 657,1876 657,1918 657,1934 657,1935 657,1879 657,1949 658,1919 658,1885 658,1905 658,1863 658,1939 659,1889 659,1847 659,1926 659,1930 659,1945 659,1850 659,1798 660,1976 660,1921 660,1877 660,1892 660,1969 661,1869 661,1914 661,1881 661,1889 661,1907 661,1854 662,1868 662,1868 662,1808 662,1900 662,1901 662,1910 663,1858 663,1911 663,1900 663,1879 663,1868 663,1873 664,1965 664,1916 664,1883 664,1902 664,1966 664,1972 665,1899 665,1925 665,1924 665,1953 665,1918 666,1905 666,1945 666,1912 666,1861 666,1933 666,1927 666,1912 667,1933 667,1906 667,1923 667,1891 667,1873 667,1980 668,1929 668,1966 668,1970 668,1936 668,1950 669,1932 669,1961 669,1932 669,1949 669,1920 669,1904 670,1932 670,1916 670,1909 670,1881 670,1915 670,1902 671,1934 671,1912 671,1913 671,1952 671,1926 671,1918 672,1880 672,1843 672,1912 672,1874 672,1980 672,1900 673,1863 673,1907 673,1964 673,1922 673,1913 673,1923 674,1943 674,1937 674,1950 674,1907 674,2003 675,1947 675,1962 675,1897 675,1919 675,1987 675,1996 676,1981 676,1972 676,1941 676,1954 676,1967 676,1953 677,2002 677,1948 677,1924 677,1848 677,1942 677,1914 678,1914 678,1945 678,1842 678,1934 678,1856 678,1935 679,1919 679,1882 679,1900 679,1921 679,1955 680,1931 680,1909 680,1919 680,1892 680,1896 680,1951 681,1935 681,1960 681,1946 681,1922 681,1968 681,1949 682,1906 682,1959 682,1918 682,1937 682,1924 682,1922 682,1913 683,1999 683,1937 683,1910 683,1871 683,1931 684,1987 684,1938 684,1952 684,1870 684,1981 684,1990 685,1931 685,1999 685,2005 685,2004 685,1968 685,1973 686,1949 686,1968 686,1953 686,1957 686,1880 686,1967 687,1964 687,1951 687,1910 687,1933 687,1934 688,1877 688,1876 688,1947 688,1910 688,1940 688,1890 688,1946 689,1886 689,1948 689,1925 689,1904 689,1940 690,1921 690,1880 690,1979 690,1862 690,1823 690,1847 691,1878 691,1803 691,1857 691,1887 691,1827 691,1893 692,1827 692,1819 692,1843 692,1818 692,1920 692,1888 693,1888 693,1819 693,1875 693,1865 693,1809 693,1926 694,1888 694,1871 694,1890 694,1893 694,1864 694,1910 695,1891 695,1906 695,1968 695,1854 695,1925 696,1926 696,1923 696,1917 696,1943 696,1858 696,1938 697,1869 697,1867 697,1917 697,1875 697,1864 697,1872 698,1848 698,1871 698,1941 698,1926 698,1856 698,1857 699,1878 699,1831 699,1855 699,1827 699,1858 700,1900 700,1834 700,1891 700,1796 700,1893 700,1890 701,1814 701,1849 701,1920 701,1836 701,1842 701,1853 701,1833 702,1871 702,1847 702,1908 702,1884 702,1885 703,1911 703,1892 703,1846 703,1928 703,1845 703,1891 704,1887 704,1860 704,1850 704,1867 704,1877 704,1864 705,1814 705,1957 705,1912 705,1893 705,1946 705,1904 706,1861 706,1940 706,1904 706,1888 706,1878 707,1872 707,1858 707,1913 707,1873 707,1934 707,1972 708,1952 708,1872 708,1894 708,1868 708,1817 708,1915 709,1942 709,1910 709,1910 709,1846 709,1818 709,1900 709,1855 710,1865 710,1915 710,1845 710,1871 710,1835 710,1878 711,1890 711,1912 711,1878 711,1767 711,1812 711,1933 712,1865 712,1888 712,1880 712,1854 712,1815 713,1858 713,1804 713,1888 713,1888 713,1931 714,1904 714,1883 714,1890 714,1917 714,1912 714,1908 714,1840 715,1898 715,1872 715,1894 715,1855 715,1836 716,1879 716,1828 716,1841 716,1886 716,1854 716,1769 717,1863 717,1853 717,1839 717,1856 717,1860 717,1839 718,1845 718,1826 718,1812 718,1854 718,1841 718,1865 719,1902 719,1794 719,1757 719,1796 719,1856 719,1799 720,1807 720,1810 720,1799 720,1858 720,1789 721,1894 721,1898 721,1796 721,1790 721,1809 721,1791 721,1757 722,1829 722,1793 722,1783 722,1893 722,1829 723,1841 723,1907 723,1830 723,1814 723,1884 723,1930 723,1895 724,1898 724,1895 724,1971 724,1856 724,1914 725,1936 725,1988 725,1931 725,1897 725,1942 725,1885 726,1933 726,1867 726,1871 726,1850 726,1894 726,1790 727,1861 727,1838 727,1839 727,1816 727,1851 728,1837 728,1810 728,1897 728,1839 728,1859 728,1854 728,1950 729,1831 729,1820 729,1871 729,1889 729,1878 729,1890 730,1873 730,1885 730,1927 730,1818 730,1875 731,1962 731,1921 606,1555 636,1568 502,1586 567,1618 590,1626 604,1626 485,1629 433,1648 382,1660 417,1677 506,1666 617,1653 674,1693 473,1704 485,1697 715,1739 677,1745 421,2027 664,2009 467,1997 531,2002 541,1992 376,1988 437,1994 681,2007" fill="none" stroke="none" marker-start="url(#mc)" marker-mid="url(#mc)" marker-end="url(#mc)"/>
<polyline points="731,1902 731,1839 731,1899 731,1866 731,1883 732,1841 732,1893 732,1868 732,1818 732,1851 733,1845 733,1839 733,1886 733,1874 733,1881 733,1904 734,1859 734,1887 734,1843 734,1875 734,1878 734,1872 735,1855 735,1822 735,1955 735,1861 735,1891 735,1895 736,1839 736,1868 736,1818 736,1870 736,1808 737,1929 737,1853 737,1902 737,1885 737,1951 737,1904 738,1791 738,1890 738,1862 738,1899 738,1945 738,1874 739,1818 739,1758 739,1853 739,1887 739,1866 739,1876 740,1925 740,1987 740,1948 740,1889 740,1891 740,1904 741,1893 741,1906 741,1887 741,1846 741,1839 741,1821 742,1807 742,1898 742,1812 742,1771 742,1792 743,1775 743,1842 743,1876 743,1830 743,1863 743,1842 743,1885 744,1831 744,1829 744,1924 744,1854 744,1855 745,1877 745,1950 745,1889 745,1979 745,1893 745,1868 746,1901 746,1881 746,1852 746,1842 746,1904 746,1910 747,1877 747,1832 747,1846 747,1828 747,1892 747,1802 748,1829 748,1838 748,1900 748,1877 748,1931 748,1913 749,1903 749,1894 749,1857 749,1819 749,1837 749,1775 750,1908 750,1904 750,1823 750,1886 750,1868 750,1911 751,1827 751,1770 751,1874 751,1834 751,1850 752,1767 752,1841 752,1870 752,1830 752,1858 752,1771 753,1797 753,1880 753,1887 753,1847 753,1818 753,1877 754,1868 754,1852 754,1909 754,1856 754,1900 754,1837 755,1867 755,1790 755,1859 755,1913 755,1859 755,1809 756,1806 756,1761 756,1856 756,1885 756,1869 757,1835 757,1869 757,1905 757,1861 757,1810 757,1843 757,1862 758,1801 758,1814 758,1847 758,1824 758,1882 758,1786 759,1783 759,1789 759,1818 759,1934 759,1829 760,1853 760,1807 760,1867 760,1945 760,1933 760,1889 761,1944 761,1886 761,1860 761,1866 761,1875 761,1845 762,1863 762,1984 762,1862 762,1899 762,1858 762,1859 763,1870 763,1868 763,1866 763,1937 763,1836 763,1875 764,1865 764,1909 764,1892 764,1900 764,1823 765,1924 765,1836 765,1898 765,1861 765,1811 765,1952 766,1796 766,1898 766,1856 766,1923 766,1890 766,1834 767,1872 767,1846 767,1827 767,1894 767,1880 767,1934 768,1874 768,1904 768,1901 768,1837 768,1864 768,1873 769,1866 769,1812 769,1875 769,1870 769,1895 769,1804 770,1944 770,1802 770,1897 770,1838 770,1848 771,1817 771,1918 771,1872 771,1823 771,1836 771,1816 772,1874 772,1842 772,1879 772,1865 772,1878 772,1906 773,1921 773,1898 773,1888 773,1893 773,1867 773,1845 774,1908 774,1903 774,1808 774,1874 774,1897 774,1821 775,1858 775,1914 775,1905 775,1842 775,1846 775,1806 776,1859 776,1891 776,1875 776,1887 776,1964 776,1907 777,1915 777,1872 777,1883 777,1889 777,1882 778,1906 778,1923 778,1880 778,1931 778,1944 778,1910 778,1919 779,1917 779,1892 779,1919 779,1937 779,1923 779,1927 780,1987 780,1881 780,1933 780,1979 780,1928 781,1932 781,1930 781,1872 781,1913 781,1981 781,1925 782,1938 782,1860 782,1892 782,1840 782,1867 783,1839 783,1903 783,1825 783,1860 783,1885 783,1847 784,1853 784,1816 784,1891 784,1875 784,1896 784,1837 784,1948 785,1907 785,1939 785,1922 785,1849 785,1948 785,1826 786,1899 786,1912 786,1897 786,1915 786,1855 787,1874 787,1909 787,1926 787,1932 787,1875 787,1889 788,1921 788,1936 788,1902 788,1866 788,1862 788,1861 789,1892 789,1859 789,1844 789,1792 789,1839 789,1846 790,1921 790,1889 790,1889 790,1818 790,1856 791,1918 791,1907 791,1875 791,1901 791,1855 791,1896 791,1828 792,1855 792,1868 792,1911 792,1808 792,1957 793,1907 793,1946 793,1916 793,1889 793,1878 793,1883 794,1856 794,1895 794,1828 794,1857 794,1902 794,1823 795,1915 795,1860 795,1868 795,1815 795,1855 795,1841 796,1916 796,1864 796,1805 796,1845 796,1969 796,1857 797,1905 797,1847 797,1813 797,1874 797,1868 798,1908 798,1894 798,1932 798,1867 798,1855 798,1877 798,1934 799,1903 799,1884 799,1865 799,1875 799,1850 799,1920 800,1858 800,1911 800,1889 800,1928 800,1862 801,1861 801,1889 801,1871 801,1908 801,1892 801,1806 802,1851 802,1886 802,1875 802,1863 802,1863 802,1879 803,1886 803,1913 803,1882 803,1909 803,1861 803,1902 804,1851 804,1811 804,1860 804,1863 804,1789 804,1763 805,1794 805,1886 805,1866 805,1871 805,1918 806,1837 806,1864 806,1876 806,1852 806,1872 806,1852 807,1880 807,1952 807,1943 807,1904 807,1985 807,1871 808,1917 808,1943 808,1894 808,1911 808,1921 808,1909 809,1980 809,1949 809,1959 809,1950 809,1876 809,1914 810,1842 810,1859 810,1882 810,1845 810,1872 810,1887 811,1932 811,1935 811,1882 811,1990 811,1891 812,1951 812,1977 812,1827 812,1893 812,1922 812,1880 812,1885 813,1923 813,1935 813,1900 813,1879 813,1868 813,1910 814,1921 814,1867 814,1930 814,1937 814,1865 815,1841 815,1935 815,1872 815,1925 815,1858 815,1923 816,1875 816,1896 816,1930 816,1859 816,1950 816,1862 817,1894 817,1837 817,1941 817,1883 817,1824 817,1837 818,1903 818,1891 818,1871 818,1902 818,1850 819,1928 819,1803 819,1878 819,1875 819,1886 819,1884 819,1869 820,1828 820,1862 820,1862 820,1899 820,1882 821,1890 821,1852 821,1837 821,1876 821,1908 821,1942 822,1937 822,1852 822,1879 822,1928 822,1924 822,1899 823,1884 823,1882 823,1900 823,1820 823,1906 823,1819 824,1898 824,1850 824,1884 824,1877 824,1953 825,1799 825,1820 825,1829 825,1945 825,1876 825,1858 825,1902 826,1814 826,1723 826,1861 826,1945 826,1872 826,1849 827,1867 827,1846 827,1857 827,1871 827,1837 828,1892 828,1866 828,1844 828,1878 828,1825 828,1883 829,1883 829,1925 829,1853 829,1845 829,1928 829,1866 830,1880 830,1863 830,1826 830,1833 830,1875 831,1910 831,1790 831,1822 831,1881 831,1885 831,1919 831,1918 832,1898 832,1875 832,1875 832,1856 832,1850 833,1865 833,1891 833,1944 833,1883 833,1787 833,1906 834,1893 834,1884 834,1895 834,1919 834,1919 834,1900 835,1950 835,1929 835,1901 835,1848 835,1889 835,1857 836,1933 836,1870 836,1894 836,1893 836,1942 837,1863 837,1902 837,1940 837,1848 837,1815 837,1890 837,1898 838,1988 838,1847 838,1902 838,1911 838,1892 838,1861 839,1902 839,1878 839,1868 839,1905 839,1903 839,1943 840,1937 840,1895 840,1919 840,1951 840,1905 841,1873 841,1886 841,1872 841,1815 841,1934 841,1795 842,1837 842,1871 842,1832 842,1816 842,1886 842,1777 843,1877 843,1866 843,1882 843,1843 843,1868 843,1873 844,1776 844,1798 844,1831 844,1835 844,1793 844,1859 845,1856 845,1869 845,1853 845,1945 845,1860 845,1878 846,1629 846,1895 846,1883 846,1911 846,1842 847,1801 847,1896 847,1864 847,1865 847,1839 847,1888 847,1906 848,1942 848,1898 848,1909 848,1943 848,1873 849,1788 849,1861 849,1886 849,1881 849,1867 849,1893 850,1855 850,1933 850,1913 850,1888 850,1890 850,1894 851,1859 851,1819 851,1882 851,1887 851,1826 851,1867 852,1888 852,1827 852,1812 852,1840 852,1948 853,1893 853,1845 853,1932 853,1968 853,1985 853,1904 854,1882 854,1861 854,1874 854,1891 854,1887 854,1874 855,1999 855,1898 855,1796 855,1874 855,1934 855,1864 856,1791 856,1902 856,1887 856,1817 856,1969 856,1856 857,1931 857,1876 857,1840 857,1877 857,1836 857,1856 858,1912 858,1779 858,1875 858,1856 858,1917 859,1856 859,1814 859,1898 859,1852 859,1898 859,1872 860,1858 860,1853 860,1818 860,1911 860,1837 860,1790 861,1765 861,1844 861,1835 861,1809 861,1816 861,1847 862,1860 862,1685 862,1840 862,1772 862,1841 862,1846 863,1763 863,1836 863,1910 863,1857 863,1782 863,1912 864,1820 864,1859 864,1737 864,1877 864,1864 865,1791 865,1915 865,1883 865,1889 865,1861 865,1902 865,1918 866,1847 866,1830 866,1887 866,1960 866,1845 866,1880 867,1878 867,1851 867,1793 867,1967 867,1844 868,1895 868,1889 868,1869 868,1928 868,1855 868,1837 869,1874 869,1792 869,1897 869,1963 869,1879 869,1940 869,1884 870,1822 870,1865 870,1860 870,1837 870,1834 871,1827 871,1856 871,1842 871,1865 871,1875 871,1889 872,1819 872,1832 872,1897 872,1832 872,1814 872,1819 873,1826 873,1795 873,1879 873,1868 873,1784 873,1783 874,1801 874,1796 874,1877 874,1872 874,1884 875,1916 875,1997 875,1870 875,1803 875,1835 875,1910 876,1889 876,1831 876,1885 876,1851 876,1902 876,1805 877,1813 877,1870 877,1826 877,1819 877,1849 877,1909 878,1834 878,1887 878,1813 878,1848 878,1843 878,1813 879,1850 879,1912 879,1858 879,1877 879,1926 880,1918 880,1858 880,1876 880,1819 880,1872 880,1816 880,1818 881,1804 881,1702 881,1848 881,1837 881,1825 882,1834 882,1775 882,1822 882,1855 882,1792 882,1823 883,1878 883,1815 883,1843 883,1840 883,1861 883,1887 884,1909 884,1892 884,1894 884,1844 884,1796 884,1864 885,1830 885,1846 885,1845 885,1767 885,1863 885,1859 886,1856 886,1838 886,1747 886,1925 886,1918 886,1813 887,1847 887,1852 887,1903 887,1819 887,1892 888,1876 888,1749 888,1902 888,1893 888,1839 888,1876 888,1841 889,1836 889,1810 889,1838 889,1813 889,1900 890,1869 890,1907 890,1936 890,1861 890,1970 890,1895 891,1889 891,1888 891,1900 891,1850 891,1895 891,1830 892,1772 892,1818 892,1769 892,1921 892,1796 892,1879 893,1842 893,1932 893,1849 893,1933 893,1865 893,1880 894,1870 894,1829 894,1881 894,1859 894,1898 895,1850 895,1861 895,1844 895,1873 895,1837 895,1821 896,1839 896,1818 896,1892 896,1875 896,1838 896,1829 897,1859 897,1886 897,1892 897,1926 897,1881 897,1892 898,1909 898,1855 898,1908 898,1873 898,1854 898,1907 899,1843 899,1912 899,1789 899,1823 899,1886 899,1868 900,1882 900,1866 900,1889 900,1843 900,1874 900,1848 901,1905 901,1892 901,1921 901,1876 901,1805 901,1907 902,1901 902,1925 902,1948 902,1900 902,1873 902,1886 903,1844 903,1855 903,1847 903,1946 903,1926 904,1876 904,1941 904,1916 904,1924 904,1860 904,1891 905,1895 905,1937 905,1965 905,1865 905,1841 905,1887 906,1866 906,1881 906,1855 906,1883 906,1982 907,1893 907,1928 907,1898 907,1834 907,1858 907,1952 907,1898 908,1868 908,1901 908,1924 908,1842 908,1889 909,1983 909,1883 909,1887 909,1926 909,1871 909,1926 910,1819 910,1880 910,1946 910,1877 910,1822 910,1840 910,1870 911,1860 911,1864 911,1836 911,1839 911,1841 912,1865 912,1866 912,1849 912,1877 912,1853 912,1898 913,1940 913,1906 913,1872 913,1844 913,1915 913,1925 914,1841 914,1934 914,1909 914,1915 914,1773 914,1933 915,1859 915,1887 915,1814 915,1869 915,1867 915,1891 916,1807 916,1908 916,1856 916,1900 916,1929 917,1873 917,1891 917,1913 917,1938 917,1827 917,1921 918,1916 918,1875 918,1876 918,1888 918,1913 918,1953 919,1886 919,1800 919,1895 919,1959 919,1919 919,1929 920,1899 920,1891 920,1869 920,1882 920,1934 921,1857 921,1878 921,1866 921,1891 921,1947 921,1949 921,1898 922,1909 922,1864 922,1897 922,1888 922,1755 922,1895 923,1855 923,1851 923,1895 923,1916 923,1903 923,1834 924,1799 924,1792 924,1855 924,1834 924,1890 925,1865 925,1895 925,1849 925,1843 925,1915 925,1884 926,1833 926,1935 926,1872 926,1905 926,1907 926,1857 927,1861 927,1878 927,1861 927,1912 927,1937 927,1866 928,1935 928,1834 928,1908 928,1863 928,1884 928,1905 929,2003 929,1938 929,1923 929,1898 929,1914 930,1865 930,1890 930,1955 930,1937 930,1919 930,1870 930,1926 931,1930 931,1866 931,1984 931,1943 931,1904 932,1913 932,1865 932,1927 932,1931 932,1891 932,1846 933,1890 933,1862 933,1901 933,1913 933,1877 933,1963 934,1919 934,1930 934,1914 934,1934 934,2005 935,1905 935,1921 935,1970 935,1962 935,1864 935,1893 936,1890 936,1903 936,1961 936,1922 936,1975 936,1944 936,1951 937,1890 937,1961 937,1981 937,1960 937,1913 938,1920 938,1877 938,1923 938,1867 938,1877 938,1990 939,1845 939,1861 939,1954 939,1889 939,1924 940,1950 940,1864 940,1888 940,1872 940,1882 940,1872 940,1861 941,1862 941,1954 941,1876 941,1901 941,1850 941,1825 942,1873 942,1860 942,1885 942,1847 942,1936 942,1844 943,1863 943,1909 943,1860 943,1942 943,1949 944,1937 944,1929 944,1936 944,1930 944,1861 944,1937 944,1878 945,1905 945,1856 945,1825 945,1852 945,1904 946,1895 946,1957 946,1877 946,1879 946,1917 946,1860 947,1882 947,1881 947,1869 947,1876 947,1947 947,1885 948,1921 948,1927 948,1870 948,1908 948,1951 948,1879 949,1981 949,1916 949,1893 949,1916 949,1908 950,1951 950,1864 950,1928 950,1883 950,1868 950,1892 951,1796 951,1931 951,1934 951,1944 951,1972 951,1903 952,1992 952,1879 952,1864 952,1910 952,1898 952,1995 953,1947 953,1932 953,1915 953,1912 953,1938 953,1878 954,1913 954,1910 954,1864 954,1910 954,1880 954,1896 955,1870 955,1918 955,1911 955,1788 955,1915 956,1836 956,1878 956,1920 956,1811 956,1906 956,1967 956,1877 957,1853 957,1926 957,1893 957,1873 957,1907 958,1904 958,1897 958,1952 958,1945 958,2006 958,1936 959,1913 959,1899 959,1892 959,1851 959,1906 959,1896 960,1825 960,1881 960,1862 960,1887 960,1941 960,1874 961,1837 961,1854 961,1887 961,1910 961,1897 961,1862 962,1881 962,1905 962,1862 962,1861 962,1900 962,1911 963,1866 963,1902 963,1887 963,1928 963,1862 963,1810 964,1883 964,1901 964,1807 964,1855 964,1855 965,1843 965,1885 965,1871 965,1847 965,1780 965,1872 966,1877 966,1873 966,1890 966,1927 966,1941 966,1826 967,1895 967,1880 967,1870 967,1820 967,1857 967,1864 968,1821 968,1926 968,1846 968,1855 968,1820 969,1875 969,1817 969,1878 969,1779 969,1839 969,1845 969,1809 970,1839 970,1892 970,1760 970,1835 970,1797 971,1845 971,1866 971,1806 971,1896 971,1873 971,1905 972,1859 972,1862 972,1825 972,1868 972,1838 972,1844 972,1887 973,1924 973,1888 973,1879 973,1879 973,1867 974,1886 974,1877 974,1825 974,1882 974,1805 974,1951 975,1830 975,1810 975,1814 975,1843 975,1833 975,1817 976,1867 976,1875 976,1847 976,1805 976,1910 976,1889 977,1757 977,1760 977,1880 977,1852 977,1864 977,1848 978,1889 978,1846 978,1884 978,1862 978,1879 979,1822 979,1795 979,1906 979,1851 979,1791 979,1782 980,1860 980,1881 980,1871 980,1831 980,1838 980,1826 981,1822 981,1766 981,1809 981,1761 981,1934 981,1892 982,1835 982,1814 982,1830 982,1756 982,1823 982,1885 983,1748 983,1772 983,1840 983,1843 983,1858 983,1787 984,1731 984,1804 984,1731 984,1746 984,1876 985,1816 985,1830 985,1789 985,1782 985,1764 985,1792 986,1724 986,1801 986,1857 986,1811 986,1822 986,1821 987,1838 987,1829 987,1841 987,1768 987,1798 987,1827 988,1825 988,1782 988,1853 988,1933 988,1935 989,1837 989,1868 989,1888 989,1820 989,1821 989,1877 989,1856 990,1791 990,1882 990,1872 990,1799 990,1838 990,1913 991,1835 991,1875 991,1884 991,1755 991,1864 992,1784 992,1703 992,1826 992,1733 992,1791 992,1835 992,1811 993,1782 993,1793 993,1776 993,1720 993,1774 993,1789 994,1916 994,1816 994,1817 994,1802 994,1839 995,1882 995,1779 995,1851 995,1906 995,1811 995,1944 996,1885 996,1786 996,1798 996,1812 996,1834 996,1826 997,1880 997,1887 997,1807 997,1869 997,1872 998,1827 998,1869 998,1749 998,1869 998,1767 998,1794 999,1853 999,1753 999,1834 999,1849 999,1893 999,1701 1000,1805 1000,1716 1000,1731 1000,1937 1000,1767 1000,1791 1001,1869 1001,1775 1001,1855 1001,1746 1001,1773 1001,1808 1002,1852 1002,1903 1002,1758 1002,1813 1002,1879 1002,1847 1003,1816 1003,1805 1003,1823 1003,1804 1003,1825 1003,1804 1004,1807 1004,1777 1004,1688 1004,1836 1004,1825 1005,1823 1005,1757 1005,1842 1005,1819 1005,1738 1005,1756 1005,1818 1006,1780 1006,1777 1006,1763 1006,1785 1006,1860 1006,1858 1007,1833 1007,1884 1007,1890 1007,1869 1007,1950 1008,1948 1008,1909 1008,1869 1008,1857 1008,1900 1008,1905 1009,1883 1009,1883 1009,1881 1009,1802 1009,1814 1009,1757 1010,1862 1010,1918 1010,1863 1010,1932 1010,1840 1010,1819 1011,1860 1011,1808 1011,1830 1011,1866 1011,1817 1012,1869 1012,1813 1012,1905 1012,1851 1012,1896 1012,1893 1013,1821 1013,1881 1013,1884 1013,1870 1013,1857 1013,1852 1014,1851 1014,1818 1014,1893 1014,1871 1014,1841 1014,1874 1015,1902 1015,1825 1015,1817 1015,1864 1015,1848 1016,1816 1016,1885 1016,1881 1016,1795 1016,1784 1016,1817 1016,1821 1017,1787 1017,1828 1017,1818 1017,1835 1017,1824 1017,1860 1018,1795 1018,1869 1018,1833 1018,1872 1018,1855 1019,1937 1019,1894 1019,1933 1019,1817 1019,1865 1019,1919 1020,1862 1020,1900 1020,1907 1020,1882 1020,1915 1020,1856 1020,1863 1021,1894 1021,1905 1021,1887 1021,1894 1021,1863 1022,1864 1022,1821 1022,1982 1022,1908 1022,1921 1022,1878 1023,1906 1023,1893 1023,1918 1023,1823 1023,1959 1024,1955 1024,1829 1024,1911 1024,1901 1024,1834 1024,1887 1024,1887 1025,1899 1025,1857 1025,1880 1025,1789 1025,1904 1026,1880 1026,1856 1026,1822 1026,1881 1026,1856 1026,1859 1027,1868 1027,1914 1027,1755 1027,1825 1027,1885 1027,1859 1028,1896 1028,1877 1028,1884 1028,1884 1028,1824 1028,1919 1029,1902 1029,1935 1029,1944 1029,1888 1029,1846 1029,1901 1030,1877 1030,1844 1030,1868 1030,1902 1030,1942 1031,1920 1031,1913 1031,1933 1031,1908 1031,1900 1031,1871 1031,1861 1032,1891 1032,1871 1032,1861 1032,1876 1032,1881 1033,1867 1033,1899 1033,1838 1033,1928 1033,1883 1033,1872 1034,1933 1034,1883 1034,1852 1034,1879 1034,1834 1034,1889 1034,1877 1035,1917 1035,1906 1035,1950 1035,1881 1035,1892 1036,1873 1036,1884 1036,1892 1036,1881 1036,1889 1036,1929 1037,1883 1037,1867 1037,1860 1037,1945 1037,1854 1037,1912 1038,1880 1038,1883 1038,1920 1038,1879 1038,1946 1038,1914 1039,1897 1039,1898 1039,1894 1039,1823 1039,1854 1040,1865 1040,1847 1040,1854 1040,1868 1040,1908 1040,1902 1041,1890 1041,1837 1041,1911 1041,1943 1041,1872 1041,1884 1042,1950 1042,1858 1042,1868 1042,1876 1042,1845 1042,1909 1043,1860 1043,1863 1043,1913 1043,1936 1043,1887 1043,1898 1044,1889 1044,1812 1044,1887 1044,1906 1044,1895 1044,1871 1045,1879 1045,1877 1045,1821 1045,1839 1045,1815 1046,1862 1046,1793 1046,1854 1046,1853 1046,1899 1046,1872 1046,1876 1047,1907 1047,1869 1047,1871 1047,1888 1047,1827 1048,1840 1048,1912 1048,1932 1048,1843 1048,1880 1048,1900 1049,1913 1049,1899 1049,1853 1049,1901 1049,1833 1049,1864 1050,1893 1050,1836 1050,1895 1050,1847 1050,1909 1050,1913 1051,1901 1051,1925 1051,1930 1051,1916 1051,1980 1052,1906 1052,1957 1052,1928 1052,1890 1052,1935 1052,1886 1053,1870 1053,1866 1053,1821 1053,1900 1053,1842 1053,1863 1053,1846 1054,1879 1054,1920 1054,1940 1054,1952 1054,1909 1054,1962 1055,1862 1055,1868 1055,1914 1055,1871 1055,1885 1056,1957 1056,1930 1056,1905 1056,1979 1056,1942 1056,1881 1057,1892 1057,1918 1057,1886 1057,1969 1057,1916 1057,1951 1058,1859 1058,1922 1058,1973 1058,1909 1058,1940 1058,1965 1059,1959 1059,1968 1059,1966 1059,1983 1059,1967 1060,1991 1060,1889 1060,1992 1060,1952 1060,1930 1060,1988 1061,1891 1061,1826 1061,1873 1061,1930 1061,1932 1061,1871 1062,1859 1062,1911 1062,1997 1062,1904 1062,1922 1062,1826 1063,1806 1063,1824 1063,1813 1063,1874 1063,1867 1064,1853 1064,1906 1064,1916 1064,1864 1064,1832 1064,1906 1064,1865 1065,1937 1065,1854 1065,1877 1065,1930 1065,1906 1066,1869 1066,1827 1066,1951 1066,1924 1066,1835 1066,1841 1066,1866 1067,1918 1067,1896 1067,1902 1067,1915 1067,1886 1068,1928 1068,1991 1068,1894 1068,1978 1068,1867 1068,1871 1069,1849 1069,1904 1069,1881 1069,1903 1069,1916 1069,1898 1070,1930 1070,1861 1070,1921 1070,1937 1070,1898 1070,1872 1071,1887 1071,1981 1071,1989 1071,1838 1071,1897 1071,1911 1072,1991 1072,1902 1072,1901 1072,1970 1072,1832 1072,1952 1073,1882 1073,1915 1073,1919 1073,1900 1073,1910 1074,1885 1074,1911 1074,1898 1074,1925 1074,1922 1074,1891 1074,1869 1075,1926 1075,1929 1075,1882 1075,1886 1075,1965 1075,1914 1076,1893 1076,1861 1076,1898 1076,1849 1076,1884 1077,1916 1077,1913 1077,1849 1077,1994 1077,1879 1077,1936 1078,1935 1078,1878 1078,1930 1078,1898 1078,1934 1078,1856 1079,2001 1079,1932 1079,1930 1079,1935 1079,1851 1079,1883 1080,1911 1080,1906 1080,1890 1080,1905 1080,1930 1081,1883 1081,1902 1081,1832 1081,1824 1081,1894 1081,1878 1082,1877 1082,1952 1082,1900 1082,1932 1082,1881 1082,1942 1083,1987 1083,1868 1083,1865 1083,1921 1083,1895 1083,1885 1084,1833 1084,1820 1084,1892 1084,1858 1084,1833 1084,1924 1085,1917 1085,1869 1085,1872 1085,1911 1085,1902 1086,1862 1086,1900 1086,1858 1086,1935 1086,1914 1086,1852 1086,1947 1087,1944 1087,1885 1087,1922 1087,1924 1087,1825 1088,1807 1088,1815 1088,1775 1088,1791 1088,1824 1088,1888 1088,1829 1089,1886 1089,1838 1089,1855 1089,1840 1089,1845 1090,1920 1090,1856 1090,1844 1090,1890 1090,1857 1090,1843 1091,1910 1091,1818 1091,1907 1091,1828 1091,1884 1091,1862 1092,1932 1092,1848 1092,1861 1092,1933 1092,1959 1092,1845 1093,1806 1093,1847 1093,1906 1093,1897 1093,1858 1094,1905 1094,1979 1094,1926 1094,1912 1094,1922 1094,1912 1095,1904 1095,1895 1095,1890 1095,1863 1095,1931 1095,1799 1096,1794 1096,1881 1096,1873 1096,1990 1096,1904 1096,1920 1097,1893 1097,1919 1097,1867 1097,1951 1097,1893 1097,1828 1098,1884 1098,1827 1098,1855 1098,1864 1098,1822 1098,1892 1099,1846 1099,1894 1099,1884 1099,1904 1099,1797 1099,1870 1100,1890 1100,1895 1100,1796 1100,1813 1100,1876 1100,1866 1101,1867 1101,1821 1101,1903 1101,1787 1101,1920 1101,1833 1102,1935 1102,1862 1102,1820 1102,1843 1102,1898 1103,1846 1103,1784 1103,1873 1103,1831 1103,1852 1103,1888 1104,1923 1104,1865 1104,1918 1104,1888 1104,1902 1104,1841 1105,1917 1105,1943 1105,1868 1105,1848 1105,1919 1106,1916 1106,1900 1106,1947 1106,1851 1106,1893 1106,1951 1107,1959 1107,1837 1107,1900 1107,1843 1107,1880 1107,1929 1108,1889 1108,1852 1108,1918 1108,1945 1108,1983 1108,1898 1109,1915 1109,1887 1109,1945 1109,1899 1109,1958 1109,1866 1110,1917 1110,1844 1110,1836 1110,1843 1110,1873 1110,1809 1111,1824 1111,1851 1111,1809 1111,1903 1111,1901 1111,1855 1112,1796 1112,1839 1112,1829 1112,1867 1112,1834 1113,1920 1113,1867 1113,1852 1113,1819 1113,1857 1113,1892 1114,1848 1114,1906 1114,1892 1114,1828 1114,1906 1114,1824 1115,1768 1115,1813 1115,1800 1115,1802 1115,1835 1115,1811 1116,1775 1116,1773 1116,1700 1116,1773 1116,1804 1116,1848 1117,1831 1117,1754 1117,1808 1117,1812 1117,1815 1117,1837 1118,1833 1118,1818 1118,1809 1118,1849 1118,1844 1118,1813 1119,1852 1119,1854 1119,1842 1119,1825 1119,1851 1120,1855 1120,1797 1120,1816 1120,1895 1120,1802 1120,1841 1121,1791 1121,1851 1121,1888 1121,1872 1121,1821 1121,1921 1121,1899 1122,1970 1122,1871 1122,1871 1122,1842 1122,1865 1123,1827 1123,1878 1123,1906 1123,1882 1123,1818 1123,1953 1124,1874 1124,1888 1124,1841 1124,1829 1124,1837 1124,1831 1125,1888 1125,1869 1125,1805 1125,1854 1125,1798 1125,1779 1126,1834 1126,1805 1126,1820 1126,1835 1126,1769 1126,1916 1127,1890 1127,1805 1127,1792 1127,1787 1127,1889 1128,1827 1128,1850 1128,1793 1128,1774 1128,1756 1128,1828 1129,1779 1129,1839 1129,1780 1129,1891 1129,1878 1129,1821 1130,1879 1130,1828 1130,1850 1130,1855 1130,1886 1130,1807 1131,1863 1131,1832 1131,1853 1131,1824 1131,1768 1131,1872 1132,1861 1132,1805 1132,1802 1132,1740 1132,1865 1132,1791 1133,1845 1133,1738 1133,1782 1133,1803 1133,1794 1133,1827 1134,1814 1134,1807 1134,1890 1134,1770 1134,1791 1134,1824 1135,1848 1135,1814 1135,1830 1135,1813 1135,1848 1135,1848 1136,1797 1136,1846 1136,1873 1136,1952 1136,1831 1136,1845 1137,1837 1137,1841 1137,1973 1137,1745 1137,1817 1138,1854 1138,1813 1138,1829 1138,1808 1138,1845 1138,1726 1139,1804 1139,1784 1139,1769 1139,1806 1139,1783 1139,1764 1140,1794 1140,1853 1140,1837 1140,1886 1140,1810 1140,1832 1141,1818 1141,1841 1141,1809 1141,1715 1141,1736 1141,1816 1142,1800 1142,1769 1142,1816 1142,1814 1142,1837 1143,1863 1143,1834 1143,1727 1143,1699 1143,1895 1143,1911 1144,1895 1144,1834 1144,1828 1144,1865 1144,1864 1144,1928 1144,1843 1145,1822 1145,1925 1145,1895 1145,1883 1145,1839 1146,1891 1146,1851 1146,1912 1146,1913 1146,1854 1146,1883 1147,1879 1147,1934 1147,1848 1147,1854 1147,1915 1147,1882 1148,1886 1148,1894 1148,1915 1148,1860 1148,1847 1149,1916 1149,1931 1149,1914 1149,1955 1149,1857 1149,1838 1150,1912 1150,1931 1150,1887 1150,1924 1150,1863 1150,1850 1150,1831 1151,1806 1151,1891 1151,1911 1151,1943 1151,1889 1152,1919 1152,1856 1152,1890 1152,1947 1152,1889 1153,1859 1153,1875 1153,1928 1153,1855 1153,1949 1153,1861 1153,1855 1154,1881 1154,1803 1154,1843 1154,1807 1154,1787 1154,1874 1155,1880 1155,1868 1155,1863 1155,1798 1155,1890 1156,1856 1156,1819 1156,1892 1156,1850 1156,1794 1156,1897 1157,1882 1157,1876 1157,1827 1157,1864 1157,1847 1157,1850 1158,1737 1158,1810 1158,1829 1158,1868 1158,1845 1158,1847 1159,1816 1159,1918 1159,2001 1159,1918 1159,1910 1159,1898 1160,1979 1160,1963 1160,1911 1160,1931 1160,1856 1160,1941 1161,1851 1161,1865 1161,1910 1161,1920 1161,1927 1162,1910 1162,1941 1162,1910 1162,1987 1162,1933 1162,1945 1162,2004 1163,1930 1163,1891 1163,1891 1163,1943 1163,1906 1164,1927 1164,1897 1164,1889 1164,1859 1164,1931 1164,1827 1165,1819 1165,1932 1165,1892 1165,1841 1165,1838 1165,1906 1166,1949 1166,1876 1166,1874 1166,1837 1166,1835 1166,1924 1167,1842 1167,1861 1167,1912 1167,1908 1167,1932 1167,1927 1168,1894 1168,1897 1168,1870 1168,1904 1168,1792 1168,1879 1169,1866 1169,1879 1169,1881 1169,1893 1169,1933 1170,1966 1170,1914 1170,1898 1170,1923 1170,1837 1170,1882 1170,1863 1171,1927 1171,1866 1171,1911 1171,1856 1171,1914 1172,1930 1172,1942 1172,1868 1172,1947 1172,1949 1172,1924 1173,1861 1173,1907 1173,1926 1173,1929 1173,1861 1173,1878 1174,1899 1174,1881 1174,1898 1174,1918 1174,1879 1174,1868 1175,1909 1175,1835 1175,1893 1175,1867 1175,1907 1175,1953 1176,1892 1176,1857 1176,1934 1176,1923 1176,1944 1177,1899 1177,1934 1177,1924 1177,1903 1177,1854 1177,1885 1178,1881 1178,1910 1178,1974 1178,1885 1178,1920 1178,1841 1179,1967 1179,1881 1179,1929 1179,1928 1179,1839 1179,1915 1180,1899 1180,1894 1180,1944 1180,1951 1180,1912 1180,1933 1181,1925 1181,1902 1181,1968 1181,1878 1181,1897 1181,1851 1182,1881 1182,1944 1182,1865 1182,1850 1182,1931 1183,1868 1183,1916 1183,1912 1183,1910 1183,1938 1183,1884 1183,1896 1184,1924 1184,1867 1184,1966 1184,1879 1184,1860 1185,1871 1185,1882 1185,1919 1185,1913 1185,1914 1185,1944 1186,1930 1186,1883 1186,1910 1186,1892 1186,1925 1186,1933 1187,1944 1187,1862 1187,1937 1187,1942 1187,1920 1188,1918 1188,1886 1188,1936 1188,1866 1188,1888 1188,1838 1188,1901 1189,1956 1189,1981 1189,2001 1189,1905 1189,1909 1190,1949 1190,1913 1190,1875 1190,1853 1190,1918 1190,1879 1190,1902 1191,1921 1191,1850 1191,1916 1191,1835 1191,1830 1192,1874 1192,1859 1192,1897 1192,1790 1192,1855 1192,1854 1192,1866 1193,1873 1193,1839 1193,1879 1193,1914 1193,1865 1194,1853 1194,1869 1194,1861 1194,1894 1194,1822 1194,1856 1195,1840 1195,1874 1195,1893 1195,1830 1195,1865 1195,1888 1196,1894 1196,1921 1196,1893 1196,1873 1196,1847 1197,1947 1197,1909 1197,1914 1197,1922 1197,1924 1197,1897 1197,1907 1198,1903 1198,1917 1198,1886 1198,1876 1198,1972 1199,1941 1199,1856 1199,1899 1199,1928 1199,1889 1199,1853 1200,1786 1200,1844 1200,1898 1200,1898 1200,1830 1200,1905 1201,1884 1201,1942 1201,1946 1201,1914 1201,1977 1201,1923 1202,1954 1202,1912 1202,1927 1202,1905 1202,1906 1202,1934 1203,1906 1203,1892 1203,1712 1203,1852 1203,1879 1204,1886 1204,1877 1204,1916 1204,1822 1204,1880 1204,1876 1204,1943 1205,1869 1205,1899 1205,1998 1205,1836 1205,1899 1206,1847 1206,1894 1206,1909 1206,1964 1206,1884 1206,1835 1207,1909 1207,1843 1207,1964 1207,1852 1207,1928 1207,1957 1208,1853 1208,1885 1208,1822 1208,1774 1208,1905 1208,1837 1209,1861 1209,1878 1209,1842 1209,1850 1209,1903 1210,1864 1210,1917 1210,1851 1210,1926 1210,1884 1210,1889 1210,1831 1211,1789 1211,1897 1211,1899 1211,1853 1211,1799 1212,1660 1212,1874 1212,1854 1212,1777 1212,1835 1212,1900 1213,1914 1213,1881 1213,1867 1213,1836 1213,1783 1213,1844 1214,1847 1214,1736 1214,1844 1214,1819 1214,1873 1214,1812 1215,1823 1215,1858 1215,1808 1215,1898 1215,1901 1215,1915 1216,1797 1216,1904 1216,1911 1216,1920 1216,1822 1216,1872 1217,1885 1217,1903 1217,1897 1217,1893 1217,1913 1217,1870 1218,1897 1218,1913 1218,1953 1218,1890 1218,1895 1218,1914 1219,1902 1219,1885 1219,1860 1219,1840 1219,1916 1219,1857 1220,1873 1220,1897 1220,1862 1220,1837 1220,1851 1221,1829 1221,1703 1221,1768 1221,1818 1221,1842 1221,1885 1222,1847 1222,1952 1222,1896 1222,1905 1222,1868 1223,1848 1223,1796 1223,1847 1223,1877 1223,1815 1223,1883 1223,1797 1224,1831 1224,1849 1224,1800 1224,1904 1224,1837 1224,1755 1225,1778 1225,1776 1225,1903 1225,1825 1225,1922 1226,1876 1226,1856 1226,1854 1226,1841 1226,1797 1226,1788 1227,1763 1227,1799 1227,1866 1227,1848 1227,1829 1227,1935 1228,1814 1228,1751 1228,1844 1228,1902 1228,1885 1228,1901 1229,1757 1229,1881 1229,1846 1229,1824 1229,1804 1230,1806 1230,1846 1230,1834 1230,1910 1230,1888 1230,1879 1231,1853 1231,1804 1231,1856 1231,1885 1231,1836 1231,1801 1231,1825 1232,1865 1232,1838 1232,1886 1232,1847 1232,1921 1233,1830 1233,1867 1233,1872 1233,1868 1233,1823 1233,1906 1234,1861 1234,1779 1234,1821 1234,1847 1234,1859 1234,1804 1235,1881 1235,1853 1235,1868 1235,1829 1235,1845 1235,1906 1236,1840 1236,1873 1236,1812 1236,1914 1236,1833 1237,1792 1237,1850 1237,1793 1237,1927 1237,1848 1237,1771 1238,1900 1238,1839 1238,1903 1238,1860 1238,1981 1238,1858 1238,1918 1239,1874 1239,1873 1239,1868 1239,1881 1239,1782 1240,1778 1240,1880 1240,1841 1240,1943 1240,1843 1240,1923 1241,1874 1241,1854 1241,1861 1241,1855 1241,1800 1241,1868 1242,1792 1242,1828 1242,1819 1242,1847 1242,1818 1243,1876 1243,1821 1243,1908 1243,1910 1243,1858 1243,1826 1243,1845 1244,1942 1244,1806 1244,1914 1244,1925 1244,1807 1244,1889 1245,1878 1245,1828 1245,1871 1245,1917 1245,1918 1245,1874 1246,1861 1246,1809 1246,1800 1246,1909 1246,1836 1247,1860 1247,1949 1247,1879 1247,1961 1247,1865 1247,1912 1248,1842 1248,1879 1248,1920 1248,1759 1248,1904 1248,1912 1249,1909 1249,1858 1249,1941 1249,1880 1249,1854 1249,1833 1250,1778 1250,1814 1250,1885 1250,1916 1250,1863 1250,1815 1251,1895 1251,1910 1251,1912 1251,1934 1251,1804 1251,1897 1252,1854 1252,1836 1252,1980 1252,1872 1252,1900 1252,1942 1253,1928 1253,1896 1253,1817 1253,1838 1253,1855 1254,1793 1254,1693 1254,1838 1254,1896 1254,1785 1254,1780 1254,1870 1255,1805 1255,1903 1255,1843 1255,1837 1255,1851 1256,1868 1256,1854 1256,1792 1256,1872 1256,1934 1256,1862 1257,1869 1257,1888 1257,1808 1257,1769 1257,1804 1258,1825 1258,1874 1258,1785 1258,1857 1258,1729 1258,1838 1258,1795 1259,1701 1259,1844 1259,1761 1259,1770 1259,1728 1259,1611 1260,1774 1260,1701 1260,1846 1260,1747 1260,1773 1261,1831 1261,1777 1261,1815 1261,1703 1261,1821 1261,1827 1262,1813 1262,1840 1262,1824 1262,1847 1262,1786 1262,1888 1263,1873 1263,1818 1263,1737 1263,1747 1263,1730 1263,1861 1264,1757 1264,1907 1264,1807 1264,1855 1264,1839 1264,1826 1265,1857 1265,1779 1265,1878 1265,1879 1265,1941 1266,1771 1266,1865 1266,1775 1266,1874 1266,1782 1266,1865 1267,1837 1267,1818 1267,1872 1267,1899 1267,1846 1267,1879 1268,1873 1268,1814 1268,1839 1268,1786 1268,1813 1268,1810 1269,1725 1269,1817 1269,1826 1269,1776 1269,1813 1269,1735 1270,1828 1270,1746 1270,1789 1270,1777 1270,1781 1271,1811 1271,1748 1271,1755 1271,1831 1271,1793 1271,1804 1272,1741 1272,1762 1272,1765 1272,1804 1272,1748 1272,1822 1272,1846 1273,1809 1273,1769 1273,1865 1273,1796 1273,1861 1274,1805 1274,1775 1274,1760 1274,1765 1274,1789 1274,1802 1275,1808 1275,1828 1275,1877 1275,1811 1275,1856 1275,1868 1276,1839 1276,1876 1276,1811 1276,1841 1276,1756 1276,1857 1277,1864 1277,1808 1277,1751 1277,1769 1277,1764 1277,1787 1278,1905 1278,1865 1278,1910 1278,1904 1278,1896 1279,1898 1279,1844 1279,1833 1279,1921 1279,1828 1279,1883 1279,1871 1280,1800 1280,1820 1280,1832 1280,1804 1280,1798 1281,1756 1281,1776 1281,1833 1281,1843 1281,1795 1281,1765 1282,1800 1282,1828 1282,1807 1282,1825 1282,1831 1282,1849 1283,1810 1283,1832 1283,1847 1283,1843 1283,1811 1283,1805 1284,1860 1284,1832 1284,1820 1284,1805 1284,1879 1285,1948 1285,1853 1285,1878 1285,1861 1285,1842 1285,1829 1285,1823 1286,1830 1286,1870 1286,1801 1286,1836 1286,1838 1287,1856 1287,1849 1287,1720 1287,1880 1287,1788 1287,1831 1287,1855 1288,1878 1288,1873 1288,1897 1288,1890 1288,1843 1289,1907 1289,1870 1289,1797 1289,1891 1289,1873 1289,1833 1290,1779 1290,1819 1290,1856 1290,1882 1290,1905 1290,1885 1291,1882 1291,1916 1291,1959 1291,1870 1291,1932 1291,1933 1292,1887 1292,1937 1292,1840 1292,1943 1292,1890 1293,1896 1293,1903 1293,1886 1293,1885 1293,1937 1293,1932 1293,1935 1294,1884 1294,1997 1294,1909 1294,1876 1294,1900 1295,1900 1295,1917 1295,1931 1295,1885 1295,1894 1295,1885 1296,1865 1296,1849 1296,1906 1296,1823 1296,1915 1296,1875 1297,1809 1297,1922 1297,1885 1297,1840 1297,1924 1297,1861 1298,1881 1298,1895 1298,1852 1298,1841 1298,1904 1299,1846 1299,1857 1299,1950 1299,1928 1299,1956 1299,1985 1300,1946 1300,1927 1300,1937 1300,1911 1300,1852 1300,1851 1300,1912 1301,1848 1301,1885 1301,1869 1301,1914 1301,1860 1302,1864 1302,1832 1302,1908 1302,1901 1302,1957 1302,1879 1303,1924 1303,1976 1303,1906 1303,1884 1303,1953 1303,1877 1304,1895 1304,1954 1304,1946 1304,1885 1304,1874 1305,1911 1305,1960 1305,1845 1305,1889 1305,1882 1305,1883 1305,1856 1306,1826 1306,1839 1306,1955 1306,1942 1306,1930 1306,1897 1307,1887 1307,1855 1307,1902 1307,1913 1307,1929 1308,1947 1308,1849 1308,1848 1308,1841 1308,1824 1308,1834 1309,1923 1309,1947 1309,1877 1309,1896 1309,1901 1309,1943 1310,1960 1310,1843 1310,1928 1310,1861 1310,1870 1310,1788 1311,1867 1311,1819 1311,1848 1311,1839 1311,1848 1311,1878 1312,1847 1312,1882 1312,1920 1312,1971 1312,1961 1312,1907 1313,1943 1313,1928 1313,1899 1313,1951 1313,1944 1314,1864 1314,1903 1314,1866 1314,1897 1314,1862 1314,1819 1314,1790 1315,1873 1315,1891 1315,1840 1315,1871 1315,1884 1315,1834 1316,1908 1316,1861 1316,1850 1316,1873 1316,1844 1317,1944 1317,1832 1317,1859 1317,1856 1317,1904 1318,1823 1318,1818 1318,1868 1318,1889 1318,1898 1318,1865 1318,1940 1319,1930 1319,1922 1319,1900 1319,1891 1319,1825 1319,1894 1320,1934 1320,1884 1320,1908 1320,1915 1320,1912 1320,1927 1321,1862 1321,1882 1321,1908 1321,1887 1321,1969 1322,1965 1322,1876 1322,1890 1322,1941 1322,1945 1322,1918 1323,1819 1323,1851 1323,1875 1323,1885 1323,1904 1323,1997 1324,1883 1324,1926 1324,1905 1324,1851 1324,1879 1324,1916 1325,1895 1325,1811 1325,1887 1325,1801 1325,1876 1326,1975 1326,1902 1326,1868 1326,1861 1326,1894 1326,1915 1326,1974 1327,1900 1327,1894 1327,1976 1327,1902 1327,1991 1327,1970 1328,1921 1328,1904 1328,1911 1328,1936 1328,1851 1328,1884 1329,1863 1329,1930 1329,1885 1329,1893 1329,1888 1330,1846 1330,1936 1330,1814 1330,1872 1330,1783 1330,1861 1331,1921 1331,1892 1331,1853 1331,1827 1331,1933 1332,1861 1332,1854 1332,1860 1332,1872 1332,1825 1332,1859 1332,1881 1333,1868 1333,1835 1333,1806 1333,1857 1333,1802 1333,1925 1334,1825 1334,1865 1334,1901 1334,1832 1334,1853 1335,1882 1335,1840 1335,1863 1335,1849 1335,1841 1335,1834 1336,1791 1336,1779 1336,1810 1336,1856 1336,1896 1336,1931 1337,1914 1337,1833 1337,1925 1337,1792 1337,1819 1337,1783 1338,1819 1338,1818 1338,1847 1338,1877 1338,1829 1339,1755 1339,1852 1339,1890 1339,1846 1339,1931 1339,1872 1339,1908 1340,1823 1340,1858 1340,1829 1340,1806 1340,1806 1341,1788 1341,1832 1341,1884 1341,1799 1341,1864 1341,1788 1341,1804 1342,1880 1342,1836 1342,1773 1342,1794 1342,1816 1342,1818 1343,1794 1343,1795 1343,1802 1343,1876 1343,1791 1344,1836 1344,1803 1344,1823 1344,1749 1344,1724 1344,1767 1345,1814 1345,1784 1345,1829 1345,1761 1345,1828 1345,1855 1346,1951 1346,1832 1346,1866 1346,1840 1346,1868 1346,1859 1347,1879 1347,1986 1347,1819 1347,1723 1347,1871 1347,1835 1348,1811 1348,1844 1348,1825 1348,1744 1348,1831 1349,1821 1349,1778 1349,1821 1349,1720 1349,1777 1349,1738 1350,1734 1350,1795 1350,1708 1350,1747 1350,1791 1350,1694 1351,1760 1351,1783 1351,1788 1351,1752 1351,1753 1351,1784 1352,1866 1352,1798 1352,1752 1352,1731 1352,1900 1352,1809 1353,1803 1353,1823 1353,1842 1353,1892 1353,1929 1353,1824 1354,1858 1354,1809 1354,1804 1354,1788 1354,1750 1354,1819 1355,1882 1355,1830 1355,1806 1355,1759 1355,1819 1356,1885 1356,1826 1356,1777 1356,1856 1356,1803 1356,1846 1357,1796 1357,1877 1357,1872 1357,1764 1357,1831 1357,1831 1358,1780 1358,1775 1358,1826 1358,1865 1358,1775 1358,1839 1359,1815 1359,1793 1359,1865 1359,1769 1359,1803 1359,1801 1360,1806 1360,1839 1360,1852 1360,1914 1360,1911 1360,1882 1361,1829 1361,1942 1361,1809 1361,1862 1361,1861 1362,1808 1362,1824 1362,1844 1362,1834 1362,1813 1362,1893 1363,1858 1363,1952 1363,1759 1363,1806 1363,1851 1363,1783 1364,1821 1364,1867 1364,1855 1364,1831 1364,1827 1364,1833 1365,1869 1365,1853 1365,1844 1365,1802 1365,1806 1365,1767 1366,1874 1366,1814 1366,1844 1366,1847 1366,1872 1366,1746 1367,1847 1367,1782 1367,1787 1367,1765 1367,1799 1367,1752 1368,1807 1368,1741 1368,1766 1368,1833 1368,1786 1368,1840 1369,1831 1369,1792 1369,1778 1369,1852 1369,1815 1370,1850 1370,1790 1370,1788 1370,1792 1370,1777 1370,1814 1371,1779 1371,1839 1371,1807 1371,1793 1371,1776 1371,1891 1372,1794 1372,1778 1372,1776 1372,1785 1372,1812 1372,1696 1373,1863 1373,1764 1373,1761 1373,1728 1373,1794 1373,1816 1374,1737 1374,1679 1374,1820 1374,1742 1374,1805 1374,1801 1375,1835 1375,1761 1375,1755 1375,1765 1375,1817 1376,1757 1376,1773 1376,1851 1376,1964 1376,1833 1376,1788 1377,1804 1377,1807 1377,1812 1377,1778 1377,1799 1377,1836 1377,1770 1378,1842 1378,1844 1378,1809 1378,1832 1378,1789 1379,1861 1379,1718 1379,1854 1379,1816 1379,1776 1379,1785 1380,1773 1380,1739 1380,1797 1380,1791 1380,1768 1380,1730 1381,1732 1381,1755 1381,1730 1381,1747 1381,1782 1381,1752 1382,1824 1382,1748 1382,1757 1382,1783 1382,1778 1382,1737 1383,1765 1383,1859 1383,1874 1383,1840 1383,1793 1383,1751 1384,1846 1384,1700 1384,1866 1384,1799 1384,1803 1385,1773 1385,1735 1385,1821 1385,1860 1385,1773 1385,1763 1386,1830 1386,1777 1386,1823 1386,1821 1386,1825 1386,1816 1387,1812 1387,1773 1387,1844 1387,1821 1387,1754 1387,1816 1388,1815 1388,1747 1388,1792 1388,1887 1388,1735 1388,1785 1389,1772 1389,1848 1389,1824 1389,1743 1389,1873 1389,1818 1390,1793 1390,1806 1390,1816 1390,1788 1390,1797 1390,1779 1391,1822 1391,1834 1391,1820 1391,1783 1391,1837 1392,1748 1392,1776 1392,1801 1392,1808 1392,1751 1392,1811 1393,1713 1393,1787 1393,1773 1393,1771 1393,1743 1393,1739 1394,1706 1394,1797 1394,1724 1394,1744 1394,1812 1395,1816 1395,1795 1395,1848 1395,1853 1395,1859 1395,1771 1396,1863 1396,1834 1396,1766 1396,1847 1396,1878 1396,1832 1396,1816 1397,1800 1397,1801 1397,1806 1397,1774 1397,1783 1397,1766 1398,1706 1398,1779 1398,1771 1398,1688 1398,1748 1399,1813 1399,1841 1399,1884 1399,1845 1399,1792 1399,1812 1400,1872 1400,1806 1400,1814 1400,1865 1400,1773 1400,1774 1401,1828 1401,1825 1401,1803 1401,1796 1401,1793 1401,1648 1402,1835 1402,1827 1402,1865 1402,1823 1402,1831 1402,1854 1403,1858 1403,1854 1403,1900 1403,1874 1403,1880 1403,1879 1404,1814 1404,1855 1404,1888 1404,1887 1404,1918 1404,1820 1405,1764 1405,1836 1405,1809 1405,1829 1405,1835 1406,1757 1406,1827 1406,1822 1406,1866 1406,1808 1406,1826 1407,1803 1407,1811 1407,1848 1407,1808 1407,1845 1407,1892 1408,1802 1408,1793 1408,1860 1408,1902 1408,1822 1408,1748 1409,1930 1409,1858 1409,1866 1409,1831 1409,1874 1409,1850 1410,1858 1410,1860 1410,1836 1410,1858 1410,1820 1411,1842 1411,1879 1411,1863 1411,1848 1411,1838 1411,1876 1411,1878 1412,1864 1412,1878 1412,1909 1412,1877 1412,1840 1412,1807 1413,1793 1413,1790 1413,1835 1413,1920 1413,1856 1414,1873 1414,1883 1414,1853 1414,1839 1414,1934 1414,1862 1415,1894 1415,1888 1415,1887 1415,1893 1415,1890 1415,1898 1416,1877 1416,1910 1416,1840 1416,1884 1416,1904 1416,1899 1417,1975 1417,1904 1417,1874 1417,1949 1417,1909 1418,1927 1418,1879 1418,1865 1418,1878 1418,1892 1418,1925 1419,1841 1419,1922 1419,1923 1419,1877 1419,1965 1419,1902 1420,1923 1420,1875 1420,1869 1420,1867 1420,1896 1420,1923 1421,1891 1421,1853 1421,1894 1421,1850 1421,1893 1422,1839 1422,1921 1422,1877 1422,1862 1422,1877 1422,1864 1422,1837 1423,1872 1423,1825 1423,1931 1423,1875 1423,1851 1424,1809 1424,1850 1424,1860 1424,1744 1424,1894 1424,1858 1425,1845 1425,1884 1425,1884 1425,1877 1425,1885 1425,1848 1426,1851 1426,1916 1426,1864 1426,1901 1426,1871 1426,1886 1426,1879 1427,1882 1427,1826 1427,1883 1427,1847 1427,1842 1428,1856 1428,1897 1428,1839 1428,1872 1428,1884 1428,1895 1429,1927 1429,1898 1429,1883 1429,1860 1429,1902 1429,1913 1430,1863 1430,1923 1430,1929 1430,1912 1430,1881 1430,1925 1431,1900 1431,1917 1431,1918 1431,1848 1431,1932 1432,1903 1432,1908 1432,1884 1432,1931 1432,1894 1432,1903 1433,1869 1433,1894 1433,1862 1433,1933 1433,1896 1433,1867 1434,1919 1434,1898 1434,1894 1434,1883 1434,1922 1434,1943 1435,1891 1435,1949 1435,1927 1435,1893 1435,1887 1436,1928 1436,1886 1436,1916 1436,1902 1436,1902 1436,1909 1436,1919 1437,1934 1437,1918 1437,1892 1437,1898 1437,1880 1438,1874 1438,1883 1438,1855 1438,1905 1438,1925 1438,1895 1439,1923 1439,1921 1439,1918 1439,1922 1439,1916 1439,1919 1439,1855 1440,1889 1440,1918 1440,1930 1440,1903 1440,1888 1441,1873 1441,1896 1441,1909 1441,1888 1441,1885 1441,1902 1442,1880 1442,1922 1442,1880 1442,1906 1442,1897 1442,1903 1443,1931 1443,1945 1443,1928 1443,1910 1443,1887 1443,1942 1444,1937 1444,1889 1444,1894 1444,1929 1444,1901 1445,1896 1445,1880 1445,1913 1445,1856 1445,1870 1445,1883 1446,1861 1446,1912 1446,1897 1446,1924 1446,1935 1446,1921 1447,1875 1447,1932 1447,1883 1447,1920 1447,1963 1447,1882 1448,1932 1448,1904 1448,1898 1448,1934 1448,1909 1448,1879 1449,1916 1449,1907 1449,1897 1449,1952 1449,1871 1450,1937 1450,1885 1450,1880 1450,1929 1450,1873 1450,1912 1450,1880 1451,1904 1451,1900 1451,1934 1451,1961 1451,1920 1451,1937 1452,1867 1452,1891 1452,1859 1452,1867 1452,1860 1453,1871 1453,1844 1453,1814 1453,1906 1453,1893 1453,1910 1453,1868 1454,1898 1454,1869 1454,1860 1454,1839 1454,1886 1455,1935 1455,1878 1455,1899 1455,1899 738,1573 761,1579 970,1591 1075,1595 890,1655 896,1672 757,1677 857,1693 839,1703 890,1697 1005,1674 981,1690 1054,1700 1082,1723 839,1731 949,1730 1036,2020 794,1985 752,1959 1099,1564 1074,1595 1402,1592 1291,1631 1274,1641 1371,1635 1395,1641 1353,1654 1435,1654 1317,1675 1416,1674 1241,1672 1236,1686 1125,1684 1146,1686 1083,1723 1220,1700 1249,1706 1198,1712 1212,1724 1306,2010 1324,1984 1452,1975 1383,1956 1253,1953 1222,1965 1340,1954 1264,1416 980,1455 1397,1525 1401,1591 1097,1564 1073,1596 969,1591 737,1572 760,1579" fill="none" stroke="none" marker-start="url(#mr)" marker-mid="url(#mr)" marker-end="url(#mr)"/>
<polyline points="1455,1910 1456,1834 1456,1798 1456,1866 1456,1850 1456,1865 1457,1899 1457,1897 1457,1870 1457,1857 1457,1855 1458,1853 1458,1957 1458,1894 1458,1911 1458,1829 1459,1870 1459,1841 1459,1845 1459,1830 1460,1829 1460,1853 1460,1893 1460,1831 1461,1886 1461,1833 1461,1866 1461,1805 1461,1879 1462,1839 1462,1881 1462,1828 1462,1855 1462,1841 1463,1849 1463,1802 1463,1853 1463,1848 1464,1845 1464,1868 1464,1866 1464,1810 1464,1815 1465,1832 1465,1853 1465,1814 1465,1826 1465,1837 1466,1808 1466,1855 1466,1810 1466,1832 1467,1830 1467,1831 1467,1870 1467,1851 1467,1772 1468,1851 1468,1876 1468,1937 1468,1870 1469,1913 1469,1846 1469,1894 1469,1850 1469,1837 1470,1791 1470,1810 1470,1876 1470,1773 1470,1733 1471,1785 1471,1845 1471,1782 1471,1902 1471,1828 1472,1787 1472,1841 1472,1840 1472,1809 1473,1784 1473,1836 1473,1829 1473,1848 1474,1788 1474,1817 1474,1828 1474,1839 1474,1845 1475,1877 1475,1809 1475,1844 1475,1839 1475,1840 1476,1846 1476,1750 1476,1766 1476,1813 1477,1779 1477,1854 1477,1830 1477,1944 1477,1859 1478,1848 1478,1871 1478,1905 1478,1854 1478,1785 1479,1879 1479,1861 1479,1843 1479,1828 1479,1861 1480,1900 1480,1926 1480,1879 1480,1900 1481,1886 1481,1852 1481,1820 1481,1875 1482,1810 1482,1900 1482,1846 1482,1787 1482,1866 1483,1848 1483,1820 1483,1809 1483,1852 1483,1814 1484,1794 1484,1802 1484,1827 1484,1846 1485,1870 1485,1833 1485,1868 1485,1872 1485,1792 1486,1876 1486,1869 1486,1890 1486,1847 1486,1787 1487,1838 1487,1796 1487,1860 1487,1831 1487,1826 1488,1889 1488,1912 1488,1901 1488,1777 1489,1843 1489,1838 1489,1774 1489,1782 1489,1814 1490,1749 1490,1819 1490,1708 1490,1750 1491,1867 1491,1789 1491,1796 1491,1769 1491,1800 1492,1855 1492,1945 1492,1879 1492,1807 1493,1885 1493,1777 1493,1751 1493,1765 1493,1770 1494,1874 1494,1856 1494,1765 1494,1815 1495,1845 1495,1818 1495,1758 1495,1762 1495,1769 1496,1820 1496,1827 1496,1802 1496,1769 1496,1854 1497,1837 1497,1746 1497,1839 1497,1842 1497,1748 1498,1780 1498,1798 1498,1770 1498,1744 1499,1751 1499,1726 1499,1831 1499,1774 1500,1752 1500,1823 1500,1794 1500,1662 1500,1699 1501,1802 1501,1716 1501,1735 1501,1741 1501,1742 1502,1729 1502,1813 1502,1759 1502,1734 1502,1802 1503,1779 1503,1776 1503,1755 1503,1745 1504,1781 1504,1812 1504,1833 1504,1826 1504,1806 1505,1831 1505,1790 1505,1703 1505,1775 1505,1837 1506,1798 1506,1738 1506,1797 1506,1838 1507,1797 1507,1748 1507,1773 1507,1799 1507,1804 1508,1797 1508,1784 1508,1782 1508,1712 1509,1780 1509,1771 1509,1817 1509,1787 1509,1821 1510,1815 1510,1861 1510,1763 1510,1890 1510,1822 1511,1739 1511,1795 1511,1880 1511,1757 1512,1773 1512,1820 1512,1820 1512,1852 1512,1770 1513,1716 1513,1798 1513,1794 1513,1828 1514,1738 1514,1811 1514,1751 1514,1792 1514,1791 1515,1702 1515,1753 1515,1693 1515,1740 1515,1753 1516,1720 1516,1762 1516,1739 1516,1813 1517,1772 1517,1876 1517,1774 1517,1729 1517,1759 1518,1776 1518,1804 1518,1763 1518,1697 1518,1778 1519,1850 1519,1818 1519,1891 1519,1740 1520,1881 1520,1821 1520,1846 1520,1835 1520,1709 1521,1831 1521,1795 1521,1838 1521,1841 1522,1773 1522,1821 1522,1847 1522,1767 1522,1853 1523,1759 1523,1790 1523,1783 1523,1836 1523,1837 1524,1768 1524,1803 1524,1735 1524,1770 1524,1754 1525,1810 1525,1773 1525,1833 1525,1827 1526,1765 1526,1822 1526,1828 1526,1804 1526,1753 1527,1807 1527,1748 1527,1794 1527,1726 1527,1755 1528,1746 1528,1772 1528,1681 1528,1763 1529,1739 1529,1744 1529,1727 1529,1678 1530,1727 1530,1734 1530,1749 1530,1732 1530,1795 1531,1769 1531,1787 1531,1792 1531,1761 1532,1772 1532,1758 1532,1795 1532,1818 1532,1753 1533,1722 1533,1693 1533,1770 1533,1735 1533,1702 1534,1773 1534,1785 1534,1806 1534,1707 1535,1785 1535,1783 1535,1750 1535,1792 1535,1737 1536,1828 1536,1777 1536,1827 1536,1758 1537,1812 1537,1746 1537,1867 1537,1814 1537,1892 1538,1833 1538,1862 1538,1860 1538,1853 1538,1876 1539,1761 1539,1839 1539,1807 1539,1770 1539,1772 1540,1845 1540,1801 1540,1853 1540,1780 1541,1785 1541,1853 1541,1787 1541,1896 1541,1761 1542,1780 1542,1844 1542,1838 1542,1812 1543,1810 1543,1870 1543,1766 1543,1830 1543,1756 1544,1781 1544,1780 1544,1810 1544,1814 1545,1897 1545,1869 1545,1830 1545,1835 1545,1816 1546,1805 1546,1855 1546,1881 1546,1846 1546,1858 1547,1894 1547,1820 1547,1807 1547,1871 1547,1797 1548,1788 1548,1884 1548,1871 1548,1786 1549,1796 1549,1847 1549,1743 1549,1864 1549,1785 1550,1821 1550,1845 1550,1887 1550,1811 1550,1868 1551,1803 1551,1763 1551,1733 1551,1793 1552,1779 1552,1837 1552,1848 1552,1764 1552,1843 1553,1801 1553,1779 1553,1794 1553,1831 1554,1815 1554,1856 1554,1829 1554,1850 1554,1824 1555,1816 1555,1840 1555,1814 1555,1870 1556,1761 1556,1825 1556,1835 1556,1792 1556,1802 1557,1888 1557,1820 1557,1879 1557,1853 1557,1915 1558,1923 1558,1860 1558,1865 1558,1892 1558,1898 1559,1880 1559,1893 1559,1833 1559,1887 1560,1874 1560,1863 1560,1935 1560,1802 1561,1787 1561,1802 1561,1859 1561,1788 1561,1895 1562,1909 1562,1785 1562,1838 1562,1865 1562,1886 1563,1819 1563,1812 1563,1827 1563,1904 1563,1869 1564,1761 1564,1859 1564,1806 1564,1866 1565,1735 1565,1866 1565,1784 1565,1843 1566,1860 1566,1837 1566,1893 1566,1851 1566,1890 1566,1826 1567,1785 1567,1814 1567,1847 1567,1834 1568,1877 1568,1822 1568,1880 1568,1811 1569,1881 1569,1844 1569,1820 1569,1896 1569,1916 1569,1877 1570,1881 1570,1891 1570,1862 1570,1822 1571,1804 1571,1867 1571,1902 1571,1871 1571,1898 1572,1814 1572,1841 1572,1795 1572,1791 1573,1869 1573,1818 1573,1786 1573,1858 1573,1882 1574,1868 1574,1853 1574,1854 1574,1893 1575,1923 1575,1851 1575,1879 1575,1909 1575,1943 1576,1848 1576,1917 1576,1924 1576,1954 1576,1824 1577,1907 1577,1909 1577,1939 1577,1859 1578,1916 1578,1902 1578,1930 1578,1839 1578,1854 1579,1887 1579,1956 1579,1786 1579,1843 1579,1837 1580,1838 1580,1791 1580,1803 1580,1899 1581,1818 1581,1827 1581,1833 1581,1817 1581,1849 1582,1845 1582,1834 1582,1794 1582,1826 1583,1836 1583,1840 1583,1881 1583,1727 1583,1840 1584,1764 1584,1683 1584,1846 1584,1864 1584,1774 1585,1835 1585,1814 1585,1723 1585,1866 1586,1766 1586,1779 1586,1805 1586,1809 1586,1782 1587,1828 1587,1847 1587,1830 1587,1910 1588,1863 1588,1848 1588,1905 1588,1862 1588,1953 1589,1800 1589,1869 1589,1891 1589,1957 1589,1885 1590,1833 1590,1869 1590,1908 1590,1933 1591,1857 1591,1885 1591,1855 1591,1919 1591,1872 1592,1889 1592,1846 1592,1918 1592,1881 1592,1887 1593,1910 1593,1864 1593,1879 1593,1831 1594,1800 1594,1855 1594,1771 1594,1840 1594,1810 1595,1842 1595,1869 1595,1854 1595,1843 1596,1814 1596,1917 1596,1847 1596,1859 1596,1848 1597,1769 1597,1762 1597,1832 1597,1854 1597,1924 1598,1826 1598,1859 1598,1796 1598,1749 1598,1764 1599,1793 1599,1733 1599,1748 1599,1818 1600,1858 1600,1761 1600,1794 1600,1851 1601,1880 1601,1775 1601,1802 1601,1796 1601,1849 1602,1886 1602,1879 1602,1830 1602,1775 1602,1721 1603,1744 1603,1873 1603,1776 1603,1813 1604,1812 1604,1795 1604,1820 1604,1856 1604,1775 1605,1780 1605,1787 1605,1827 1605,1778 1605,1820 1606,1803 1606,1834 1606,1741 1606,1815 1607,1744 1607,1841 1607,1729 1607,1768 1607,1740 1608,1781 1608,1772 1608,1690 1608,1806 1608,1786 1609,1751 1609,1711 1609,1786 1609,1794 1610,1742 1610,1837 1610,1807 1610,1717 1611,1863 1611,1723 1611,1914 1611,1735 1611,1831 1611,1755 1612,1755 1612,1812 1612,1816 1612,1788 1613,1790 1613,1738 1613,1771 1613,1737 1614,1797 1614,1795 1614,1803 1614,1817 1614,1844 1615,1807 1615,1911 1615,1837 1615,1814 1616,1835 1616,1747 1616,1732 1616,1784 1616,1806 1617,1788 1617,1744 1617,1769 1617,1826 1617,1728 1618,1857 1618,1802 1618,1826 1618,1824 1618,1875 1619,1853 1619,1862 1619,1769 1619,1770 1620,1785 1620,1811 1620,1756 1620,1799 1620,1807 1621,1786 1621,1786 1621,1819 1621,1800 1621,1754 1622,1776 1622,1875 1622,1819 1622,1853 1623,1787 1623,1821 1623,1801 1623,1752 1623,1777 1624,1750 1624,1831 1624,1697 1624,1758 1624,1711 1625,1836 1625,1756 1625,1793 1625,1807 1626,1712 1626,1783 1626,1746 1626,1812 1627,1804 1627,1839 1627,1775 1627,1822 1627,1704 1628,1770 1628,1713 1628,1752 1628,1767 1628,1724 1629,1696 1629,1736 1629,1621 1629,1749 1629,1742 1630,1774 1630,1697 1630,1712 1630,1760 1631,1690 1631,1676 1631,1731 1631,1728 1631,1601 1632,1737 1632,1782 1632,1733 1632,1685 1632,1862 1633,1792 1633,1754 1633,1823 1633,1816 1634,1750 1634,1777 1634,1778 1634,1833 1634,1851 1635,1855 1635,1790 1635,1942 1635,1807 1636,1861 1636,1785 1636,1815 1636,1778 1636,1717 1637,1765 1637,1801 1637,1851 1637,1820 1637,1787 1638,1850 1638,1758 1638,1812 1638,1784 1639,1815 1639,1808 1639,1736 1639,1813 1639,1806 1640,1861 1640,1759 1640,1737 1640,1731 1640,1787 1641,1762 1641,1744 1641,1781 1641,1704 1642,1826 1642,1854 1642,1723 1642,1839 1643,1729 1643,1785 1643,1773 1643,1751 1643,1816 1644,1801 1644,1824 1644,1794 1644,1832 1645,1906 1645,1958 1645,1835 1645,1799 1645,1889 1645,1724 1646,1735 1646,1759 1646,1778 1646,1761 1647,1772 1647,1734 1647,1817 1647,1787 1647,1809 1648,1757 1648,1732 1648,1838 1648,1766 1649,1704 1649,1745 1649,1781 1649,1760 1649,1743 1650,1746 1650,1692 1650,1772 1650,1763 1651,1710 1651,1762 1651,1703 1651,1716 1651,1761 1652,1794 1652,1746 1652,1766 1652,1769 1652,1677 1653,1867 1653,1835 1653,1760 1653,1768 1653,1839 1654,1758 1654,1649 1654,1711 1654,1799 1655,1816 1655,1705 1655,1726 1655,1705 1655,1676 1656,1680 1656,1747 1656,1715 1656,1705 1657,1717 1657,1767 1657,1732 1657,1787 1658,1746 1658,1829 1658,1800 1658,1736 1658,1754 1658,1805 1659,1761 1659,1830 1659,1811 1659,1723 1660,1691 1660,1753 1660,1656 1660,1677 1660,1641 1661,1811 1661,1687 1661,1699 1661,1756 1662,1763 1662,1755 1662,1857 1662,1783 1662,1800 1663,1821 1663,1770 1663,1799 1663,1700 1664,1784 1664,1812 1664,1756 1664,1739 1664,1802 1665,1760 1665,1798 1665,1760 1665,1721 1666,1766 1666,1770 1666,1816 1666,1780 1666,1761 1667,1730 1667,1705 1667,1720 1667,1796 1667,1800 1668,1825 1668,1819 1668,1824 1668,1752 1668,1755 1669,1897 1669,1807 1669,1772 1669,1775 1670,1829 1670,1809 1670,1770 1670,1821 1670,1766 1671,1766 1671,1726 1671,1844 1671,1743 1671,1718 1672,1788 1672,1779 1672,1870 1672,1708 1673,1819 1673,1810 1673,1726 1673,1789 1673,1714 1674,1840 1674,1826 1674,1746 1674,1831 1675,1848 1675,1838 1675,1825 1675,1756 1675,1800 1676,1783 1676,1699 1676,1782 1676,1833 1676,1808 1677,1806 1677,1820 1677,1726 1677,1898 1678,1652 1678,1753 1678,1682 1678,1790 1678,1790 1679,1734 1679,1753 1679,1795 1679,1792 1679,1821 1680,1848 1680,1876 1680,1862 1680,1786 1680,1825 1681,1783 1681,1851 1681,1751 1681,1799 1682,1828 1682,1807 1682,1699 1682,1710 1683,1753 1683,1856 1683,1784 1683,1721 1683,1786 1684,1766 1684,1852 1684,1799 1684,1761 1685,1811 1685,1768 1685,1821 1685,1842 1685,1856 1686,1817 1686,1777 1686,1760 1686,1789 1686,1735 1687,1826 1687,1841 1687,1732 1687,1742 1688,1782 1688,1748 1688,1715 1688,1841 1688,1820 1689,1904 1689,1775 1689,1714 1689,1793 1689,1787 1690,1781 1690,1755 1690,1776 1690,1799 1690,1692 1691,1763 1691,1768 1691,1783 1691,1860 1692,1776 1692,1748 1692,1762 1692,1685 1692,1715 1693,1774 1693,1735 1693,1794 1693,1796 1694,1757 1694,1758 1694,1768 1694,1788 1694,1791 1695,1860 1695,1835 1695,1794 1695,1808 1695,1813 1696,1782 1696,1787 1696,1750 1696,1802 1696,1832 1697,1787 1697,1813 1697,1731 1697,1819 1698,1808 1698,1819 1698,1765 1698,1769 1698,1843 1699,1798 1699,1810 1699,1764 1699,1823 1700,1829 1700,1842 1700,1872 1700,1830 1701,1834 1701,1913 1701,1892 1701,1805 1701,1833 1701,1865 1702,1768 1702,1770 1702,1862 1702,1755 1703,1821 1703,1810 1703,1756 1703,1780 1703,1771 1704,1722 1704,1714 1704,1754 1704,1785 1705,1772 1705,1832 1705,1756 1705,1771 1705,1781 1706,1779 1706,1756 1706,1794 1706,1719 1707,1889 1707,1783 1707,1794 1707,1773 1707,1786 1708,1860 1708,1878 1708,1753 1708,1753 1708,1784 1709,1770 1709,1783 1709,1841 1709,1766 1710,1771 1710,1855 1710,1837 1710,1843 1710,1822 1711,1756 1711,1783 1711,1774 1711,1798 1712,1803 1712,1761 1712,1829 1712,1829 1712,1779 1713,1868 1713,1828 1713,1765 1523,1560 1534,1579 1523,1591 1637,1554 1656,1586 1673,1601 1633,1616 1503,1643 1534,1643 1599,1644 1604,1677 1457,1684 1487,1673 1553,1954 1581,1971 1603,1940 1680,1917 1711,1920 1644,1911" fill="none" stroke="none" marker-start="url(#mo)" marker-mid="url(#mo)" marker-end="url(#mo)"/>
</g>
<defs><filter id="tb" x="-5%" y="-20%" width="110%" height="140%"><feGaussianBlur stdDeviation="0"/></filter></defs>
<g>
<text x="222.5" y="85.0" text-anchor="end" font-size="56">1.0</text>
<text x="222.5" y="254.0" text-anchor="end" font-size="56">0.8</text>
<text x="222.5" y="443.5" text-anchor="end" font-size="56">0.6</text>
<text x="222.5" y="632.6" text-anchor="end" font-size="56">0.4</text>
<text x="222.5" y="821.8" text-anchor="end" font-size="56">0.2</text>
<text x="222.5" y="984.2" text-anchor="end" font-size="56">0.0</text>
<text x="280.0" y="1099.3" text-anchor="middle" font-size="56" textLength="126.7" lengthAdjust="spacingAndGlyphs">2002</text>
<text x="540.6" y="1099.3" text-anchor="middle" font-size="56" textLength="126.7" lengthAdjust="spacingAndGlyphs">2004</text>
<text x="801.1" y="1099.3" text-anchor="middle" font-size="56" textLength="126.7" lengthAdjust="spacingAndGlyphs">2006</text>
<text x="1061.7" y="1099.3" text-anchor="middle" font-size="56" textLength="126.7" lengthAdjust="spacingAndGlyphs">2008</text>
<text x="1322.3" y="1099.3" text-anchor="middle" font-size="56" textLength="126.7" lengthAdjust="spacingAndGlyphs">2010</text>
<text x="1582.9" y="1099.3" text-anchor="middle" font-size="56" textLength="126.7" lengthAdjust="spacingAndGlyphs">2012</text>
<text x="1843.4" y="1099.3" text-anchor="middle" font-size="56" textLength="126.7" lengthAdjust="spacingAndGlyphs">2014</text>
<text x="2104.0" y="1099.3" text-anchor="middle" font-size="56" textLength="126.7" lengthAdjust="spacingAndGlyphs">2016</text>
<text x="1192.3" y="1184.0" text-anchor="middle" font-size="58">Year</text>
<text x="318.5" y="89.2" font-size="48.4" textLength="1226.0" lengthAdjust="spacingAndGlyphs">ACSPO R2.40, AVHRR GAC, Night Time, outlier retained</text>
<text x="338.4" y="153.8" font-size="38.5" fill="#00b000">NOAA16</text>
<text x="548.0" y="153.8" font-size="38.5" fill="#00c8ff">NOAA17</text>
<text x="757.6" y="153.8" font-size="38.5" fill="#ff0000">NOAA18</text>
<text x="967.2" y="153.8" font-size="38.5" fill="#0000ff">METOPA</text>
<text x="1176.8" y="153.8" font-size="38.5" fill="#ff9a00">NOAA19</text>
<text transform="translate(78.5 514.3) rotate(-90)" text-anchor="middle" font-size="59" textLength="665.0" lengthAdjust="spacingAndGlyphs" xml:space="preserve">SD,  Reg_V - (Drifter+TM)</text>
<text x="1092.1" y="1282.6" text-anchor="middle" font-family="'Liberation Serif', serif" font-weight="bold" font-size="86" textLength="92.7" lengthAdjust="spacingAndGlyphs"><tspan font-weight="normal">(</tspan>a<tspan font-weight="normal">)</tspan></text>
<text x="222.5" y="1381.0" text-anchor="end" font-size="56">1.0</text>
<text x="222.5" y="1550.0" text-anchor="end" font-size="56">0.8</text>
<text x="222.5" y="1739.5" text-anchor="end" font-size="56">0.6</text>
<text x="222.5" y="1928.6" text-anchor="end" font-size="56">0.4</text>
<text x="222.5" y="2117.8" text-anchor="end" font-size="56">0.2</text>
<text x="222.5" y="2280.2" text-anchor="end" font-size="56">0.0</text>
<text x="280.0" y="2395.3" text-anchor="middle" font-size="56" textLength="126.7" lengthAdjust="spacingAndGlyphs">2002</text>
<text x="540.6" y="2395.3" text-anchor="middle" font-size="56" textLength="126.7" lengthAdjust="spacingAndGlyphs">2004</text>
<text x="801.1" y="2395.3" text-anchor="middle" font-size="56" textLength="126.7" lengthAdjust="spacingAndGlyphs">2006</text>
<text x="1061.7" y="2395.3" text-anchor="middle" font-size="56" textLength="126.7" lengthAdjust="spacingAndGlyphs">2008</text>
<text x="1322.3" y="2395.3" text-anchor="middle" font-size="56" textLength="126.7" lengthAdjust="spacingAndGlyphs">2010</text>
<text x="1582.9" y="2395.3" text-anchor="middle" font-size="56" textLength="126.7" lengthAdjust="spacingAndGlyphs">2012</text>
<text x="1843.4" y="2395.3" text-anchor="middle" font-size="56" textLength="126.7" lengthAdjust="spacingAndGlyphs">2014</text>
<text x="2104.0" y="2395.3" text-anchor="middle" font-size="56" textLength="126.7" lengthAdjust="spacingAndGlyphs">2016</text>
<text x="1192.3" y="2480.0" text-anchor="middle" font-size="58">Year</text>
<text x="314.9" y="1386.5" font-size="48.4" textLength="1271.2" lengthAdjust="spacingAndGlyphs">PathFinder V5.2, AVHRR GAC, Night Time, outlier retained</text>
<text x="338.4" y="1449.8" font-size="38.5" fill="#00c8ff">NOAA17</text>
<text x="548.0" y="1449.8" font-size="38.5" fill="#ff0000">NOAA18</text>
<text x="757.6" y="1449.8" font-size="38.5" fill="#ff9a00">NOAA19</text>
<text transform="translate(78.5 1809.3) rotate(-90)" text-anchor="middle" font-size="59" textLength="773.6" lengthAdjust="spacingAndGlyphs" xml:space="preserve">SD,  PathFinder - (Drifter+TM)</text>
<text x="1092.1" y="2583.0" text-anchor="middle" font-family="'Liberation Serif', serif" font-weight="bold" font-size="86" textLength="102.9" lengthAdjust="spacingAndGlyphs"><tspan font-weight="normal">(</tspan>b<tspan font-weight="normal">)</tspan></text>
</g>
</g>
</svg></body></html>
